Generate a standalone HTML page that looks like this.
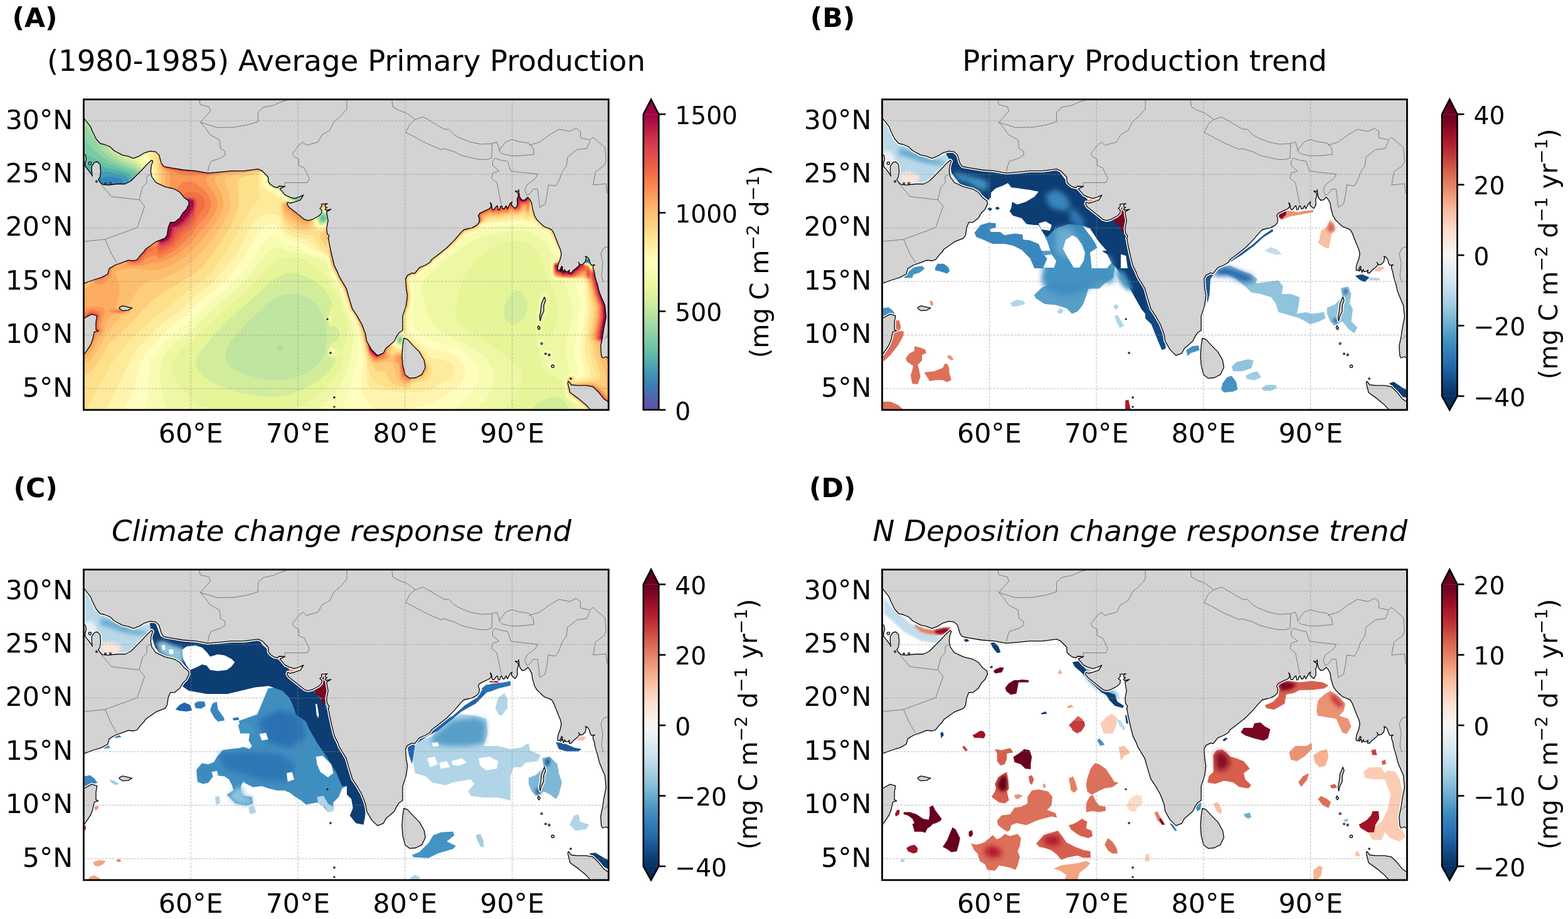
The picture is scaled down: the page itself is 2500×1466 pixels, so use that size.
<!DOCTYPE html><html><head><meta charset="utf-8"><style>html,body{margin:0;padding:0;background:#fff}svg{display:block}</style></head><body><svg xmlns="http://www.w3.org/2000/svg" width="2500" height="1466" viewBox="0 0 2500 1466"><style>text{font-family:"DejaVu Sans","Liberation Sans",sans-serif;fill:#000}.tk{font-size:42.7px}.cb{font-size:39.2px}.ti{font-size:46.6px}.pl{font-size:42.7px;font-weight:bold}.it{font-style:italic}.cl{font-size:40.1px}</style><rect width="2500" height="1466" fill="#fff"/><defs><filter id="bl1" x="-50%" y="-50%" width="200%" height="200%"><feGaussianBlur stdDeviation="0.8"/></filter><filter id="bl2" x="-50%" y="-50%" width="200%" height="200%"><feGaussianBlur stdDeviation="1.6"/></filter><filter id="bl3" x="-50%" y="-50%" width="200%" height="200%"><feGaussianBlur stdDeviation="2.4"/></filter><filter id="bl4" x="-50%" y="-50%" width="200%" height="200%"><feGaussianBlur stdDeviation="3.2"/></filter><filter id="bl5" x="-50%" y="-50%" width="200%" height="200%"><feGaussianBlur stdDeviation="4.0"/></filter><filter id="bl6" x="-50%" y="-50%" width="200%" height="200%"><feGaussianBlur stdDeviation="4.8"/></filter><filter id="bl7" x="-50%" y="-50%" width="200%" height="200%"><feGaussianBlur stdDeviation="5.6"/></filter></defs><g transform="translate(133.4,158.6)"><clipPath id="clipA"><rect x="0" y="0" width="836.9" height="495.3"/></clipPath><g clip-path="url(#clipA)"><rect x="0" y="0" width="836.9" height="495.3" fill="#fff"/><rect x="-6" y="-6" width="848.9" height="507.3" fill="#5e4fa2"/><path d="M-4 -6l846 0 0 506-848 0 0-506zM801.6 258l2.8 0-2.4-0.2z" fill="#5061aa" fill-rule="evenodd"/><path d="M-4 -6l846 0 0 506-848 0 0-506zM800.3 258l3.7 1.4 0-2.8-2 0.4z" fill="#4175b4" fill-rule="evenodd"/><path d="M-4 -6l846 0 0 506-848 0 0-506zM803.1 256l-3.1 2.5 6 1.7-2-4.3z" fill="#3387bc" fill-rule="evenodd"/><path d="M-4 -6l846 0 0 506-848 0 0-299.7 24-2 4-1.6 10-0.4 12-2.3 18.4-8 1.6-2 0-4-1.2-48-1.9-4-2.9-1.9-8-2.3-10-0.8-18 2.9-18 15.3-4 2.1-6 0.9 0-150.2zM801.7 256l-2.2 2 0.5 1.1 6.7 0.9-1.4-4-3.3-0.3z" fill="#439bb5" fill-rule="evenodd"/><path d="M-4 -6l846 0 0 506-848 0 0-299.2 24-2 28.4-4.8 19.6-9 12-4 4-2.2 6.2-6.8-0.2-7.4-14-29-3.2-9.6-2.8-3.4-4-1.9-24-5.1-18-0.3-6.7 2.7-16.6 18-4.7 0.7 0-142.7zM801.2 256l-1.9 2 0.7 1.7 7.1 0.3-0.2-2 1.8-2-0.7-0.7-6-0.1z" fill="#54aead" fill-rule="evenodd"/><path d="M-4 -6l846 0 0 506-848 0 0-298.7 24-2 28-4.7 36-14.5 7-8.1-0.4-24 1.1-10-11.7-11.1-4-6.6-6-3.4-40-9.9-8 0.3-10-2.8-16-0.6 0-109.9zM337.8 158l4 0-3.8-0.1zM380.9 188l-0.9 2.5 2 0.6 0-3.7zM806.2 254l-4.2 0.8-2 1.8-1 1.4 0.8 2 6.2 1 1.6-1 2.4-2.4 1.3-3.6-3.3-0.4z" fill="#66c2a5" fill-rule="evenodd"/><path d="M-4 -6l846 0 0 506-848 0 0-298.2 24-1.9 26-4.2 38-14.9 7.8-8.8-0.4-24 1.5-10-0.9-8.6-13.8-13.4-36.2-12-19.7-8-14.4-8-11.9-9.8 0-84.2zM335.2 158l4.8 1.6 4.2-1.6-2.2-1.5-6 0.8zM379.9 186l-1.8 4 0.5 2 3.4 1.4 2.1-1.4 0.6-4-2.7-2.8-2 0.8zM810.9 252l-8.9 2.4-3.3 3.6 0.9 2 6.4 1.3 4-2.4 3.4-4.9-1.4-2.1z" fill="#7ccaa5" fill-rule="evenodd"/><path d="M-4 -6l846 0 0 506-848 0 0-297.7 24-1.9 26-4.2 38-14.7 8.5-9.5-0.2-24 1.6-10-1.9-14.9-8-8.2-6-3.5-28-9.5-18.4-9.9-15.7-14-19.9-24.1 0-59.9zM336.9 152l-3.5 6 4.6 2.4 6-0.8 1.1-1.6-1.1-2-6-4.4zM381.4 184l-3.2 2-1.4 4 1.2 3.9 2 1 4-0.9 2.4-4-1-4-3.4-2.2zM807.5 252l-7.5 3.4-1.5 2.6 0.8 2 6.7 1.6 6.4-3.6 2.7-6-1.1-1.6-6 1.4zM503.1 382l-0.6 2 1.5 3 2-1 0.3-2-0.3-2.4-2-0.7z" fill="#94d4a4" fill-rule="evenodd"/><path d="M-4 -6l846 0 0 506-848 0 0-297.1 24-2 26-4.1 38-14.6 9.1-10.2 0-24 1.7-10-0.8-18.5-10.5-9.5-29.5-11.3-16.2-10.7-11.1-12-16.7-25.7-14-18.5 0-37.8zM335.1 150l-3.2 8 2.1 2 10 2.6 4.7 5.4 7.3 0 0-4.5-9.6-5.5-0.4-2-6-7-4-0.9zM378.8 184l-2.8 4-0.1 4 2.1 3.5 4 0.6 3.8-2.1 2.2-4.5 2.4-1.5-6.4-4.9-4 0.2zM810.6 250l-11 4-1.4 2 0.8 4 7 1.9 5.6-1.9 3.5-4 2.1-6-5.2-0.6zM503.2 380l-1.8 4 0.6 2.8 2 1.6 2.9-2.4 0.3-4-1.2-2.3-2-0.3z" fill="#aadca4" fill-rule="evenodd"/><path d="M80 -6l762 0 0 506-848 0 0-296.6 38-3.7 16-3.4 18-8.3 16-5.2 9.8-10.8 0.2-24 1.8-10 0.3-18-1.2-4-10.9-9.6-16.9-6.4-14.5-8-9.3-8-9.4-12 2.6-12 9.5-16.6 20-22.9 12-11.5 2.6-9 0-6zM337.8 144l-3 2-4.2 12 1.7 2 7.7 2.9 8 5.5 6 0.9 3.3-1.3 0.7-4-1.1-2-12.3-8-4.5-10-2.1 0zM380.5 182l-3.8 2-2 6 0.7 4 2.6 2.9 6-0.4 4-3.6 14-1 1.3-1.9-21.3-8.4zM813.1 248l-11.1 5.1-4 0.4-0.7 2.5 1.5 4 7.2 2.2 7.3-2.2 7.5-12-2.8-1.2-4 0.8zM501.6 380l-0.9 6 3.3 3.6 2.7-1.6 1.5-6-2.2-3.7-4 1.2zM311.1 392l-3.1 2.3-0.6 3.7 2.6 2.3 4-0.2 2.8-2.1 0.2-4-2.2-2-2.8-0.3z" fill="#bfe5a0" fill-rule="evenodd"/><path d="M80 -6l762 0 0 506-848 0 0-296.1 38-3.7 16-3.4 18-8.4 16-5.1 10.4-11.3 0.5-24 1.8-10 0.9-18-0.7-6-10.9-10.3-16.8-7.7-9.8-6-7-6-1.1-4 1.5-6 11.5-16 3.9-10 5.8-8.8 0.4-11.2 1.6-1.6 0.3-6.4 5.2-18 0.4-8zM315.4 104l-19 20 1.6 6.1 4-2.6 4 4.5 0 2.6 4 2.1 2.6-2.7-0.1-18 0.8-4 4.3-8-1.6-0.6zM336.8 142l-3.6 4-4 12 0.8 1.1 6.9 2.9 4.1 4 9 3.8 4 0.2 4-1.7 1.1-4.3-1.1-4-12.6-6-3.4-11-2-2.5-2 0.9zM377.5 182l-2.8 2-1 6 1.6 6 2.7 2.1 5.2-0.1 4.8-3.1 32 1.1 1.4-2-37.4-13.2-6 1zM821.3 242l-19.3 10.6-4-0.5-1.8 1.9 2.3 6 11.5 3.4 5-3.4 12.5-16-1.5-3.1-4 0.7zM329.6 310l-17.6 4.1-18 10.6-34.8 33.3-21.9 24-8.8 14-3 12 2 10 7.9 10 13.8 8 18.8 6.1 28 5.4 20 0.5 18-3.1 16-6.1 16-9.6 12-11.2 6-11.2 4.3-28.8-2.3-18.5-4.6-17.5-7.4-12.4-14-11.9-14-5.9-16-1.8zM501.9 378l-2.1 4 0 4 2.2 3.9 2 0.8 3.6-2.7 1.3-6-2.9-5.3-4 1.2z" fill="#d1ed9c" fill-rule="evenodd"/><path d="M82 -6l760 0 0 506-56.6 0-13.4-9-8-12.4-6-2.6-8-0.9-10 1.6-10 4.4-10 7.1-13 11.8-713 0 0-295.6 38-3.6 16-3.4 18-8.5 16-5 11-11.9 0.7-24 3.5-28-0.6-8-10.6-11-15.5-9-0.5-1.9-2.6-0.1 1.2-2-0.6-3.1 1.8-10.9 3.2-10 1-28 7.1-36 0-6zM325.8 90l-31.3 32-0.1 8-1.3 2 4.9 5.1 4.2 0.9-0.2 2.3 8 0.8 2-2.1 2 1.7 0.8-24.7 13.5-26-2.3-0.2zM342.2 136l-8.2 5.6-6.1 16.4 1.3 2 6.2 2 3.5 4 4.3 2 6.8 2.5 6-0.2 3.4-2.3 0.5-8-1.9-2.7-8-4.6-2 1.8-1.5-0.5 2.3-2-2.8-3.5-2-13.5zM380.1 180l-7.3 4 0.5 10 2.2 4 2.5 1.3 4 0.2 6-2.4 22 2.1 25.9-1.2-0.6-2-53.3-16.5zM829.2 236l-7.2 3.2-20 12.9-6-0.6 0.6 6.5 3.4 3.5 10 3 1.7-0.5 5.9-4 7.1-8 3.3-1.3 8-8.1 2.7-0.6-0.7-3-2 0.4-2-4.4-4 0.2zM320.8 278l-10.8 5.5-18 13.1-59.2 53.4-21.6 22-22 26-9.1 14-2.3 10 4.2 10 12.7 12 19.8 12 29.5 11.2 40 6.8 24 0.5 22-3.9 22-8.6 24-15.1 10-8.6 8-8.9 6-9.4 1.8-6-11-4-1.9-4 0.5-6 4.6-9.9 8-3.6 2.6-2.5 3.9-10-3.2-10-3.3-2-8 0.2-2-1.7-4.3-10.5 8.4-22-0.3-4-2.6-6-5.2-9.7-5.5-6.3-8.5-8-10-6.7-12-6-12-4.3-10-0.9-8 1.5zM686.4 306l-6.4 5.9-5.1 8.1-3.8 10-1.7 10 1.1 8 3.4 6 4.1 3.4 6 1.9 8-1.8 8-6.6 5.6-8.9 2.3-10-1.3-10-4.6-10.1-6-6.1-4-1.3-4 0.7zM502.6 376l-4.1 4 0.1 4 1.4 4.9 4 2.8 4.2-1.7 1.5-4-1.7-8.8-2-2-2 0.1z" fill="#e6f598" fill-rule="evenodd"/><path d="M84 -6l326.6 0-2.3 10-56 112-12.6 18-6.4 6-6.9 18 1.3 2 4.9 2 5.4 4.5 12 4.7 4 0.2 6.5-3.4 0.5-14 17-40 35-102 3-6 2.4-12 423.6 0 0 227.6-8 2.4-14 14-12 9-6 3.2-6 0.3-1.5 1.5 1.5 6 2 2 12 5.1 8-2.6 24-0.3 0 237.8-40.1 0-15.9-7.3-16-14.1-2.9-8.6-3.1-17.7-2-3.4-8-5.3-16-6.4-6.8-7.2-2-10-4.4-12 1.8-8-5.6-8 0.2-6 2.8-4 4-2.5 4-0.5 8 1.7 4.1-2.7 7.9-14.5 4-10.5 1.7-11-0.9-12-22.2-62-9.1-20-7.5-9.8-8-6.9-8-4.1-10-1.5-18.1 2.3-16 6-17.1 10-18.8 16-9.5 12-9 18-6.1 18-3.4 20-0.6 12 1 8 3.3 8 4.6 6 11.7 10 28 15.2 24.5 16.8 21.4 18 9.6 12 1.6 6-0.1 6-5.2 16-11.5 18-17.7 20-342.8 0 22.2-10.7 20-12.2 22-17 14-14.9 8-12.3 5.6-12.9 1.1-8-2.5-8 7.3-18 2-16-1.5-15.5-10.4-28.5-7.5-18-8.1-12.4-6-14.8-12-9.7-26-15.1-10-3.5-10-0.9-16 1.7-12 7.3-49.3 51.4-33.7 28-62.9 60-9.2 10-5.2 8-1.8 8 1.3 10 3.9 10 6.6 10 28.3 29.4 12 8.1 14.1 6.5-212.1 0 0-295.1 38-3.6 16-3.4 18-8.5 16-5 8.5-8.4 4-6 0.1-22 4.8-34-1.4-6-14.8-14-2.2-4-4-18-1.9-18 0.8-18 3.9-26 2.6-10 0-6zM333.9 80l-7.9 6.5-34.7 35.5 0.7 10.5 10 9 6 0.9 6 4.9 3.1-5.3-1.1-2 1.6-26 17.7-30 0.7-4-2-0.1zM376.1 180l-4.9 4 0.7 8 2.2 6 3.9 2.5 12-1.7 20 2 22-1 8-1.6 3.3-2.2-41.3-10.9-18-6.4-6 0.7zM481.8 366l12.2 11.2 6 13.3 4 2.2 6-2.6 0.5-8.1-2.5-6.9-2-1.3-4 0.6-6-1.8-14-7zM732 309.6l4-0.5 4 1.7 3.6 5.2 0.2 4-4.2 10-0.2 8-8.5 20 2.5 4 0.2 6-3.6 5-4 0.7-4-2.2-3.5-7.5 3.3-8-0.7-10 3-22 5.1-12 2.2-2zM392 343.8l2-0.8 2 1.2 2.2 3.8-1.2 6-3 2.2-2-0.5-2.9-5.7 2.8-6zM394 395l4 0.2 4.9 2.8 3.3 4 0.3 4-6.5 3.2-8 0.1-2.1-5.3 3.1-8z" fill="#eef8a4" fill-rule="evenodd"/><path d="M84 -6l322.2 0-2.4 10-56 112-11.2 18-5.3 6-6.4 18 1.2 2 11.9 7.4 12 4.5 4 0.1 4-0.9 3.5-3.1 1.5-14 17.4-42 38-108 1.2-10 422.4 0 0 224.1-8 2.4-27 25.5-5 2.7-6 0.7-2.4 2.6 1.9 6 2.5 2.5 12 5.2 16-2.8 16 0 0 237.1-35.7 0-0.3-1.9-8-2.5-8-4.2-18-14.8-2-2.9-3.2-19.7 0.3-10 2.9-5 6.9-3-7.6-22-0.9-14 10.8-58 0.5-10-1.8-10-11.5-30-2-2-14.4-2.7-3.6-3.3-1.9-20 2.1-10-0.4-6-8.2-16-8-9.2-12-8.1-10-4.5-10-1.3-32 2.9-28.7 6.2-21.3 9.1-24 17.6-24 19.9-6 6.8-14.2 10.6-10.9 16 3.1 15.1 10 32.9 7.4 14 6.2 6 11.8 8 28.6 12.9 22.4 13.1 15.5 14 9.2 14 2.6 8 1.1 10-3.6 16-11.1 18-19.3 20-249.5 0 31.5-34 7.2-10.7 6.7-13.3 6.5-20 7-40-0.8-20-2.9-10-8.4-16-10-30-13.3-22-6.8-23.4-2-2.9-15.2-5.7-32.8-8.1-18-2.6-6-4.6-4-1.3-8 2.2-8 5.9-25.7 32.5-22.3 24.8-42.1 35.2-27.9 26.9-29.6 25.1-17.9 20-6.3 14-1.4 18 3.6 24 9.9 36-140.3 0 0-294.5 38-3.6 16-3.5 18-8.5 16-4.9 13.3-15 0.2-22 6.2-36-1.7-6.6-12-13.4-4-7.4-4.3-14.6-2.4-16 0.5-18 3.4-26 2.5-10 0-6zM335.7 74l-45.7 46 1 4-0.6 8 1.2 2 8.9 8 7.5 1.8 6 5.4 2 0.5 3.7-5.7 0.2-30 18.6-30 2.6-6 0.4-4-1.5-1.4-4 1.1zM379.5 178l-7.5 2.2-2.3 3.8 1.6 4 0.7 8.5 2 3.3 4 1.9 8-1.4 24 1.8 22-1 20-3.6 1.7-1.5-51.7-12.3-18-6-4 0.3zM479.9 358l-1 6 1.1 6.4 13.6 11.6 6.6 10 3.8 1.7 6-1.7 1.8-4-0.3-6-2.8-8-15-10-13.7-6.1zM732 313.1l2-1 3 1.9 2.1 4-0.1 4-3 6-0.3 10-3.7 7.3-2.4 8.7-1.6 1.6-2-0.1-1.5-1.5-1.1-8 3.2-22 4.7-10zM392 347.1l2.6 0.9-0.6 4.6-2.5-0.6-0.8-2 0.8-2zM724 357.5l2-0.6 4 7.1-1 4-3 2-2-1-3.5-5 2.9-6zM728 383.7l4 0.3 2.2 2 0.7 4-2.9 3.3-4 0.3-3.4-3.6 0.7-4 2.2-2zM394 397.3l4 1.3 2.8 3.4-0.1 4-2.4 2-4.3 1-3.3-3 0-4 2.5-4zM736 399.8l8 1.9 3.1 2.3 0.7 6-3.8 3.5-4 0.1-8-5.8-1-3.8 4.5-4zM746 418l6 0.2 3.6 3.8-0.4 6-3.2 3.1-8 0.1-3.1-3.2-0.2-6 5.2-4z" fill="#f7fcb2" fill-rule="evenodd"/><path d="M86 -6l301.8 0-0.7 10-3.1 3-0.9 3-9.1 8.9-1.1 3.1-8.9 8.8-1.2 3.2-8.8 8.8-1.2 3.2-8.8 8.8-1.3 3.2-8.7 8.7-1.6 3.3-44.1 50 1.6 6-0.5 8 6.6 6.7 4 3 8 2.1 8 7.9 1.8-3.7 3.7-2 4.5-9.5 1.3 5.5-4.2 14 1.2 2 5.7 2.5 8 5.8 12 4.3 4 0.2 4.3-0.8 4.2-4 1.1-12 18-44 38-108 1.2-10 421.2 0 0 220.6-10 2-29.4 29.4-3.5 2-5.1 0.4-1.2 3.6 2.3 6 2.9 3 8 2.7 4 2.7 16-2.7 16 0 0 236.3-35.1 0-0.9-3-11.1-5-24-20-1.8-6-1.3-14 1.7-10 4.5-2.4 14 0 2.8-1.6-6.8-24-1.7-12 0.6-10 8.7-58-0.9-14-4-18-4.5-12-7.1-2-23.1-1.7-4.4-2.3-1.3-22 5.7-7.4 1.1-8.6-7.1-17-7.7-13-26.3-15.8-16-1.4-60 5.9-8 8.2-16.2 5.1-19.8 18.4-30 24.3-4.2 5.3-17 10-8.8 9.5-8.3 2.5 2.8 28-1.3 16-3.1 16 1.9 8.3 4 8.9 13.8 12.8 3.7 2 40.5 13.2 18.3 8.8 8.2 6 7.9 8 4.1 6 3.3 8 1.1 8-1.5 10-3.4 8.3-6 9.7-16 16.2-25.2 17.8-166.8 0 13-34 13-54 1-36-5-19.8-11.8-22.2-9.7-30-16.5-30.1-6-22.9-26-5-16-8.8-24-6.5-4-2.7-6-8.5-8-2.7-8 2.2-8.5 7-25 38-26.5 30.5-45.3 37.5-24.6 24-27.4 22-21.7 24-7.3 12-4.7 14-1.3 12 0.1 24-5.8 36-104 0 0-294 38-3.6 16-3.4 18-8.7 16-4.7 14-15.6 0.3-22 3.7-22.6 3.7-7.4 0.9-6-2.6-10-18-26.7-4.4-21.3 1.1-30 4.3-24 0-6zM373.5 178l-4.2 2-1.1 4 2.1 4 1.1 10 2.6 3.6 4 1.5 8-1.6 24 1.9 22-1 10-2 10 0 5.8-4.4-0.9-2-8.9-1-38-8.6-20-6.5-8-1.4-8 1.4zM478.8 358l-0.9 10 1.3 4 12.8 11.7 8 9.3 4 1.9 6-0.9 3.1-6-2.6-14-14.5-10.6-16-7.3zM734 313.5l0 1.3-0.7-0.8zM736 315.9l0.8 2.1-0.8 1.2-1.3-1.2 1.2-2zM732 316.4l4.8 5.6-3 4 0.2 11.5-2-7.8-4.2 0.3 0.2-4.9 2 0.3 0.7-1.4-0.7-3.2 3.6-0.8-2.2-2zM726 339.4l1 4.6-1 0.6-0.2-4.6zM732 339.2l0 2.1-1.2-1.3zM730 342.8l0 3.8-1.2-2.6zM726 349.4l2.4 2.6-0.4 1.3-2-0.2-0.3-3.1zM724 359.6l2.4 0.4-2.7 0zM728 363.2l0 2.8-1-2zM724 365.2l0.7 0.8-1.3 0zM726 367.2l0.8 0.8-1.5 0zM728 385.6l2-0.5 2 1.5 1 1.4-1 2.7-1.4-2.7-3.1-2zM728 388.8l1.3 1.2-1.3 1.3-1.3-1.3zM394 398.8l4 2.4 1.2 2.8-3.2 3.7-2 0.5-2.7-2.2 2.3-2-2.3-2 1.3-2zM734 403l1.5 3-1.5 1.1-0.9-3.1zM738 402.8l4 0.8 3.3 2.4 0.3 2-1.6 2.3-4 0.8-2-2.6-2.4-0.5 1.1-4zM744 421.7l2-1.3 4 0.1 2.8 3.5-1.1 4-3.7 1.5-4-1.4-1.5-2.1 1.2-4z" fill="#fffebe" fill-rule="evenodd"/><path d="M88 -6l298.2 0-0.9 6-6.2 10-84.9 102-6.2 6.5-4.2 1.5 4.1 6-1 8 11.1 11 8 2.2 6.2 6.8 3.8 2.3 2.2-0.3 1.8-4.9 3.5 2.9-2.8 2 1.4 4 7.9 3.1 8 6.1 12 4.1 4 0.2 6-1 3.4-4.5 1.3-12 18.1-44 38-108 1.2-10 420 0 0 156-6.1 2-32.1 44-15.4 28-6.4 18 6 2.5 3.5 3.5 3.1 10 3.4 3.5 8 2.5 4 3.3 16-2.9 16 0 0 235.6-34.6 0-1.4-4-8.5-4-26.3-22-2.7-18 0.6-6 2-4 2.9-1.4 6 0.1 4.5 1.3 3.5 3.5 8.5-3.5 3.9-4-6.8-24-2-14 0.7-12 8-54-0.4-18-3.3-24-0.7-2-3-2-38.9-2.3-5.3-1.7-1.5-6-0.5-14 1.3-3.2 6.2-4.8 2.5-10-12.7-29-3.7-5-9-4-15.3-12.1-2-0.8-6 1.4-12-2.2-46 2.8-15.6 2.9-4.4 7-4 2.7-16 4.8-20 20-30 24.3-4 5.2-17.5 10-8.5 9.1-6 0.3-3.1 2.6-0.9 4 3.1 26-1.7 14-5 18 2 22 4.4 4 1.3 4 3.1 4 6.8 5.8 8 4.5 12 5.4 27.3 6.3 12.4 6 10.6 10 4.5 10 0.5 6-1.7 8-7.9 12-25.7 18.8-18 9.7-18 5.7-38 7.2-14 1.4-10-0.7-8-2.1-8-4.3-6-5.5-7.7-12.2-3.8-14-0.1-20 5-28-2.9-6-3.9-30-3.1-12-5.8-14-9.6-16-9.5-30-18.3-34-4.3-19.9-2-1.6-19-4.5-17-13.4-18-4.7-12-4.9-4-4-8-15.9-4-1.9-6-0.6-10 2.7-10 8.4-8 12-16 31.2-29.8 35.1-17.1 16-25.6 20-21.5 20.9-29.5 23.1-30.3 32-6.6 10-4.8 10-10.8 41.8-12 25.8-3.9 12.4-70.1 0 0-293.5 38-3.5 16-3.5 18-8.7 16-4.7 14.6-16.1 0.6-22 2.8-15.3 10.8-8.7-2-14-3.2-10-8.8-14-14.8-32-0.7-18 5-42zM376.8 176l-8.8 2-1.8 2 3.8 18 2.1 4 3.9 2.2 4 0.4 6-1.8 26 1.9 40-3 5.2-1.7 4.8-4.2 7.3-1.8-21.3-3.1-33.1-6.9-15.3-4-7.6-3.9-14-0.3zM478.8 356l-2 6 1.2 11.6 22 20.6 4 2.1 8-1.5 2.5-6.8-1.3-14-17.2-12.3-16-7.3zM392 401.7l2-1.6 2 0.8 1.8 3.1-0.9 2-2.9 1.4-2-1.3 2.6-2.1-2.8-2zM746 421.8l2.9 0.2-3.1 0zM744 423.9l0 2.2-0.1-2.1zM746 427.8l2.6 0.2-2.7 0z" fill="#fff5ae" fill-rule="evenodd"/><path d="M88 -6l296.7 0-2 8-5.8 8-84.3 102-4.6 4.6-6.9 1.4-0.7 2 3.6 8-0.6 6 1.7 4 10.9 10.3 8 2.3 6.1 5.4 8.5 4 11.4 3.6 1.5 2.4 6.3 4 16.2 4.2 8-0.6 1.2-1.6 1.5-4 0.5-10 18.7-46 38.1-108 1.2-10 418.8 0 0 153.5-4 0.8-4.9 3.7-22.4 30-12.1 18-13.4 24-5.8 14-3.3 4 7.9 1.8 4 2.3 7.8 13.9 2.2 2 7.3 2 4.7 4.4 16-3.3 16 0 0 234.9-34 0-0.9-4-7.6-4-25.5-20.4-2.5-3.6-2.5-16 1-5.9 2-3.6 4-1.5 4.7 1 2.7 2-0.7 4 1.3 1.3 2-0.2 18-5.9 4.2-3.2 0.5-2-7.7-26-1.9-14 0.7-16 5.4-48-4-44-1.2-2.2-6-1.7-32-0.4-12.2-1.7-2.3-10 0.4-12 8.2-6 1.9-5.5 2 1.7 2-1.2 8.3 1 3.7-4.4 0-5.2-16 0.1-14.3-30.5-11.7-6-18-15.5-6 3.8-10-5.2-8 2-42 3.1-12.8 3.8-5.2 6.2-6 4.2-16 5-20 20.6-30 23.9-4 5.5-16.1 8.6-7.9 9-6 0.3-4.2 2.7-1.6 6 3.1 26-1.9 14-5.4 16 0.3 24-2.3 1.5-2-0.4-2-2.8-12-8.5-16-7.2-3.6 5.4-0.7 4 2.1 14 11.8 12 0.4 2.2 4 1.2 10 6.8 2-1.2 6 0 3.3-3 1-12-0.8-2 2.5-1.1 38 34.4 18 2.3 10.4 4.4 5 6 1.4 6-2.5 8-5.5 6-28.8 16.5-14 3.5-32 1.1-32-2.6-18-3.9-3.6-2.6-2.9-16-0.7-30-11.3-48-7.1-16-9-14-9.3-30-19.2-36-4.9-20.1-14.4-5.9-9.6-11.1-8-6.9-20-4.2-14-6.4-6-6.9-6-17.8-2-3-4-2.2-8-1.1-8 1-6 2.3-6 3.8-6 6-10 15.5-18.9 37-37.1 44.2-30 23.1-22 21.3-28 20.5-39.4 38.9-11.7 18-18.9 41.4-16.2 30.6-5.6 14-40.2 0 0-293 38-3.4 16-3.5 18-8.8 16-4.6 15.3-16.7 1.3-12 7.8-16 7.8-12-3.5-28-8-18-18.7-57.1 1.5-16.9 1.8-6 0.3-10zM505 98l-109 72.7-12 4-19.5 1.3-0.6 4 4.2 10 0.4 8 2.7 6 6.8 2.3 8-2.1 24 1.8 22-1 25.1-3 18.9-7.7 10-14.8 12-28 4-14.9 4.4-24.6 1.6-15.6-2 1zM394 401l2.8 3-0.8 1.4-3.2-3.4zM394 405.3l1.4 0.7-2.4 0z" fill="#feea9b" fill-rule="evenodd"/><path d="M110 -6l273.2 0 0 2-3.2 8-88.9 108-5.1 4.2-7.5 1.8 0 22 3.9 18-10.4 8.4-6 7.7-35 63.9-27 36.7-11.8 13.3-24.4 16-23.8 20.4-29.2 21.6-44.5 42-11.7 14-14 20-36.6 66.4-8.8 11.6-5.2 0 0-292.5 38-3.4 16-3.5 18-8.8 16-4.6 16-17.7 4.2-1.5 1.8-2.9 9.6-21.1 3.8-12-2.2-30-6.1-24 0-84zM426 -6l416 0 0 151-6 1.7-4 3.5-19.4 25.8-16.5 24-6.6 14-11.5 16.7-16 5.8-4-2.3-2 0.9-0.7-1.1 1.4-2-2.7-1-9.6-21-12.3-6-18.1-17.6-2 0-4 4.5-8-7.6-10 4.2-8-0.1-20 3.1-14 0-14 7.1-5.6 6.4-4.4 2.6-16 4.8-20 21-30 24.3-4 5.3-16 8.7-10 10.1-4-0.9-5.6 4.1-1.4 6 2.9 26-2 14-5.8 16-0.1 23.3-2 0.6-2-4.3-10-6.7-18-8.1-4 5.3-1.4 5.9 2.8 16 12.6 13.7 5.1 2.3 0.9 4 4 0 4 2.3 2-1.5 8 0 3.7-4.8 0.3-9.6 2-0.4 17.8 16 16.6 26 0.5 6-1.4 8-4.4 8-5.1 2.4-18 2.4-2.2 1.2-3 6-2.8 1.5-24-0.8-16.4-2.7-15.6-9.1-4-4.4-2.3-6.5-5.7-38.7-10-37.3-6.5-14-9-14-9.2-30-20.1-38-5.2-20.1-6.6-3.9-19.4-25-12-0.4-12-2.9-10-4.5-8-6.1-4.1-7.1-5.2-22-1.3-8 0.9-2 5.7-1.9 10.7 1.9 5.3 5 10 4 16.6 3 6.1 16 0.2 6 2.2 8 2.3 2 4.6 0.8 10-2.9 26 1.4 20-1 34.5-4.3 5.5-2.2 6-4.8 8-11.6 10.8-23.4 6.2-20 6.3-42-1.3-4.6-116 76.9-8 3.1-10 0.1-6-2.6-2-4 0.3-8.9 18.8-46 38-108 1.2-10zM726.4 168l-8.4 1.2-1 4.8 1 1.1 6-0.8 17.4-6.3-5.4-1.3-8 1zM713.9 170l0.1 8.1 1.4-4.1-1.4-4.1zM451.7 222l10.9 0-0.6-1.4-10 1.4zM439.4 224l11.1 0-2.5-1.5-8 1.4zM427.4 226l10.6 0-2-1.3-8 1.2zM417.4 228l8.1 0-1.5-1.3-6 1.2zM407.4 230l5.7 0-1.1-0.9-4 0.8zM390.8 236l1.2 0.9 0-1.9zM778 244.8l6 0 4 2.5 7.3 12.7 2.7 2.3 6.6 1.7 5.4 5.7 16-3.9 16 0 0 234.2-32.1 0-1.9-4.4-6-2.7-16-14.2-12-8.5-2.4-4.2-1.9-16 2.2-6 2.1-1.8 4-0.2 3.3 2 0.3 2-3.4 4 1.8 1.6 2-0.1 22-3.4 6-1.9 4.7-4.2 1.8-4-9.3-30-1.7-20-2-6 6.1-48-7.3-46-6.3-2.9-18 0.6-24-1.2-4-1.4-1.2-3.1-1.1-14 0.8-4 9.5-5.6 14-4.3 4.6-6.1zM518 381.9l0 1.3-0.1-1.2z" fill="#fee08b" fill-rule="evenodd"/><path d="M184 -6l197.6 0 0 2-3.2 8-66.8 80-21.6 27.5-6 4.2-5.8 0.3-6.2 3.4-13.3 2.6-8.7 3.4-3.2 2.6-1.7 8 2.5 18 0.1 12-5 20-7 14-18.5 30-27 36-14.2 12.8-48.6 29.2-19.4 14.5-41.9 43.5-26.1 24-12 22.4-12 17.2-10 9.1-12 6.9 0-237.5 40-3.6 14-3.3 18-9 16-4.4 16-17.1 10.6-4.7 9.6-22 2.9-10-1.1-4-1-38 3-8 2-1.4 8-1 10-3.6 2-1.8 0.2-2.2 7.8-7.9 0.1-2.1 5.9-5.9 2.1-6.1 3.9-3.9 0.1-2.1 1.9-2 0-2.1-40 40-1-1.9 0.7-2 4.3-7 50.7-67 2.4-10zM426 -6l416 0 0 109.9-3.2 0.1-3.3 2 6.5 0.7 0 35.8-6 0.3-4 1.6-23.8 31.6-6.2 11.1-10.1 12.9-2.5 10-7.4 10.4-18 6.6-6 0.8-2-2-4.7-11.8-9.3-8.2-2.3 0.2-0.3-6 6.8-14 17.8-26.8 65.5-49.2-4 0-107.5 53.4-5.1 6.6-1.7 12-1.2 2.8-2 1.2-6-6.5-12 5-8-0.5-20 3.7-14-0.5-6 2.2-2.8 4.6-5.2 2.8-6 6.3-8 4.4-12.1 2.5-20.8 22-29.9 24-3.2 4.8-18 10.2-8 8.7-4-0.7-6 3.4-1.8 3.6-0.3 4 3.2 26-2.1 14-5.7 14-5.3 4.6-26-0.5-5.4 7.9-1.1 6 1.8 14 1.6 4 10.5 12 4.5 2 0.9 2-3.3 6 0.5 2.1 4 1.4 6-4.1 4 1.8 2-2.4 12-0.1 1.4-0.7 1.1-6 1.5-1.6 6 3.8 4 1 4 3.6 9.1 15.2 2.2 6 3.2 4 0.4 4-6.3 14-8.6 3.8-12 2.9-5.7 7.3-2.3 0.8-12-1-11.5-3.8-5.7-6-6.1-14-8.7 0.4-6-2.1-10-13-14.3-55.3-7.7-17-9.5-15-8.5-28.6-20.9-39.4-4.7-20-0.3-4 3.9-4.6 16-3.5 52-7.7 3.5-2.2-0.2-6-1.3-1.4-68 10-4 2.8-2-1.6-2 8.4-2 0.5-9.3-14.7 0.3-6 9-5.8 2 1.1 24 0 10-1.7 14-0.2 6-1.8 14-0.2 16-2.9 7.1-6.5 9.6-14 9.3-20.6 6.7-21.4 3.3-18 2.7-26-2.7-4.7-116 76.8-8 4-6 0.4-10.2-6.5-0.3-8 18.8-46 38-108 1.2-10zM695.7 144l2.3 0-2-0.1zM318 163.9l6 0 12 7.3 24 6.3 5.4 14.5-0.7 12-1.4 4-3.3 2.2-4 0.5-12-2.2-10.4-4.5-9.6-7.5-4-4.8-3.7-11.7-1.3-12 2.8-4zM736 175.9l8-1.3 1.8 1.4-1 6-1.5 4-7.2 10-0.2 2-1.9 1.1-4-2.2-2 1.5 1.1-2.4-1.1-0.8-2 1.4-6-5.5-5.6-9.1 1.6-2.3 18.3-3.7zM730 198.8l0.8 1.2-1.1 0zM734 203.8l2.5 0.2-2.6 0zM780 245.5l4 0.2 3.5 2.3 7.3 12 3.2 2.6 8 2.8 2 4.1 2 1.3 16-4.3 16 0 0 233.5-30 0-0.2-6-1.8-1.6-4-0.6 0 2.2-4-2-10-9.7-18-13.5-1.4-2.8-1.5-8 1.4-2 0.1-4-1.7-4 3.1-4.9 2 2.8 2-3 1.8 1.1 0.3 2-3.3 4 3.2 2.9 40-4.4 2.6-2.5 1.7-6-10.8-34-2.4-18-4.5-6 6.4-38 0.3-12-5.7-22-4-22-7.6-4.1-18 1.3-23-1.2-5-2-0.6-2-1.2-14 0.8-4 9-4.6 12.2-3.4 8.9-8zM494 352.7l12 0 2 7 2-6.9 0.1 15.2-2.1-7.9-2 0.9-8-6.5-4.3-0.5z" fill="#fece7c" fill-rule="evenodd"/><path d="M190 -6l190.1 0 0 2-2 6-4.1 5.5-64.5 76.5-21.5 27.5-6 3.4-4-0.3-38.2 5.4-12 4-2.3 4 0.2 4 6.5 20 1.7 10-1.6 16-8.3 18-25.5 36-21.7 24-20.9 16-11.9 6.5-16 6.7-28 6.4-9.3 6.4-21.1 32 3.8 2 2.7 6-2.1 2.3-11 3.7-2.6 2-14.4 15.6-4.3 6.4-5.7 5.2-8 17.2-16 24.6-6 5.4-4 0.1-5.4-10.5-2.6-0.4 0-201 42-3.6 10-2.3 20-10 16-4.1 16-17.1 14.6-5.5 13-30-1.7-6 0-14-2.9-10 0.1-4 22.9-21.6 22-30.6 22-46.3 1.4-9.5zM428 -6l152.9 0 1.1 8.9 74 126 12.1 13.1 10.7 6 5.2 0.9 8 0 6-2.4 2.9-2.5 95.1-142.7 0.9-7.3 45.1 0 0 108.6-8.8 1.4-115.2 57.6-6 6.6-2 12.3-2 0.8-2-1.3-4-4.8-4 3.8-8 3.2-8-1.3-6 2.6-8 0.1-6 1.8-10 0.2-4-1.1-8 2.8-3.2 6.7-8.8 8-8 4.6-13.3 3.4-20.7 21.9-20 16.9-10 7-2.3 4.2-7.7 5.3-10 4.5-8 9.1-4-0.7-6.6 3.8-2 4-0.1 4 2.9 26-2.2 14-4 10.2-6 0.6-28.7-8.8-1.1 4 0.7 12-3.5 8-0.8 8 2.7 16 14.5 16-3.1 4-0.4 4 5.7 5.7 8-5 4 0.7 2-2.2 16 1.3 5.4 5.5 0.6 2 6-2.1 6 4.7 2-0.9-1 2.3 3 1.9 3.8 8.1-0.1 4-5.7 12.1-12 4.9-6 1.1-8 6.5-8-1.4-5.1-3.2-5.2-10-3.1-16-4.6-5.6-20 3-8-1.5-4-2.9-4.3-9-6.8-26-0.9-8-4-11.6-7.6-16.4-9.2-14-2.1-10-1.5-2-5.4-18-9.4-16-10.8-22-4.7-22 0-2 2.7-2.2 8-2.7 60-9.4 5.9-3.7 1.1-10 4-8 7-6.5 9.3-13.5 6.4-16 3.8-6 2.6-12 4.2-10 3.4-18 1.5-28-3.2-5.1-109.5 73.1-12.5 6.2-2 2.2-4-0.1-10-6.2-1.8-4.1 18.7-46 24-68 14.6-42 1.2-10zM838 111.9l4 0 0 5.4-4 0.4-6 3.5-82 81.9-4 1-0.9-2.1 0.9-2.3 15.9-31.7 5.1-6 56.8-42 10.2-6.9 3.5-1.1zM318 165.9l4-1.1 14 7.5 22.9 5.7 5 14-3.9 10.8-6 2-8-1.9-10-4.9-7.9-6-6.1-5.7-2.7-4.3-2.3-10 0.8-6zM722 183.6l1.1 0.4-1.7 0zM386 212.6l2.2 1.4 0.2 6-0.4 2.5-2 0.8-2-3.3 1.2-2-0.6-4zM778 247.9l4-1.6 4 1.5 8.3 12.2 3.7 2.9 8 3 2 4.9 2 1 16-4.6 16 0 0 232.8-20.4 0-3.6-9.8-2-2.5-4-1.8-10 4.5-12.1-10.4 0.1-2.4-2 0.4 0.1-2-2.1 0.5-3.6-2.5-0.8-2-4.2-2 0.2-2-1.6-1.9-2 0.7-0.3-0.8 1.6-2-1-6 3.7-4.7 2 1.3 20-2.5 14 0.1 6 3.3 10 2.6 2.2-2.1 0.8-4-1.3-16-11.5-30-2.7-16-7.8-8 6.4-38 0.2-12-11.3-44-9-5.7-14 2.4-18-0.2-12-2.2-2.1-2.3-1.4-14 1.1-4 21.9-8 6.4-6zM780.9 456l4.9 0-3.8-1.2zM774 443.9l0 3-0.1-2.9zM778 443.7l0.8 2.3-0.8 0.9-0.4-2.9zM772 447.6l0.9 0.4-1.2 0zM774 448.7l2.7 3.3-0.7 1.5-2.8-3.5zM772 457.9l1 0.1-1 2-0.1-2zM804 490.9l0.6 1.1-1.2 0z" fill="#fdbf6f" fill-rule="evenodd"/><path d="M192 -6l186.6 0 0 2-4.6 8.5-7.5 7.5-12.5 16.5-17.5 19.5-2.5 4.5-7.5 7.5-2.5 4.5-7.5 7.5-2.5 4.5-7.5 7.5-16.5 22.5-7.5 7.5-2.5-1.3-26 4.2-26 1.7-6 0.8-10.8 4.6-2.2 4 0.5 4 9.9 18 3.3 10 0.3 10-2.5 10-6.5 12.1-23.3 29.9-16.1 18-10.6 9.6-28 16.9-14 5.2-12 0.7-36-3.5-14 2-7.2 3.1-1.4 4 5.2 16 1 10-1.8 12-4.9 16 3.1 0.9 2-2 8-0.2 4 2.3 3.4 5-5.4 3.1-18 1.9-6 4.2-8 10.8-0.8 12-8.7 10-3.4 8-14.3 22-2.8 2.3-2-0.3-2-2.9-6-1.9 0-96.3 16.5-14.9 2.6-6-1.6-2-11.5-35.7-2-4.1-4-1.2 0-37.9 28-2 6-1.5 8.9 0.4 17.1 51.6 3.8 2.4-2.4 2 8.6-0.5 1.1-1.5-1.1-1-2 2.5-3.3-1.5 3.3-1.8 0-3.6-8.2-12.6-13.4-36 1.4-2 4.2-0.3 12.9-7.7 23.1-6.5 16-17.3 20-7.6 4.6-0.6 8.1-26-1.2-20-7.2-14 21.7-21.4 23.4-32.6 21-44 2.4-12zM428 -6l151.7 0 1.6 10 74.7 127.2 12.7 12.8 9.3 4.9 6 1.1 10-0.5 4-1.6 4.3-3.9 93.7-140.4 1.8-9.6 44.2 0 0 107.3-6 0.6-5.8 2.1-108 54-8.2 5.4-2-1.5-1.3 14.1-0.7 2.3-2 0.9-2.2-1.2-3.8-6.5-5.1 6.5-4.9 2-6 0.3-4-1.9-6 3.1-8 0.2-6 1.7-10 0.2-4-1.5-10.2 3.9-2.5 8-7.3 7.2-8 4.5-12 2.3-30 30.1-2 0.2-10 9.7-10 6.8-2 3.2-2-0.1 0.8 2.1-3 0 0.2 2-4 2.6-2-1.5-1.2 0.9 0.2 2-7 2.9-4 5.2-2-0.8-8.1 2.7 0.6 2-8 6 0.7 18 1.7 8-2.1 2 0 4 1.9 2 0 6-1.6 2-1.1 7.2-2-1.3-2 2-4 0.4-8-3.6-20-5-5.5 6.3 1.3 16-2.4 14 1.6 14 3 7.6 11.3 12.4-2.9 4-0.6 4 3.6 6-1.4 3.4-4 2.5-10 2.6-6 0-5.1-2.5-6-8-10.4-42-11-22-0.3-4-1.2-1.7-2.4-0.3 1.6-2-2.1-4-1.1-1.1-2.2 1.1 1-4-3-2 1.3-6-1.1-1.7-2 0.6 0.8-2.9-3.1-4-0.1-2 1.7-2-1.3-1.9-2.3-0.1-0.1-4-2-2 0.2-2-8.3-12 1.1-2-3.2-2 0.3-2-8-14-2.9-10 1.5-2-0.3-1.9-2 0.6-1.4-10.7 3.4-3.5 6-1.8 56-9.6 4 0.2 7.1-3.3 3.6-12 4-8 15.9-22 3.8-12 4.6-8 2.5-12 4.5-10 3.4-18-0.2-16 1.7-10-4.9-11.2-16 10-3.2 3.2-2.8 0.8-3.2 3.2-2.8 0.8-3.2 3.2-2.8 0.8-3.2 3.2-2.8 0.8-3.2 3.2-2.8 0.8-3.2 3.2-2.8 0.8-3.2 3.2-2.8 0.8-3.2 3.2-2.8 0.8-3.2 3.2-2.8 0.8-3.2 3.2-2.8 0.8-3.2 3.2-2.8 0.8-3.2 3.2-2.8 0.8-3.2 3.2-2.8 0.8-3.2 3.2-2.8 0.8-3.2 3.2-2.8 0.8-3.2 3.2-2.8 0.8-3.2 3.2-4.8 2.3-8 0.4-10-4.6 3.1-6.1 0.9-4.9 3.2-5.1 0.8-4.8 5.4-9.2 0.6-4.6 3.5-5.4 4.5-16.5 1.5-1.5 0.5-4.5 1.5-1.5 0.5-4.5 3.5-5.5 0.3-4 1.7-2 2.5-10.5 1.5-1.5 0.5-4.5 1.5-1.5 0.5-4.5 3.5-5.5 0.3-4 1.7-2 0.3-4 1.7-2 4.5-16.5 1.5-1.5 0.5-4.5 3.5-5.5 0.5-4.5 1.5-1.5 0.4-12zM322 166l14 7.4 21.1 4.6 3.6 16-2.7 4.2-4 1-10-3.3-6.6-3.9-14.8-12-2.6-4-1.2-6 0.3-2 2.8-2zM780 247.6l4-0.4 2 1.3 7.8 11.5 4.2 3.2 7.4 2.8 2.7 6 3.9 0.2 14-4.2 16 0 0 182.2-3.7-20.2-8.2-18 0.6-8 7.3-8-12-3.2-4.6-4.8-9.1-6 0.6-8 5.5-28 0.2-14-12-44-6-4-2.6-3.9-16 4-18-0.1-10.1-2-3.9-3.9-1.1-12.1 1.1-3.9 20-6.7 9.4-7.4zM526 277.4l2.1 0.6-2.5 0zM428 335.3l1.1 0.7-1.4 0zM512 334.9l0 2.8-1.2-1.7zM506 405.3l10 0.6 5.1 2.1 9.9 14 7 0.4 4 1.9 2-1-0.8 2.7 0.8 1.7 2.1 0.3-5 12-11.1 4.9-6 1.1-6 5.4-6-0.6-6-3.4-3.1-9.4-1-14-0.9-2-6-4-0.7-2 0.5-4 3-4 2.2-1.2 4 0.5 1.3-1.3zM794 454l6-0.7 14 1.2 13.9 9.5 8.1 9.1 3.9-3.1 2.1-4.7 0 34.7-18.8 0-2.4-8-4.8-6.7-6-2.4-8 2.1-3.7-3-2.2-4 1.6-4-4.6-10 0.2-6 2.8-2-2.3-2z" fill="#fdad60" fill-rule="evenodd"/><path d="M194 -6l141.8 0 0 2-2.4 8-52 104-3.6 2 0.8 2-6.6 0.6-2-2.2-6-0.2-3.1 1.8 3.2 2-2.1 0.6-40 2.6-20.5 4.8-6.1 4-1 2 1.1 4 12.5 17.8 3.8 8.2 1.4 8-1 8-3.1 8-5.1 8-34.2 40-18.4 16-17.4 9.2-14 4.4-14 1.6-14 4-22 0.5-2.3-1.7-0.1-4-3.5-12-15.1-44 3.7-4 7.3-4 12-3.9 10-1.1 4-3.6 4.4-7.4 7.6-7.2 14-5.2 18.1-3.6 7.2-24 0.9-18-2.7-6-9.5-7-2.5-5 2.5-1.1 18.4-18.9 24.5-34 21-44 2.4-12zM518 -6l60.5 0 1.6 10 75.2 128 12.7 12.8 10 5.4 6 0.8 11.9-1 4.1-2.4 4-4.3 92-138 2.4-5.3 0.4-6 43.2 0 0 106-6 0.6-6 2.2-104 52-12 7-2-0.4-2 13.8-2 2.2-3.4-7.4-2.6-0.4-2 1.2-4 6.1-4 1.9-6-0.2-4-2.1-6 3.3-10 0.4-4 1.6-10 0.1-4-2-12 4.9-2 9.2-6 6.4-2 0.2-4 3.5-2 0.7-4-1.5-1.1 0.7 1.1 2-8 0.9-4 3.7-2-0.7 0.5 2.1-2.5-0.8 0.5 2.8-2.5 3-2-0.4-4 2.5-2 0.7-8-12.6-20-16.3-1.3 1.1 25.5 30 0.1 4-10.3 10.1-6 1.6-14-10.6-12-11.6-1 0.5 12.2 18 6.8 4.7 4 0.9 0.3 2.4-4.3 5.1-10 6.4-2 2.8-6 2.3-2.5-0.6 0.2-6-2.2-6-7.5-7-0.4 3 7.1 14 1.3 6-2 2-6 2.1-2.1-2.1-26-52 0.1-2-2.1-2 0.2-4 1.9-1.6 6 0.6 12 12.2 1.2-1.2-0.8-2-21.8-28-3.7-8 1.1-6.3 4.4-5.7 1.4-10 5.9-14 3.1-16-0.4-18 1.6-10-4-10-0.4-4 2-10 0.6-26 2-10 0-24 2-10 0-8zM537 208l3 4.5 1-0.5-0.7-2-2.3-2.5zM324 167.9l2 2.7 10 4.2 19 3.2 0.2 14-1.2 1.9-10-3.8-18-13.4-3.7-4.7 0.7-4zM12 207.7l10.8 0.3 26 56 2.3 2-6.5 6-0.6 8.5-2 4.1-10 9.6-8 1.9-4-1-2-2.5-14.9-46.6-5.1-4.8-4-0.4 0-31.2 12-0.2 4.4-1.4zM480 207.6l3.1 4.4 28 58 4.5 4 0.1 2-5.7 10.5-44-21.3-0.3 4.8 3.6 18 40.7 0.6 2.6 3.4 1.4 6-0.8 10-5.2 5.6-6.7 0.4 4.7 0.6 6 3.1 1.8 6.3-1.3 4-2.5 1.6-34-8.1-6 2.2-1.4 2.3 0.5 12 2.4 14-1.1 12 2.1 16 3.2 6 8.9 10-2.6 6 1.7 8-1.7 2-6 2.6-8 2-4-1.2-8-7.4-8.6-32 1.4-6-0.8-0.9-2 0.7 0-4.7-2.3-1.1 1.2-4-1.7-6-2.2-6-3.6-4-3-6 1.6-4.5 8.7-5.5 0.6-2-11.3 2.8-4-0.8-2.7-4 0.7-2.9 6-4.7 28-8.6 2.3-3.8-0.5-4-1.8-2.3-2 0.1-16 5-2 3.2-4 1.3-4 4.5-2-0.4-6 4.5-1.4-5.9 2.1-2-6.7-5.1-6.4-12.9 0.4-3.9 8.9-6.1-0.9-0.9-10 3.2-2-0.1-2-2.1-5.1-12.1-2.9-3.7-2 0.4 0.8-2.7-0.8-2.7-2-0.4-0.4-2.9 2.4-0.8 2.2-3.2-2.2-0.6-2-2.5-2 1.7-0.3-6.6 0.3-2.1 4-2.8 12-2.6 48-8 12 1.3 3.8-5.8 0.2-4.4 5.8-11.6zM782 247.8l4.8 2.2 8.5 12 9.3 4 3.4 6.9 2 0.4 16-4.7 16-0.1 0 124-16-2.9-11.5-7.6 0.5-8 5.5-28-0.1-16-5.8-16-6.6-26.4-6-3.6-4-7.2-10.8 5.2-9.2 1.9-21.4-1.9-4.6-2.3-2-3.7-0.7-10 1.5-4 19.2-6 11.3-8zM400 267.5l1 0.5-1.2 0zM402 271.7l0.8 0.3-0.9 0zM516 319.2l0 4.9-0.1-4.1zM514 330l0 2 0-2zM6 331.4l8-1.2 14 0.7 4 2.1 2.9 5-7.8 22-0.2 2 3.3 6-0.4 2-3.8 3.2-4 1-5.3 11.8-10.7 16.5-12-2.7 0-50.7 3.9-1.1 2.8-12 3.8-4zM58 333.6l6 0.6 4.3 3.8-4.3 2.4-8 0.8-12-0.9-5-2.3 3-2.8 15.7-1.2zM442 357.5l1.3 0.5-1.5 0zM4 402.6l0.5 1.4-0.9 0zM506 407l10 1.1 3.9 1.9 8.8 14 0.9 4-1.8 6 0.9 4-3.1 6-7.6 5.4-4-0.6-7-4.8-2-6-1-17.3-4.9-2.7-1.4-2 1.5-6 4.8-0.4 1-1.6zM840 413.8l2-0.8 0 5.6-2.3-4.6zM802 455l10 0.1 14 10.4 9.5 10.5 6.5-1.2 0 25.2-17.2 0-2.4-8-5.7-8-12.7-8.5-4.6-5.5-2.2-6 3.4-8z" fill="#fa9857" fill-rule="evenodd"/><path d="M194 -6l49.2 0 0.5 18 1.9 10 2.4 38 3.9 32 3.7 18-1.8 2-5.5 2-28.3 1.8-2 1.3-8 0.5-14 3.4-8-1-20 1.5-10-0.7-30-11.9-2.7-2.9 20.7-22.2 25.5-35.8 19.8-42 2.4-12zM252 -6l20.5 0-0.5 109.6-6-5.5-1.1-4.1-14-100zM520 -6l57.4 0 1.6 10 75.2 128 13.8 14 10 5.5 16 0 6-2.9 4.5-4.6 92-138 2.8-6 0.4-6 42.3 0 0 104.8-6 0.5-6 2.2-118 59.4-2 9.3-2 2.7-2-4.8-6 0.2-4.8 7.7-3.2 1.5-6-0.5-4-2.3-2 0.1-4 3.6-10 0.1-4 1.8-4-0.9-6 1-4-2.1-14 5.7-0.5 10-3.5 4.1-5.7 1.9-0.3 2-8-3-2 0.9-2.6 4.1-5.4 3-4-0.9-87.6-88.1-0.8-12 1.4-10-3.6-14 2-10 1.1-26 2-10 0-24 2-10 0-8zM160 131.3l8-0.4 12 4.2 10 7 8 8.9 3.9 7 1.7 8-1.6 9-4.8 9-15.2 16.3-8 13.3-22 21.7-8 6.1-22 11.9-2-0.4-4-3.9-6-0.3-10.7 5.3-10.5 8-8.8 1.5-10-2.4-4.1-19.1-14.6-40 6.7-4.5 8-3.3 12-1.1 24.3 36.9 3.7 4 8-0.3 2-1.6 0.4-4.1-2.6-2-8.5-18-5.3-7.8-13.2-12.2 1.3-4 3.9-5.2 8-6.2 12-4.3 18-3.4 8.2-2.9 11.8-22.2 8.5-7.8zM510 145.8l7.2 6.2 47.4 50 15.9 20 0.9 4-1.4 1.4-2 0.2-4-3-0.8 1.4 0.8 4-2 1.9-2 0.1-11.2-8-10-10-43.2-52-1.3-4 1.3-6 2.4-5.3 1.7-0.7zM500 171.1l2-0.6 51.5 69.5 2.8 2-0.2 4-2.1 0.1-2.3-2.1-3.2-6-44.5-58.5-4.4-7.5zM458 229.9l6.9 2.1-4.2 6-10.7 4.3-18.9 1.7-23.1 4.1-10 0.2-2.7-4.3 0.7-2.4 6-2.1 55.3-9.5zM426 249.8l10-1.1 1.7 1.3-4.8 4-16.9 6.1-14 1.8-1.1-1.9-0.7-2 1.8-2.5 23.5-5.5zM780 249.1l4-0.4 2 1.2 8.7 12.1 7.3 4.6 2-0.5 4 7.8 18-4.7 16-0.1 0 120.7-16-1.7-9.6-6.1 0.4-8 5.5-28-0.1-16-6.1-16-6.5-26-1.6-2.6-4-0.7-2.5-2.7-1.5-7.1-4 0-11.5 7.1-6.5 1.3-16-0.8-8-3-3.2-3.5-1.2-10 1.9-4 18.5-5.4 8.8-6.6zM456 251.2l3.6 0.8 1.5 2-5.1 6.6-6 1.3-14 7-16 5.9-2 0.5-2.6-1.3 0.6-2 3-2 35.7-18zM12 255l12 7.9 8 3.6 6 0.7 3.4 4.8-1.4 8.5-10 7.2-8 1.9-2-0.8-8.4-26.8-0.3-6zM456 263.4l4 2.3 1.5 2.3-2.3 4-0.3 6 4.3 4 1.8 8-1 1.4-6 2.7-24 6-12 1.6-2.6-9.7 0.6-4 12-9.4 23.4-14.6zM472 293.2l38 0.1 2.4 4.7-0.4 6.2-4 3.5-22.8 4.3 0.8 4.4-12-0.3-14 10.8-8.9 5.1-3.1 0 9.6-8 1.9-6-2.2-2 0.5-2 7.9-4 2.4-6-0.8-6 3.1-4zM490 317.8l2.9 0.2-4.1 0zM440 319.9l0 2.2-0.1-2.1zM496 319.5l8.9 0.5 5.1 1.7 0.9 2.3-0.9 2-15.3-6zM8 335.6l6-1.1 10 3 2.8 2.5 0.9 6-3 8-1.1 10 3.9 4-1.5 2.9-6 1.1-6 2.9-20-5.5 0-17.6 5.4-3.8 2.6-7.2 5.2-4.8zM48 337.6l10-1.5 7.4 1.9-4.7 2-4.7 0.3-9-2.3zM464 355.4l3.5 0.6-6.1 6-3.4 0.6-4 3.1-4.6 0.3-0.7-4 1.3-1.3 12.2-4.7zM466 367.4l2-0.6 2 2 0.9 11.2 3 10 4.1 4.4 2.7 7.6-0.7 7.5-12 5.2-4-1.5-6.7-5.2-4-10-1.6-12-1.7-1.1 0.7-2.9-2.1-6 3.4-4.5 12.1-3.5zM506 409.1l2 2.1 2-1 8 1.3 8.5 12.5 0.2 4-3 12-3.7 6.6-4 0.5-8-5.3-2.7-13.8-0.7-14 0.8-4zM804 455.9l4 1.4 4-0.8 12.2 9.5 9.8 11.3 2 0.8 6-0.9 0 22.8-15.6 0-2.3-8-5.4-8-16.7-14.5-1.9-5.5 1.3-4 2.2-2-0.8-2z" fill="#f7814c" fill-rule="evenodd"/><path d="M196 -6l43.3 0 0 18 1.7 10 1.8 38 3.5 32 3.4 18-3.7 1.5-26 2.8-2 1.7-10 0.9-2-2.7-2 0-4.9 1.8 0.9 2-4 1.1-38-3.1-20-4.4-9-3.6 0.7-4 2.5-4 15.1-16 25.7-36 19.7-42 2.4-12zM522 -6l54.2 0 1.6 10 75.2 128 15 15.2 10 5.6 16-0.5 6-2.7 5.4-5.6 92-138 2.8-6 0.4-6 41.4 0 0 103.5-8 0.9-4 1.7-104 52.1-14 8.2-4 8-2-2.1-8 1.6-4 7.6-6 0.7-8-4.1-4 5-10-0.3-4 2.2-4-1.6-6 1.7-4-2.3-15.3 7.2 0.7 8-1.4 3.4-2 1.4-6 1.6-4-0.9-4-4.5-4-0.1-2 1.2 0.2 7.9-4.5 2-3.6-2-86.1-86.1-1.3-7.9 1.3-12-2.9-14 3.7-20 0.1-16 2-10 0-24 2-10 0-8zM168 147.7l10 0.3 10.3 6 3.7 5.2 1.4 4.8-1.8 10-9.6 12.5-6 14-4 5.6-14 11.6-14 16.6-22 12.6-2-1-3.4-5.9 1.1-12-2.2-2-5.8-14-8.2-12-13.5-12 0.6-4 2.6-4 6.8-5.9 14-5.1 35.4-7 8.6-8.8 10.7-5.2zM508 150l27.7 28 1.2 4-6.9 2.1-2-1.7-20.4-24.4 0.4-8zM70 194l4.2 0 27.8 40.4 9.9 3.6-1.3 2-6.6 3.5-16 15.5-8 2.1-9-3.1 1.2-2-5.9-28-13.3-26 5.4-4 11.4-4zM454 232l4-0.8 3.1 0.8-3.1 2.4-50 9.8-10 0.7-0.6-0.9 0.6-2.2 8-1.8 48-8zM780 249.9l4-0.5 2 1.2 8 11.3 8 5.8 2-0.5 4 8.3 18-5.6 16-0.3 0 119.3-16-1.9-8-5 0.4-8 5.4-28-0.2-16-6.3-16-5.8-24-3.3-8-1.3 2-2.9 0-4-11.5-6 1.5-11.9 8-4.1 0.7-15.3-0.7-5.6-2-5.5-4-1.6-10 2-3.8 10-1.8 8-3.1 9.8-7.3zM32 275.7l2.3 2.3-2.3 1.4-3.5-1.4 1.5-2zM32 280.8l0.6 1.2-1.1 0zM30 283.1l0.5 0.9-1.2 0zM472 297.8l38 0 0.1 2.2-1.3 2-6 2-18.8 2.4-4 1.8-6 0-2-1.5-0.2-8.7zM12 337.4l10 3.2 3 3.4-2.8 10-0.6 8 0.4 3.1 3.5 2.9-1.5 2.5-6 1-12-4.3-6.9-5.2-0.3-8 3.2-9.6 8.1-6.4zM52 337.8l10.4 0.2-6.4 1-4.5-1zM468 369.8l1.7 14.2 8.6 22-3.3 4-7 3.3-9.2-5.3-3.5-6-2.4-8 1.7-6-3.5-10 2.9-4.3 13.2-3.7zM516 419.7l4-0.6 2.9 2.9 1.4 4-3.5 14-2.8 5.5-9-5.5-2.5-12 0-2 3.5-4.1 4.6-1.9zM808 459.9l6 2.6 4-0.5-0.3 2 2.3-0.2 10 11.4 6 4.8 6-0.8 0 20.8-14 0-1.4-6-5.6-10-15.2-14-2.3-4 0.7-4 3.2-2zM814 459.8l0 1.4-0.6-1.2z" fill="#f46d43" fill-rule="evenodd"/><path d="M198 -6l31.1 0 0 116-9.1 1.4-3-1.4-1.6-4-6.9-36-2-32-2.5-14.9-4.1 42.9-0.3 14-3 10-2.1 20-3.4 6-5.1 0.8-28-2.4-20-4 0.3-2.4-4.2-2-1-2 0.9-2.5 4-5.7 8-7.6 16-23.3 10.8-12.9 21.4-46 2.5-12zM524 -6l51.1 0 1.6 10 75.1 128 12.2 13.3 14 8.7 4 0.5 14-2.1 4.7-2.4 5.3-5.6 92.3-138.4 2.8-6 0.4-6 40.5 0 0 102.2-8 0.7-4 1.6-100 50.1-16 9.5-6 6.5-10.2 1.4-3.8 7.7-2 1.2-4 0.3-8-4.7-4 5.3-4-0.6-4 1-2-1.4-2 2.1-4 0.9-2-2.9-4 2.9-2 0.1-4-2.6-16 7.5 0.4 11.2-6.4 3.1-4.8-1.1-5.2-6.7-8-3.6-2.5 4.3 0.5 10.1-90-89.9 1.2-10.2-2.3-18 4.2-20 0.1-16 2-10 0-24 1.9-8 0.1-10zM160 155.6l16 0.6 4.2 3.8 0.9 10-5.1 21.5-7.1 10.5-16.1 12-10.8 16.3-6 4.4-14 6.6-2.7-3.3-1-12-2-2-6.3-14-7.1-10-13.5-12-0.2-4 2.8-4.4 8-5.8 12-4 18-3.2 10-3.1 10-0.9 9.2-6.6zM66 195.8l4.5 0.2 26.7 38 5 4-2.7 6-13.5 13.5-6 1.4-3.4-0.9 1.4-2-1.7-2-1.6-12-5.7-18-13.5-22 2.5-2.7 7.3-3.3zM782 250l4 1.3 5.3 8.7 7.7 6 1.3 2-0.4 2-5.9 1.9-15.1 10.1-14.9-0.5-11.4-5.5-2.1-10 1.5-3.2 2-1.3 2 1 8-2 8-3.6 9.9-6.9zM804 270l3.7 8-1.7 4.6-2 0-1.1-2.6-0.1-8zM820 271.8l6-1.3 16-0.3 0 117.8-16-2-6-3.5-1.1-2.5 6.2-34-0.3-16-6.3-16-9.8-36 3.3-3.3 7.2-2.7zM12 339.6l10.9 4.4-0.3 4-2.4 2 0.8 2-1 11.2-2-6.9-2 7.2-10.8-1.5-1.5-8 0.3-6-1.1-2 8.3-6zM20 364.1l0.2 1.9-0.9 0zM22 367.7l0.9 0.3-1.3 0zM458 375.9l8-1.2 0.6 1.3-0.6 2.4-12 1.4 0-2.7 3.9-1.1zM464 380.8l1.5 3.2 4.5 4.2 5.5 13.8-0.7 6-4.8 3.7-4 0.1-6-4.1-5.1-7.7-1.2-4 0.3-4.7 9-9.3zM514 423.8l6-1.5 1.9 3.7-5.9 16.8-5.2-2.8 1.4-2-2.9-2 0.4-4-2.1-4 0.4-2.3 2 1 3.4-2.7zM826 478l8 4.5 8-1.4 0 18.9-12.4 0-1.2-8-5.3-10 2.7-4zM834 479.8l0 1.7-0.7-1.5z" fill="#e95c47" fill-rule="evenodd"/><path d="M536 -6l37.9 0 0.8 8 1.7 4 74 126 13.6 15 14 8.6 18-2.4 6-3.2 4-4.3 93.2-139.7 2.8-6 0.4-6 39.6 0 0 100.4-10 0.6-94 47-24 14.9-8.2 7.1-9.8 1.5-0.8 4.5-3.2 3.3-4 0.8-8-5.2-5 3.1 1 2.3-10-1.6-2 2.3-6-2.9-2 2.4-2-1.2-4 1.2-2-0.8-4 2.5-2-1.5-10 2.6-2-1.3-0.6-8-4.4-12-87.7-152-2.4-10zM196 6.2l1.7 1.8 1.2 6-2.4 10 2.2 20-6.1 50-4.6 18-10 1.9-0.2-1.9-1.8-1.2-4.1-0.8 2.7-4 4.8-14 1-10 1.6-2 0.1-10 1.9-2 0.1-10 1.9-2 0.1-10 1.9-2 0.1-10 1.9-2 0.1-10 1.9-1.9 0-4.1 3.4-8zM170 59.2l0.8 8.8-7.2 36-1.6 4.2-5.4 3.8-5.2 0-7.5-6 3.5-16 12.2-20 9.4-10zM520 68.7l107.8 107.3 1.2 2-1 2 0.2 4 1.8 0.6 2 3.8 0 5-4.9 2.6-3.1-0.2-6.2-7.8-0.7-4 2.5-2 0-2-17.6-8.8-20-13.1-20-19.5-10-8-34-34-1.3-14.6 2.9-12zM170 113.4l8 0.6-8.9 0zM162 157.2l10-0.1 5.9 2.9 0.8 10-3.2 16-10.4 14-17.1 12-2.9 8-5.5 8-5.6 4-12 4.6-3.1-10.6-8.8-18-6-8-13.5-12-1.1-2 1-4 7.5-6.6 8-3.1 34-7.9 10-0.9 10.6-5.5zM652 175l2.3 1-2.6 0zM660 175.1l2.7 0.9-2.9 0zM76 224.4l10.2 9.6 7.8 4.4 0.6 3.6 1.8 2-2.4-0.4 0.1 2.4-4.6 2 0.5 2.4-2.4-0.4 0.4 2.1-6-0.5-1.6-7.6-5.1-12-0.4-6zM780 251.3l4-0.5 1.9 1.2 4.6 8 7.3 6 0.2 2.9-4 1.1-12.7 10-3.3 1.3-14-0.6-10.1-4.7-2.7-6 0.8-6.6 2-1.6 2 1.4 8-2.1 12-5.8 3.2-3.3zM822 272l20-1.2 0 116.3-14-1.4-6-2.6-1.8-3.1 5.8-32-0.1-18-7.6-20-7.7-32 1.4-2.5 9.9-3.5zM804 272.8l2 3.2 0 4.3-2 0.2-0.5-6.5zM462 387.4l2-0.9 4 2.2 5.7 11.3 1.1 4-1.4 4-3.4 2.9-2 0.6-4-1.7-4.6-3.8-4-6-1.4-6.9 7.1-5.1z" fill="#df4e4b" fill-rule="evenodd"/><path d="M540 -6l32.7 0 1.9 12 76.2 130 13.2 13.5 9.7 6.5 1.9 4 3.5 2-5.1 5.9-4 1.8-14-1-11.3 1.3-16.9-20-86.1-146-2.4-10zM804 -6l38 0 0 41.6-4 0.5-5.5 3.9-108.1 108-20.3 16-6.1 0.1-2-1.1-1.9 7-2.1 1.5-4-1.6-4.8-3.9-4.4-8 19.2-4.8 5.2-3.2 3.6-4 93.4-140 2.7-6 0.4-6zM162 69.2l2-0.9 1.1 1.7-2.1 8 0.1 6-5.1 17.6-2 4.1-2 0.6-1.4-2.3 0.3-18 3.1-8 5.5-8zM164 157.3l10 1.3 3.2 3.4-0.1 10-3.1 11.8-13.7 16.2-6.3 4.6-8.3 3.4-4 12-5.7 7.8-8 3.7-6 1.1-10.8-24.6-6.1-8-13.4-12-1.4-2 0.7-4 7-6 8-3 24-4.6 10-3.1 10-0.9 12.7-6.4zM624 187l4-0.4 2.9 3.4-2.9 4.6-3.7-0.6-2.2-6zM782 251.4l4 1.8 4 7.1 6.6 5.7-0.4 2-2.2 0.4-16 12.1-10-1.7-4 1-10.8-5.8-1.7-8 2.5-3.7 2 1.7 8-2.2 12-5.8 4.1-4zM826 271.8l16-0.3 0 114.7-18-2.5-2.3-1.7-0.4-2 5.8-32-0.3-18-7.7-20-7.6-32 6.3-4 7.2-2zM462 389.1l2-0.9 4 2.7 5.3 11.1 0.4 2-1.5 4-4.2 2.9-8-5.2-4.1-5.7-1.2-4 3.3-4.7 2.4-1.3z" fill="#d43d4f" fill-rule="evenodd"/><path d="M806 -6l36 0 0 38.9-6 1.2-4 2.8-113.1 113.1-14.9 13.3-6 0-2.4-1.3-1.6 6.1-2 1.7-4.5-3.8-3.5-8 12-2.9 10-6.5 95.3-142.6 2.6-6 0.4-6zM164 158.3l8 0.6 2.8 1.1 1.3 2 0.2 8-2.9 10-13.4 16.8-8 5.9-8.8 3.3-3.2 12-5.2 8-8.8 3.9-4-0.1-9.7-21.8-6.3-8.1-14-12.5-1.1-1.4 0.5-4 6.6-5.3 8-3 24-4.4 10-3.1 10-0.9 12.7-5.3zM626 187.6l2.7 2.4-0.7 2.3-2 0.4-0.8-4.7zM780 253.8l2-1.5 2 0.3 10.4 13.4-14.4 12.5-6 1-6-1.8-4 1.2-2-2.3-2 0.4-6-3.2-1.9-7.8 1.9-3.1 2 2.2 6-1.8 14-6.4 3.8-2.9zM826 273.6l16-1.2 0 112.7-12-0.8-7.3-2.3 0-6 5.4-28-0.4-18-8.9-24-4.2-18 0.7-2-2.1-2-0.1-4 4-4 7-2zM464 389.7l4.5 4.3 4.1 10-1 4-3.6 2.4-8-5.8-4.5-6.6 0.5-3.1 7.3-4.9z" fill="#c32a4b" fill-rule="evenodd"/><path d="M806 -6l36 0 0 36.2-6 0.9-4 2.4-122 121.8-5.3 6.7-6.7 0.6-4-3.5-2 9.4-3.7-8.5 1.2-2 4.5-2.7 2.4 0.7 9.6-5.5 5-6.5 92-138 1.6-4 0.6-8zM166 159.8l4-0.7 4.9 2.9 0.1 8-4.1 10-12.9 15.6-10 6.8-6 1.2-4.1 14.4-3.9 6.3-8 3.7-4-0.2-8.5-19.8-7.5-9.1-14-12.4-0.1-4.5 6.1-4.7 8-2.9 24-4.2 10-3.1 10-0.8 15.4-6.3zM782 254l4 2.4 5.4 9.6-2.2 4-6.5 4-4.7 4.7-6-0.3-4-1.8-4 1.5-2-2.9-2 1-4.1-2.2 0.1-2.4-2 0.3-1.3-5.9 1.3-2.5 2 2.7 20-8.3 6-3.9zM832 275.5l10-0.5 0 108.9-18.4-1.9-0.1-6 5.4-28-0.5-20-5.3-12 0.3-2-2-2 0.6-4-2.4-2 1.6-6-1.2-2.6-2.3 0.6 0.6-4-2.6-6 2.3-0.2 3.5-3.8-1.2-2-2.3-0.2-0.9-1.8 0.9-1 6-0.4 7-2.6zM814 279.8l0 4.4-0.1-4.2zM464 391.4l4 4 3 6.6 0.1 6-1.1 1-4 0.3-1.7-1.3-8.3-9.9 0-2.6 1.3 0.5-0.5 2 1.2 0.1 2-4.1 2.8-2z" fill="#af1446" fill-rule="evenodd"/><path d="M708 151.7l-0.1 6.3-3.9 3.8-6 0-3.6-3.8-0.4-2.2 4 1.4 4-3.1 5.5-2.1zM168 159.3l4 1.4 2 3.3-0.3 6-3.9 8-13.8 16.9-10 6.4-5 0.7-4.9 16-4 6-6.1 2.4-4-0.2-4.9-14.2-2.4-4-8.7-10-13.5-12 0.1-4 5.4-4 8-3 24-3.9 10-3.2 10-0.7 16.7-7.2zM780 257l7.4 5 2.6 4-2 3.9-6 3.5-4 4.4-6-0.4-4-1.9-4 1.4-7-6.9-0.8-2 1.9-2 20.3-8zM754 264.2l1.7 3.8-1.7 2.5-0.7-4.5zM838 279.5l4-1.1 0 104-12-0.4-5.7-2 5.4-32 0.3-8-0.9-14-1.7-2 0.6-2.1-2.3-1.9 1-2-3.2-12 0.1-4 1.7-2-1.3-3.8-2-0.7-2.1-3.5 0-2 2.1-1.9 12.1-4.1 3.5-4zM831 340l1 6.5 1.2-2.5-1.2-4.6zM824 315.7l1.7 0.3-1.8 0zM464 393.3l2.9 2.7 2.9 6 0.2 6.5-2-1.7-2 2-6.8-6.8 0.8-5.1 2.8-2.9zM458 399.1l1.9 0.9-2.4 0z" fill="#9e0142" fill-rule="evenodd"/><path d="M700 156l4-1.7 3.3 3.7-3.3 3.3-4-2.3-2 2.4-3.2-3.4 1.2-0.9 3 0.9 1-2zM168 159.5l4.7 2.5 0.7 4-0.6 4-4 8-5.9 6-6.9 9.9-10 6.6-6 1.3-4.7 16.2-3.3 5.2-6 2.4-4-0.4-0.2-3.2-5.2-12-10.6-12.7-12.7-11.3-1.1-2 0.7-2 5.1-3.7 8-2.9 24-3.9 10-3.1 10-0.7 8-2.7 9.1-5zM776 259.7l4-1.6 9.1 9.9-11.1 9.2-2-1.4-4 1-4-2-2 1.6-2-0.1 0.8-2.3-5-2-2.4-4 16.9-8zM754 265l0 3.5-0.4-2.5zM834 286l8-0.9 0 5.9-16 2-4-0.7 0-2.3 11.9-4zM830 298.6l12-0.4 0 40.7-8 0.4-2-5.1-2 4.6 0-12.8-2.2-2 1.3-2-1.8-8 2.7-6-4.4-4 3.4-4zM834 346.5l8 0.1 0 35.1-12-0.4-5.3-1.3 4.7-30 0.6-1.7 2 1.4 1.2-1.7zM462 395.8l2-1.3 2 1.4 3 6.1 0.5 2-3.5 4.5-6.5-6.5 2.3-6zM458 399.7l0.8 0.3-1 0z" fill="#9e0142" fill-rule="evenodd"/><path d="M0.0,0.0 836.9,0.0 836.9,412.4 835.8,412.4 832.9,410.4 827.2,412.4 825.3,408.5 824.3,393.3 827.2,379.9 829.1,366.5 832.9,347.4 831.0,328.3 823.7,311.4 821.6,305.5 819.6,296.7 817.5,289.8 815.5,283.0 814.1,274.8 812.1,269.4 812.1,266.0 814.8,263.9 809.4,264.6 807.3,260.5 805.9,255.1 803.2,251.6 799.8,250.3 801.2,252.3 799.8,259.1 795.7,263.2 791.6,263.9 788.9,259.8 790.9,263.2 787.5,267.3 780.7,272.8 777.3,276.9 773.9,276.9 774.6,272.1 772.5,274.2 768.4,274.8 767.1,271.4 765.0,276.2 763.7,270.7 760.2,274.2 763.7,268.0 762.3,266.0 758.9,272.8 756.1,272.8 755.5,269.4 756.8,262.6 759.6,255.7 761.6,246.9 760.2,240.0 756.8,231.9 754.1,225.0 751.4,218.2 749.4,213.0 746.3,208.1 740.2,205.1 734.6,203.2 731.0,200.2 727.3,196.5 722.4,191.6 718.7,185.4 717.5,180.5 715.6,174.4 714.4,165.8 711.3,159.6 708.2,156.0 703.3,160.3 699.0,160.9 695.4,156.0 694.1,149.8 693.5,143.7 693.5,146.7 688.0,146.1 692.9,149.8 692.9,154.7 691.1,159.0 691.7,167.0 690.4,170.7 688.0,173.8 685.5,171.9 681.8,168.2 683.1,163.3 680.0,165.8 677.6,170.7 675.7,174.4 673.3,169.5 670.8,174.4 668.3,174.4 666.5,169.5 664.7,170.7 663.4,175.6 661.0,176.2 659.7,169.5 657.3,171.3 655.5,174.4 653.0,176.2 651.2,174.4 650.5,169.5 649.9,166.4 648.1,164.9 649.3,167.6 649.9,170.7 646.9,174.4 638.9,178.1 631.5,181.7 629.1,185.4 630.9,190.3 630.3,196.5 626.6,200.8 619.7,204.5 606.1,207.9 600.9,213.0 590.7,225.0 578.8,236.9 566.8,246.4 554.4,255.8 552.5,259.6 544.8,264.4 535.3,268.2 527.7,277.7 523.8,276.8 516.2,280.6 513.3,286.3 514.3,301.6 516.2,313.1 514.3,328.3 508.6,345.5 508.6,355.1 508.6,368.4 502.8,372.2 499.0,378.0 495.2,385.6 487.6,392.3 481.8,397.1 478.0,404.7 468.5,408.5 458.9,399.0 451.3,385.6 449.4,374.2 443.6,358.9 436.0,345.5 428.4,334.1 422.6,315.0 418.8,301.6 413.1,292.1 407.4,282.5 405.4,276.8 399.7,265.3 395.9,250.0 392.1,232.9 390.2,221.4 389.7,221.9 391.3,217.8 388.1,213.7 387.3,205.5 389.7,193.2 388.1,185.0 387.3,179.3 394.6,175.2 386.4,176.9 384.8,175.2 388.1,172.0 385.6,172.0 384.8,168.7 388.9,166.2 379.1,167.0 379.9,170.3 376.6,173.6 379.9,176.9 379.1,181.8 375.0,185.9 364.3,191.6 357.8,193.2 352.1,191.6 343.9,185.0 335.7,178.5 327.5,172.0 324.2,167.0 325.1,163.8 329.2,165.4 335.7,163.8 345.5,160.5 350.4,152.6 343.9,155.6 335.7,158.0 327.5,155.6 321.0,152.3 316.1,146.6 312.8,142.5 321.0,138.8 311.1,138.4 309.5,140.9 303.0,139.2 298.1,135.9 294.8,131.9 294.0,123.7 284.8,114.1 278.0,111.0 255.9,114.1 235.4,114.1 218.3,115.8 197.9,117.5 179.1,114.1 158.6,112.4 138.2,109.0 129.6,107.4 127.3,106.5 123.7,101.2 120.2,88.8 114.8,83.5 106.0,82.6 97.1,85.2 88.3,90.5 79.4,94.1 70.5,90.5 61.7,88.8 48.4,81.7 42.2,75.5 33.3,71.9 26.2,70.2 20.0,63.1 13.8,50.7 11.1,43.6 1.4,31.2 0.0,30.5ZM0.0,87.0 3.1,89.4 4.1,95.4 2.4,101.4 2.3,106.5 6.7,111.8 12.0,118.9 13.8,122.5 12.9,114.5 12.9,106.5 17.3,100.3 21.8,99.4 26.2,103.8 27.1,114.5 26.2,123.4 23.5,127.8 26.2,132.2 30.6,135.8 39.5,136.6 52.8,134.9 66.1,134.9 75.0,130.4 83.8,121.6 92.7,112.7 101.6,103.0 108.6,96.8 110.4,98.5 107.8,105.6 106.9,114.5 108.6,123.4 114.8,132.2 123.7,136.6 129.6,139.3 145.0,143.1 153.5,148.2 160.3,156.7 167.2,161.8 168.0,167.0 163.8,175.5 158.6,180.6 153.5,189.1 145.0,196.0 138.2,196.0 134.8,204.5 133.0,216.4 129.6,221.5 116.0,226.7 98.9,238.6 95.9,243.2 90.6,248.5 85.3,255.6 79.9,257.4 71.1,256.5 62.2,260.0 49.8,264.4 40.9,269.8 38.3,278.6 28.5,284.0 14.3,288.4 0.0,293.7ZM0.0,349.6 12.6,342.5 21.4,345.1 19.6,354.9 19.6,367.3 23.2,369.1 17.0,370.8 14.3,383.2 10.8,392.1 0.0,408.1ZM510.5,380.8 516.2,382.8 525.8,393.3 535.3,402.8 542.9,416.2 544.8,427.6 539.1,439.1 529.6,443.9 520.0,444.8 512.4,439.1 508.6,423.8 507.6,408.5 508.6,393.3ZM771.8,452.5 772.8,449.6 777.6,455.4 787.1,456.3 800.5,456.3 811.9,458.2 821.5,467.7 829.1,477.3 836.9,483.0 836.9,495.3 808.1,495.3 800.5,486.8 789.0,477.3 775.6,467.7ZM56.9,331.8 62.2,329.2 77.3,332.7 71.1,336.3 62.2,337.1 56.9,333.6ZM734.6,315.0 736.5,320.7 733.6,328.3 733.6,337.9 729.8,345.5 727.9,353.2 726.9,347.4 728.9,336.0 729.8,326.4ZM725.0,360.8 727.9,364.6 726.0,367.5 723.7,364.6Z" fill="#d3d3d3" stroke="none"/><path d="M184.2,0.0 185.9,8.3 199.6,11.8 202.1,18.6 185.9,36.5 194.4,45.9 201.3,56.1 216.6,64.6 218.3,78.3 225.1,82.5 226.0,88.5 218.3,93.6 203.0,98.7 199.6,107.3 197.9,115.8M185.9,36.5 213.2,45.0 240.5,44.2 261.0,40.7 278.0,35.6 278.0,20.3 286.6,12.6 302.6,9.4 313.6,4.4 327.6,0.0M25.6,132.8 44.4,155.0 88.7,160.1 97.2,170.4 85.3,204.5 34.1,223.2 0.0,226.7M34.1,223.2 44.4,246.4 53.3,260.9M88.7,160.1 93.8,139.7 100.6,132.8 100.6,122.6 107.5,119.2M419.6,0.0 419.6,15.2 409.4,27.1 399.2,35.6 392.3,49.3 380.4,56.1 373.6,68.0 354.8,73.2 349.7,68.0 342.9,73.2 332.7,86.8 336.1,91.9 342.9,95.3 342.9,105.6 351.4,109.0 359.9,126.0 356.5,132.8 342.9,132.8 320.7,132.8 320.7,138.0M491.3,0.0 493.0,11.8 501.5,16.9 515.1,22.0 528.8,32.2 540.7,28.0 549.3,32.2 562.9,40.7 574.9,47.5 582.2,47.6 590.7,56.1 599.2,61.2 607.8,64.6 616.3,68.0 633.4,71.4 650.4,70.6 658.9,68.0 662.3,78.3 662.3,81.7M528.8,32.2 520.3,39.0 513.4,52.7 523.7,57.8 545.9,69.7 569.7,80.0 573.7,78.3 590.7,83.4 602.7,89.4 612.9,91.9 628.2,95.3 641.9,96.2 650.4,93.6 651.3,71.4 650.4,70.6M662.3,81.7 672.6,68.0 682.8,63.8 693.0,67.2 710.1,69.7 716.9,78.3 717.8,87.7 701.6,89.4 682.8,90.2 667.5,86.8 662.3,81.7M710.1,73.2 727.2,68.0 740.8,57.8 757.9,47.6 774.9,51.0 785.1,45.9 792.0,51.0 792.0,61.2 807.3,64.6 812.4,60.4 822.7,69.7 831.2,76.6 832.9,98.7 829.5,105.6 815.9,115.8 812.4,136.3 832.9,134.6 834.6,149.9M807.3,66.3 802.2,78.3 786.9,80.0 771.5,91.9 769.8,105.6 763.0,115.8 757.9,129.4 752.7,138.0 740.8,136.3 739.1,149.9 735.7,167.0 727.2,172.1 723.8,143.1 716.9,143.1 711.8,149.9M665.8,167.0 662.3,149.9 658.9,132.8 650.4,126.0 652.1,117.5 662.3,114.1 652.1,105.6 652.1,98.7 655.5,93.6 665.8,97.0 676.0,98.7 681.1,114.1 693.0,115.8 723.8,119.2 720.3,126.0 706.7,136.3 703.3,144.8 706.7,153.3 711.8,149.9M836.9,234.4 828.6,237.4 824.6,246.4 827.6,261.4 825.6,281.4 828.6,291.4M836.9,376.4 829.6,381.4" fill="none" stroke="#7a7a7a" stroke-width="1" stroke-linejoin="round"/><path d="M836.9,412.4 835.8,412.4 832.9,410.4 827.2,412.4 825.3,408.5 824.3,393.3 827.2,379.9 829.1,366.5 832.9,347.4 831.0,328.3 823.7,311.4 821.6,305.5 819.6,296.7 817.5,289.8 815.5,283.0 814.1,274.8 812.1,269.4 812.1,266.0 814.8,263.9 809.4,264.6 807.3,260.5 805.9,255.1 803.2,251.6 799.8,250.3 801.2,252.3 799.8,259.1 795.7,263.2 791.6,263.9 788.9,259.8 790.9,263.2 787.5,267.3 780.7,272.8 777.3,276.9 773.9,276.9 774.6,272.1 772.5,274.2 768.4,274.8 767.1,271.4 765.0,276.2 763.7,270.7 760.2,274.2 763.7,268.0 762.3,266.0 758.9,272.8 756.1,272.8 755.5,269.4 756.8,262.6 759.6,255.7 761.6,246.9 760.2,240.0 756.8,231.9 754.1,225.0 751.4,218.2 749.4,213.0 746.3,208.1 740.2,205.1 734.6,203.2 731.0,200.2 727.3,196.5 722.4,191.6 718.7,185.4 717.5,180.5 715.6,174.4 714.4,165.8 711.3,159.6 708.2,156.0 703.3,160.3 699.0,160.9 695.4,156.0 694.1,149.8 693.5,143.7 693.5,146.7 688.0,146.1 692.9,149.8 692.9,154.7 691.1,159.0 691.7,167.0 690.4,170.7 688.0,173.8 685.5,171.9 681.8,168.2 683.1,163.3 680.0,165.8 677.6,170.7 675.7,174.4 673.3,169.5 670.8,174.4 668.3,174.4 666.5,169.5 664.7,170.7 663.4,175.6 661.0,176.2 659.7,169.5 657.3,171.3 655.5,174.4 653.0,176.2 651.2,174.4 650.5,169.5 649.9,166.4 648.1,164.9 649.3,167.6 649.9,170.7 646.9,174.4 638.9,178.1 631.5,181.7 629.1,185.4 630.9,190.3 630.3,196.5 626.6,200.8 619.7,204.5 606.1,207.9 600.9,213.0 590.7,225.0 578.8,236.9 566.8,246.4 554.4,255.8 552.5,259.6 544.8,264.4 535.3,268.2 527.7,277.7 523.8,276.8 516.2,280.6 513.3,286.3 514.3,301.6 516.2,313.1 514.3,328.3 508.6,345.5 508.6,355.1 508.6,368.4 502.8,372.2 499.0,378.0 495.2,385.6 487.6,392.3 481.8,397.1 478.0,404.7 468.5,408.5 458.9,399.0 451.3,385.6 449.4,374.2 443.6,358.9 436.0,345.5 428.4,334.1 422.6,315.0 418.8,301.6 413.1,292.1 407.4,282.5 405.4,276.8 399.7,265.3 395.9,250.0 392.1,232.9 390.2,221.4 389.7,221.9 391.3,217.8 388.1,213.7 387.3,205.5 389.7,193.2 388.1,185.0 387.3,179.3 394.6,175.2 386.4,176.9 384.8,175.2 388.1,172.0 385.6,172.0 384.8,168.7 388.9,166.2 379.1,167.0 379.9,170.3 376.6,173.6 379.9,176.9 379.1,181.8 375.0,185.9 364.3,191.6 357.8,193.2 352.1,191.6 343.9,185.0 335.7,178.5 327.5,172.0 324.2,167.0 325.1,163.8 329.2,165.4 335.7,163.8 345.5,160.5 350.4,152.6 343.9,155.6 335.7,158.0 327.5,155.6 321.0,152.3 316.1,146.6 312.8,142.5 321.0,138.8 311.1,138.4 309.5,140.9 303.0,139.2 298.1,135.9 294.8,131.9 294.0,123.7 284.8,114.1 278.0,111.0 255.9,114.1 235.4,114.1 218.3,115.8 197.9,117.5 179.1,114.1 158.6,112.4 138.2,109.0 129.6,107.4 127.3,106.5 123.7,101.2 120.2,88.8 114.8,83.5 106.0,82.6 97.1,85.2 88.3,90.5 79.4,94.1 70.5,90.5 61.7,88.8 48.4,81.7 42.2,75.5 33.3,71.9 26.2,70.2 20.0,63.1 13.8,50.7 11.1,43.6 1.4,31.2 0.0,30.5M0.0,87.0 3.1,89.4 4.1,95.4 2.4,101.4 2.3,106.5 6.7,111.8 12.0,118.9 13.8,122.5 12.9,114.5 12.9,106.5 17.3,100.3 21.8,99.4 26.2,103.8 27.1,114.5 26.2,123.4 23.5,127.8 26.2,132.2 30.6,135.8 39.5,136.6 52.8,134.9 66.1,134.9 75.0,130.4 83.8,121.6 92.7,112.7 101.6,103.0 108.6,96.8 110.4,98.5 107.8,105.6 106.9,114.5 108.6,123.4 114.8,132.2 123.7,136.6 129.6,139.3 145.0,143.1 153.5,148.2 160.3,156.7 167.2,161.8 168.0,167.0 163.8,175.5 158.6,180.6 153.5,189.1 145.0,196.0 138.2,196.0 134.8,204.5 133.0,216.4 129.6,221.5 116.0,226.7 98.9,238.6 95.9,243.2 90.6,248.5 85.3,255.6 79.9,257.4 71.1,256.5 62.2,260.0 49.8,264.4 40.9,269.8 38.3,278.6 28.5,284.0 14.3,288.4 0.0,293.7M0.0,349.6 12.6,342.5 21.4,345.1 19.6,354.9 19.6,367.3 23.2,369.1 17.0,370.8 14.3,383.2 10.8,392.1 0.0,408.1M510.5,380.8 516.2,382.8 525.8,393.3 535.3,402.8 542.9,416.2 544.8,427.6 539.1,439.1 529.6,443.9 520.0,444.8 512.4,439.1 508.6,423.8 507.6,408.5 508.6,393.3 510.5,380.8M771.8,452.5 772.8,449.6 777.6,455.4 787.1,456.3 800.5,456.3 811.9,458.2 821.5,467.7 829.1,477.3 836.9,483.0M808.1,495.3 800.5,486.8 789.0,477.3 775.6,467.7 771.8,452.5M56.9,331.8 62.2,329.2 77.3,332.7 71.1,336.3 62.2,337.1 56.9,333.6 56.9,331.8M734.6,315.0 736.5,320.7 733.6,328.3 733.6,337.9 729.8,345.5 727.9,353.2 726.9,347.4 728.9,336.0 729.8,326.4 734.6,315.0M725.0,360.8 727.9,364.6 726.0,367.5 723.7,364.6 725.0,360.8" fill="none" stroke="#000" stroke-width="1.3" stroke-linejoin="round"/><circle cx="9.9" cy="101.9" r="2.2" fill="#d3d3d3" stroke="#000" stroke-width="1.2"/><circle cx="20.6" cy="130.9" r="1.3" fill="#d3d3d3" stroke="#000" stroke-width="1.2"/><circle cx="34.6" cy="134.4" r="1.3" fill="#d3d3d3" stroke="#000" stroke-width="1.2"/><circle cx="42.6" cy="133.9" r="1.5" fill="#d3d3d3" stroke="#000" stroke-width="1.2"/><circle cx="730.2" cy="389.4" r="1.5" fill="#d3d3d3" stroke="#000" stroke-width="1.2"/><circle cx="736.5" cy="405.7" r="1.3" fill="#d3d3d3" stroke="#000" stroke-width="1.2"/><circle cx="742.2" cy="407.6" r="1.5" fill="#d3d3d3" stroke="#000" stroke-width="1.2"/><circle cx="747.9" cy="425.7" r="2.2" fill="#d3d3d3" stroke="#000" stroke-width="1.2"/><circle cx="776.6" cy="445.4" r="1.2" fill="#d3d3d3" stroke="#000" stroke-width="1.2"/><circle cx="388.6" cy="350.4" r="1" fill="#d3d3d3" stroke="#000" stroke-width="1.2"/><circle cx="393.6" cy="404.4" r="1.2" fill="#d3d3d3" stroke="#000" stroke-width="1.2"/><circle cx="399.6" cy="475.4" r="1.2" fill="#d3d3d3" stroke="#000" stroke-width="1.2"/><circle cx="399.6" cy="490.4" r="1" fill="#d3d3d3" stroke="#000" stroke-width="1.2"/><path d="M170.8,0V495.3M341.6,0V495.3M512.4,0V495.3M683.2,0V495.3M0,461.2H836.9M0,375.8H836.9M0,290.4H836.9M0,205.0H836.9M0,119.6H836.9M0,34.2H836.9" fill="none" stroke="#8c8c8c" stroke-opacity="0.6" stroke-width="1" stroke-dasharray="3.7,2"/></g><rect x="0" y="0" width="836.9" height="495.3" fill="none" stroke="#000" stroke-width="2.8"/><text x="-17.1" y="474.1" text-anchor="end" class="tk">5°N</text><text x="-17.1" y="388.7" text-anchor="end" class="tk">10°N</text><text x="-17.1" y="303.3" text-anchor="end" class="tk">15°N</text><text x="-17.1" y="217.9" text-anchor="end" class="tk">20°N</text><text x="-17.1" y="132.5" text-anchor="end" class="tk">25°N</text><text x="-17.1" y="47.1" text-anchor="end" class="tk">30°N</text><text x="170.8" y="547.4" text-anchor="middle" class="tk">60°E</text><text x="341.6" y="547.4" text-anchor="middle" class="tk">70°E</text><text x="512.4" y="547.4" text-anchor="middle" class="tk">80°E</text><text x="683.2" y="547.4" text-anchor="middle" class="tk">90°E</text></g><g transform="translate(1406.5,158.6)"><clipPath id="clipB"><rect x="0" y="0" width="836.9" height="495.3"/></clipPath><g clip-path="url(#clipB)"><rect x="0" y="0" width="836.9" height="495.3" fill="#fff"/><path d="M1.7,33.2 10.4,44.1 21.3,66.0 43.2,76.9 65.0,90.0 81.4,94.3 97.7,87.8 108.7,85.6 109.7,94.3 103.2,104.2 86.8,120.5 75.9,129.3 59.5,135.8 32.2,136.9 21.3,129.3 15.9,126.0 10.4,120.5 5.0,109.6 1.7,98.7Z" fill="#b8d8e9" filter="url(#bl2)"/><path d="M26.8,76.9 48.6,82.3 75.9,94.3 97.7,98.7 103.2,104.2 86.8,104.2 65.0,100.9 43.2,93.3 26.8,87.8Z" fill="#6bacd1" filter="url(#bl4)"/><path d="M26.8,117.3 43.2,115.1 59.5,120.5 58.4,131.5 43.2,134.7 29.0,132.5Z" fill="#fbe6da" filter="url(#bl3)"/><path d="M1.7,82.3 13.7,82.3 21.3,93.3 17.0,109.6 8.2,109.6 1.7,98.7Z" fill="#e7f0f4" filter="url(#bl3)"/><path d="M228.2,241.4 276.7,241.4 280.2,248.3 294.1,241.4 337.4,241.4 346.0,251.8 363.4,251.8 372.0,262.2 368.6,284.7 354.7,293.4 346.0,302.0 328.7,302.0 325.2,314.2 320.0,328.0 311.4,338.4 302.7,341.9 294.1,333.2 276.7,328.0 259.4,326.3 245.5,317.6 242.1,312.4 254.2,300.3 268.1,293.4 276.7,286.4 268.1,276.1 257.7,267.4 262.9,258.7 250.7,255.3 242.1,248.3 233.4,244.9Z" fill="#569fc9"/><path d="M259.4,276.1 285.4,272.6 328.7,279.5 346.0,289.9 320.0,307.2 294.1,314.2 268.1,307.2 255.9,293.4Z" fill="#3f8ec0" filter="url(#bl6)"/><path d="M309.6,260.5 320.0,258.7 335.6,262.2 333.9,270.9 320.0,270.9Z" fill="#ffffff"/><path d="M283.7,257.0 294.1,255.3 297.5,262.2 287.1,263.9Z" fill="#ffffff"/><path d="M351.2,241.4 394.5,241.4 403.2,262.2 411.9,286.4 419.5,307.2 419.5,341.9 413.6,335.0 398.0,307.2 384.2,284.7 372.0,267.4 356.4,250.1Z" fill="#0c3d73"/><path d="M372.0,269.1 385.9,276.1 398.0,298.6 396.3,307.2 384.2,298.6 375.5,284.7Z" fill="#4393c3" filter="url(#bl4)"/><path d="M380.7,248.3 391.1,246.6 396.3,257.0 389.4,262.2 382.4,257.0Z" fill="#ffffff"/><path d="M204.0,324.6 214.4,319.4 224.7,321.1 228.2,326.3 216.1,329.8 207.4,330.6Z" fill="#b1d5e7"/><path d="M278.5,338.4 283.7,333.2 288.9,335.8 287.1,341.0 281.1,341.9Z" fill="#b1d5e7"/><path d="M368.6,329.8 373.8,326.3 377.2,331.5 372.0,335.8Z" fill="#b1d5e7"/><path d="M370.3,345.4 375.5,343.6 380.7,352.3 385.9,360.9 379.0,364.4 373.8,355.8Z" fill="#b1d5e7"/><path d="M34.2,284.7 44.5,272.6 51.5,267.4 63.6,265.7 67.9,270.0 60.1,276.1 49.7,279.5 48.0,284.7Z" fill="#4393c3"/><path d="M84.4,269.1 87.9,262.2 98.3,262.2 105.2,267.4 107.8,273.5 103.5,277.8 93.1,274.3 84.4,272.6Z" fill="#3a87bd"/><path d="M1.2,333.2 9.9,331.5 16.8,336.7 20.3,341.9 9.9,343.6 1.2,348.8Z" fill="#4393c3"/><path d="M22.0,352.3 27.2,352.3 29.8,362.7 29.0,366.1 25.5,369.6 34.2,369.6 34.2,376.5 25.5,392.1 13.4,407.7 2.1,418.1 1.2,406.0 9.9,393.9 16.8,376.5Z" fill="#dd7059"/><path d="M37.6,412.9 42.8,406.0 51.5,400.8 51.5,393.9 60.1,395.6 68.8,399.1 70.5,404.3 63.6,407.7 63.6,416.4 56.7,423.3 58.4,428.5 61.0,442.4 56.7,454.5 48.0,453.6 45.4,440.6 49.7,425.1 44.5,421.6 39.4,418.1Z" fill="#dd7059"/><path d="M67.1,435.5 82.7,433.7 96.5,428.5 100.0,421.6 103.5,421.6 106.9,428.5 106.9,435.5 110.4,447.6 103.5,451.0 96.5,447.6 86.1,447.6 75.7,449.3Z" fill="#dd7059"/><path d="M103.5,409.5 108.7,407.7 113.9,414.7 110.4,416.4 105.2,412.9Z" fill="#ec9374"/><path d="M1.2,482.2 13.4,482.2 25.5,487.4 34.2,495.4 1.2,495.4Z" fill="#dd7059"/><path d="M75.7,321.1 80.1,322.0 81.8,328.0 77.5,328.9Z" fill="#ec9374"/><path d="M387.6,480.5 392.8,478.8 396.3,495.4 387.6,495.4Z" fill="#b1182b"/><path d="M256.4,212.6 270.0,192.2 297.3,185.4 317.7,199.0 338.2,226.3 358.7,269.4 263.2,269.4 270.0,246.8 263.2,226.3Z" fill="#3f8ec0"/><path d="M99.5,83.0 115.9,80.3 124.1,104.9 181.3,111.7 276.8,107.6 293.2,129.4 320.5,151.3 345.0,181.3 366.8,189.5 388.7,200.4 396.9,233.1 400.9,269.4 375.0,269.4 362.8,246.8 345.0,226.3 331.4,205.8 317.7,200.4 297.3,199.0 276.8,205.8 270.0,212.6 263.2,219.5 256.4,212.6 249.5,200.4 242.7,200.4 230.4,199.0 222.3,189.5 208.6,185.4 203.2,178.5 205.9,173.1 207.3,163.5 215.4,167.6 229.1,163.5 242.7,155.3 249.5,147.2 235.9,144.4 226.4,143.1 216.8,141.7 205.9,140.3 200.4,133.5 192.3,137.6 181.3,141.7 173.8,148.5 173.2,156.7 169.1,160.8 158.2,151.3 144.5,141.7 124.1,134.9 110.4,117.1 107.7,96.7Z" fill="#0c3d73"/><path d="M113.1,114.4 133.6,121.2 160.9,126.7 170.4,134.9 165.0,145.8 154.1,143.1 137.7,133.5 120.0,128.1Z" fill="#4393c3" filter="url(#bl5)"/><path d="M260.5,151.3 276.8,143.1 293.2,154.0 301.4,170.4 290.5,178.5 270.0,173.1 263.2,164.9Z" fill="#3885bc" filter="url(#bl5)"/><path d="M297.3,171.7 310.9,178.5 324.6,199.0 317.7,205.8 301.4,196.3Z" fill="#327cb7" filter="url(#bl6)"/><path d="M276.8,205.8 297.3,203.1 310.9,219.5 317.7,239.9 310.9,260.4 290.5,263.1 276.8,239.9Z" fill="#6bacd1" filter="url(#bl6)"/><path d="M256.4,250.8 365.5,250.8 369.6,291.8 256.4,291.8Z" fill="#4393c3" filter="url(#bl6)"/><path d="M292.5,224.2 303.4,216.7 310.4,220.4 318.4,231.5 323.5,244.4 321.4,257.4 314.5,268.4 305.5,268.4 296.5,253.4 288.4,238.4Z" fill="#ffffff"/><path d="M256.4,249.5 270.0,246.8 277.5,257.7 274.1,268.4 257.7,268.4Z" fill="#ffffff"/><path d="M249.5,197.6 260.5,194.4 270.4,200.4 267.3,209.4 253.6,207.2Z" fill="#ffffff"/><path d="M331.4,244.0 342.3,237.2 358.7,246.8 365.5,260.4 358.7,269.4 334.1,269.4Z" fill="#ffffff"/><path d="M380.5,246.8 388.7,249.5 391.4,269.4 380.5,269.4Z" fill="#ffffff"/><path d="M147.2,212.6 156.8,200.4 170.4,196.3 181.3,197.6 181.3,204.5 171.8,207.2 173.2,211.3 188.2,211.3 195.0,216.7 211.3,214.0 223.6,215.4 225.0,223.6 235.9,224.9 249.5,230.4 256.4,246.8 263.2,253.6 256.4,269.4 242.7,269.4 235.9,253.6 222.3,239.9 208.6,233.1 195.0,230.4 175.9,230.4 160.9,223.6 150.0,219.5Z" fill="#3a87bd"/><path d="M167.7,174.4 171.8,172.4 175.9,175.1 171.8,177.9Z" fill="#0c3d73"/><path d="M180.0,173.1 184.1,171.0 187.5,173.8 183.4,176.5Z" fill="#0c3d73"/><path d="M366.8,189.5 377.8,178.5 384.6,169.0 390.0,173.1 390.0,185.4 388.7,199.0 385.9,212.6 381.9,211.3 380.5,203.1 372.3,197.6Z" fill="#790622"/><path d="M323.2,162.2 331.4,159.4 345.0,155.3 349.1,156.7 339.6,162.2 328.7,164.9Z" fill="#ec9374"/><path d="M419.5,308.0 434.0,339.4 443.7,358.7 450.9,378.0 452.1,397.4 446.1,399.8 438.8,382.9 429.2,358.7 419.5,349.1Z" fill="#124984"/><path d="M513.7,286.3 520.9,279.0 535.4,267.0 552.3,254.9 564.4,250.1 588.6,233.2 607.9,216.3 622.4,206.6 623.6,210.2 607.9,219.9 593.4,233.2 574.1,247.6 554.8,259.7 533.0,273.0 523.4,286.3 522.1,310.4 519.0,324.9 516.1,310.4Z" fill="#1a5899"/><path d="M533.0,269.4 554.8,264.6 569.2,271.8 588.6,279.0 598.2,286.3 595.8,293.5 612.7,291.1 632.0,288.7 639.3,298.4 636.9,310.4 651.4,310.4 665.8,315.3 663.4,332.2 661.0,341.8 675.5,339.4 685.2,341.8 704.5,339.4 706.9,349.1 697.2,353.9 682.8,358.7 665.8,349.1 648.9,344.2 632.0,339.4 627.2,324.9 620.0,315.3 603.1,310.4 588.6,308.0 578.9,298.4 564.4,286.3 549.9,279.0 535.4,276.6Z" fill="#90c4dd"/><path d="M523.4,276.6 545.1,267.0 564.4,271.8 588.6,281.5 593.4,291.1 574.1,291.1 554.8,281.5 533.0,281.5Z" fill="#2065ab" filter="url(#bl5)"/><path d="M610.3,240.4 620.0,235.6 632.0,240.4 636.9,247.6 627.2,247.6 612.7,242.8Z" fill="#c2ddec"/><path d="M709.3,332.2 721.4,327.3 733.5,315.3 731.1,300.8 743.1,298.4 748.0,310.4 745.5,324.9 750.4,334.6 748.0,353.9 757.6,363.6 752.8,373.2 743.1,366.0 733.5,353.9 721.4,361.1 714.2,353.9 709.3,341.8Z" fill="#90c4dd"/><path d="M735.9,303.2 741.9,302.0 740.7,310.4 737.1,311.6Z" fill="#124984" filter="url(#bl3)"/><path d="M719.0,349.1 726.2,349.1 726.2,356.3 720.2,357.5Z" fill="#2065ab" filter="url(#bl3)"/><path d="M697.2,223.5 699.7,209.0 709.3,204.2 714.2,192.1 721.4,201.8 722.6,209.0 716.6,213.8 714.2,228.3 711.7,238.0 704.5,235.6 694.8,228.3Z" fill="#f8bfa4"/><path d="M709.3,204.2 715.4,193.3 721.4,203.0 719.0,211.4 711.7,211.4Z" fill="#d6604d" filter="url(#bl3)"/><path d="M632.0,187.3 636.9,177.6 648.9,177.6 663.4,180.0 673.1,177.6 687.6,176.4 687.6,180.0 661.0,184.9 651.4,186.1 636.9,192.1Z" fill="#ec9374"/><path d="M632.0,187.3 634.5,178.8 644.1,177.6 644.1,183.7 636.9,190.9Z" fill="#8a0b25"/><path d="M754.0,281.5 764.9,279.0 776.9,283.9 769.7,291.1 762.5,288.7Z" fill="#124984"/><path d="M776.9,283.9 793.9,285.1 792.6,288.7 776.9,288.7Z" fill="#b1d5e7"/><path d="M784.2,269.4 796.3,265.8 801.1,269.4 793.9,274.2 785.4,274.2Z" fill="#f8bfa4"/><path d="M557.2,426.3 564.4,419.1 583.7,414.3 592.2,416.7 588.6,428.8 574.1,433.6 559.6,433.6Z" fill="#90c4dd"/><path d="M542.7,452.9 549.9,443.2 557.2,440.8 564.4,450.5 566.8,462.6 559.6,466.2 545.1,467.4 540.3,462.6Z" fill="#4393c3"/><path d="M578.9,440.8 588.6,436.0 598.2,433.6 604.3,443.2 593.4,448.1 581.3,445.7Z" fill="#a2cde3"/><path d="M605.5,460.1 612.7,455.3 627.2,455.3 629.6,460.1 620.0,465.0 607.9,465.0Z" fill="#a2cde3"/><path d="M484.7,399.8 494.4,393.7 504.0,392.5 506.4,399.8 492.0,404.6 487.1,409.4Z" fill="#4393c3"/><path d="M808.3,452.9 815.6,450.5 830.1,460.1 839.5,465.0 839.5,477.0 830.1,474.6 818.0,462.6Z" fill="#0c3d73"/><path d="M836.9,412.4 835.8,412.4 832.9,410.4 827.2,412.4 825.3,408.5 824.3,393.3 827.2,379.9 829.1,366.5 832.9,347.4 831.0,328.3 823.7,311.4 821.6,305.5 819.6,296.7 817.5,289.8 815.5,283.0 814.1,274.8 812.1,269.4 812.1,266.0 814.8,263.9 809.4,264.6 807.3,260.5 805.9,255.1 803.2,251.6 799.8,250.3 801.2,252.3 799.8,259.1 795.7,263.2 791.6,263.9 788.9,259.8 790.9,263.2 787.5,267.3 780.7,272.8 777.3,276.9 773.9,276.9 774.6,272.1 772.5,274.2 768.4,274.8 767.1,271.4 765.0,276.2 763.7,270.7 760.2,274.2 763.7,268.0 762.3,266.0 758.9,272.8 756.1,272.8 755.5,269.4 756.8,262.6 759.6,255.7 761.6,246.9 760.2,240.0 756.8,231.9 754.1,225.0 751.4,218.2 749.4,213.0 746.3,208.1 740.2,205.1 734.6,203.2 731.0,200.2 727.3,196.5 722.4,191.6 718.7,185.4 717.5,180.5 715.6,174.4 714.4,165.8 711.3,159.6 708.2,156.0 703.3,160.3 699.0,160.9 695.4,156.0 694.1,149.8 693.5,143.7 693.5,146.7 688.0,146.1 692.9,149.8 692.9,154.7 691.1,159.0 691.7,167.0 690.4,170.7 688.0,173.8 685.5,171.9 681.8,168.2 683.1,163.3 680.0,165.8 677.6,170.7 675.7,174.4 673.3,169.5 670.8,174.4 668.3,174.4 666.5,169.5 664.7,170.7 663.4,175.6 661.0,176.2 659.7,169.5 657.3,171.3 655.5,174.4 653.0,176.2 651.2,174.4 650.5,169.5 649.9,166.4 648.1,164.9 649.3,167.6 649.9,170.7 646.9,174.4 638.9,178.1 631.5,181.7 629.1,185.4 630.9,190.3 630.3,196.5 626.6,200.8 619.7,204.5 606.1,207.9 600.9,213.0 590.7,225.0 578.8,236.9 566.8,246.4 554.4,255.8 552.5,259.6 544.8,264.4 535.3,268.2 527.7,277.7 523.8,276.8 516.2,280.6 513.3,286.3 514.3,301.6 516.2,313.1 514.3,328.3 508.6,345.5 508.6,355.1 508.6,368.4 502.8,372.2 499.0,378.0 495.2,385.6 487.6,392.3 481.8,397.1 478.0,404.7 468.5,408.5 458.9,399.0 451.3,385.6 449.4,374.2 443.6,358.9 436.0,345.5 428.4,334.1 422.6,315.0 418.8,301.6 413.1,292.1 407.4,282.5 405.4,276.8 399.7,265.3 395.9,250.0 392.1,232.9 390.2,221.4 389.7,221.9 391.3,217.8 388.1,213.7 387.3,205.5 389.7,193.2 388.1,185.0 387.3,179.3 394.6,175.2 386.4,176.9 384.8,175.2 388.1,172.0 385.6,172.0 384.8,168.7 388.9,166.2 379.1,167.0 379.9,170.3 376.6,173.6 379.9,176.9 379.1,181.8 375.0,185.9 364.3,191.6 357.8,193.2 352.1,191.6 343.9,185.0 335.7,178.5 327.5,172.0 324.2,167.0 325.1,163.8 329.2,165.4 335.7,163.8 345.5,160.5 350.4,152.6 343.9,155.6 335.7,158.0 327.5,155.6 321.0,152.3 316.1,146.6 312.8,142.5 321.0,138.8 311.1,138.4 309.5,140.9 303.0,139.2 298.1,135.9 294.8,131.9 294.0,123.7 284.8,114.1 278.0,111.0 255.9,114.1 235.4,114.1 218.3,115.8 197.9,117.5 179.1,114.1 158.6,112.4 138.2,109.0 129.6,107.4 127.3,106.5 123.7,101.2 120.2,88.8 114.8,83.5 106.0,82.6 97.1,85.2 88.3,90.5 79.4,94.1 70.5,90.5 61.7,88.8 48.4,81.7 42.2,75.5 33.3,71.9 26.2,70.2 20.0,63.1 13.8,50.7 11.1,43.6 1.4,31.2 0.0,30.5M0.0,87.0 3.1,89.4 4.1,95.4 2.4,101.4 2.3,106.5 6.7,111.8 12.0,118.9 13.8,122.5 12.9,114.5 12.9,106.5 17.3,100.3 21.8,99.4 26.2,103.8 27.1,114.5 26.2,123.4 23.5,127.8 26.2,132.2 30.6,135.8 39.5,136.6 52.8,134.9 66.1,134.9 75.0,130.4 83.8,121.6 92.7,112.7 101.6,103.0 108.6,96.8 110.4,98.5 107.8,105.6 106.9,114.5 108.6,123.4 114.8,132.2 123.7,136.6 129.6,139.3 145.0,143.1 153.5,148.2 160.3,156.7 167.2,161.8 168.0,167.0 163.8,175.5 158.6,180.6 153.5,189.1 145.0,196.0 138.2,196.0 134.8,204.5 133.0,216.4 129.6,221.5 116.0,226.7 98.9,238.6 95.9,243.2 90.6,248.5 85.3,255.6 79.9,257.4 71.1,256.5 62.2,260.0 49.8,264.4 40.9,269.8 38.3,278.6 28.5,284.0 14.3,288.4 0.0,293.7M0.0,349.6 12.6,342.5 21.4,345.1 19.6,354.9 19.6,367.3 23.2,369.1 17.0,370.8 14.3,383.2 10.8,392.1 0.0,408.1M510.5,380.8 516.2,382.8 525.8,393.3 535.3,402.8 542.9,416.2 544.8,427.6 539.1,439.1 529.6,443.9 520.0,444.8 512.4,439.1 508.6,423.8 507.6,408.5 508.6,393.3 510.5,380.8M771.8,452.5 772.8,449.6 777.6,455.4 787.1,456.3 800.5,456.3 811.9,458.2 821.5,467.7 829.1,477.3 836.9,483.0M808.1,495.3 800.5,486.8 789.0,477.3 775.6,467.7 771.8,452.5M56.9,331.8 62.2,329.2 77.3,332.7 71.1,336.3 62.2,337.1 56.9,333.6 56.9,331.8M734.6,315.0 736.5,320.7 733.6,328.3 733.6,337.9 729.8,345.5 727.9,353.2 726.9,347.4 728.9,336.0 729.8,326.4 734.6,315.0M725.0,360.8 727.9,364.6 726.0,367.5 723.7,364.6 725.0,360.8" fill="none" stroke="#fff" stroke-width="4.5" stroke-linejoin="round"/><path d="M0.0,0.0 836.9,0.0 836.9,412.4 835.8,412.4 832.9,410.4 827.2,412.4 825.3,408.5 824.3,393.3 827.2,379.9 829.1,366.5 832.9,347.4 831.0,328.3 823.7,311.4 821.6,305.5 819.6,296.7 817.5,289.8 815.5,283.0 814.1,274.8 812.1,269.4 812.1,266.0 814.8,263.9 809.4,264.6 807.3,260.5 805.9,255.1 803.2,251.6 799.8,250.3 801.2,252.3 799.8,259.1 795.7,263.2 791.6,263.9 788.9,259.8 790.9,263.2 787.5,267.3 780.7,272.8 777.3,276.9 773.9,276.9 774.6,272.1 772.5,274.2 768.4,274.8 767.1,271.4 765.0,276.2 763.7,270.7 760.2,274.2 763.7,268.0 762.3,266.0 758.9,272.8 756.1,272.8 755.5,269.4 756.8,262.6 759.6,255.7 761.6,246.9 760.2,240.0 756.8,231.9 754.1,225.0 751.4,218.2 749.4,213.0 746.3,208.1 740.2,205.1 734.6,203.2 731.0,200.2 727.3,196.5 722.4,191.6 718.7,185.4 717.5,180.5 715.6,174.4 714.4,165.8 711.3,159.6 708.2,156.0 703.3,160.3 699.0,160.9 695.4,156.0 694.1,149.8 693.5,143.7 693.5,146.7 688.0,146.1 692.9,149.8 692.9,154.7 691.1,159.0 691.7,167.0 690.4,170.7 688.0,173.8 685.5,171.9 681.8,168.2 683.1,163.3 680.0,165.8 677.6,170.7 675.7,174.4 673.3,169.5 670.8,174.4 668.3,174.4 666.5,169.5 664.7,170.7 663.4,175.6 661.0,176.2 659.7,169.5 657.3,171.3 655.5,174.4 653.0,176.2 651.2,174.4 650.5,169.5 649.9,166.4 648.1,164.9 649.3,167.6 649.9,170.7 646.9,174.4 638.9,178.1 631.5,181.7 629.1,185.4 630.9,190.3 630.3,196.5 626.6,200.8 619.7,204.5 606.1,207.9 600.9,213.0 590.7,225.0 578.8,236.9 566.8,246.4 554.4,255.8 552.5,259.6 544.8,264.4 535.3,268.2 527.7,277.7 523.8,276.8 516.2,280.6 513.3,286.3 514.3,301.6 516.2,313.1 514.3,328.3 508.6,345.5 508.6,355.1 508.6,368.4 502.8,372.2 499.0,378.0 495.2,385.6 487.6,392.3 481.8,397.1 478.0,404.7 468.5,408.5 458.9,399.0 451.3,385.6 449.4,374.2 443.6,358.9 436.0,345.5 428.4,334.1 422.6,315.0 418.8,301.6 413.1,292.1 407.4,282.5 405.4,276.8 399.7,265.3 395.9,250.0 392.1,232.9 390.2,221.4 389.7,221.9 391.3,217.8 388.1,213.7 387.3,205.5 389.7,193.2 388.1,185.0 387.3,179.3 394.6,175.2 386.4,176.9 384.8,175.2 388.1,172.0 385.6,172.0 384.8,168.7 388.9,166.2 379.1,167.0 379.9,170.3 376.6,173.6 379.9,176.9 379.1,181.8 375.0,185.9 364.3,191.6 357.8,193.2 352.1,191.6 343.9,185.0 335.7,178.5 327.5,172.0 324.2,167.0 325.1,163.8 329.2,165.4 335.7,163.8 345.5,160.5 350.4,152.6 343.9,155.6 335.7,158.0 327.5,155.6 321.0,152.3 316.1,146.6 312.8,142.5 321.0,138.8 311.1,138.4 309.5,140.9 303.0,139.2 298.1,135.9 294.8,131.9 294.0,123.7 284.8,114.1 278.0,111.0 255.9,114.1 235.4,114.1 218.3,115.8 197.9,117.5 179.1,114.1 158.6,112.4 138.2,109.0 129.6,107.4 127.3,106.5 123.7,101.2 120.2,88.8 114.8,83.5 106.0,82.6 97.1,85.2 88.3,90.5 79.4,94.1 70.5,90.5 61.7,88.8 48.4,81.7 42.2,75.5 33.3,71.9 26.2,70.2 20.0,63.1 13.8,50.7 11.1,43.6 1.4,31.2 0.0,30.5ZM0.0,87.0 3.1,89.4 4.1,95.4 2.4,101.4 2.3,106.5 6.7,111.8 12.0,118.9 13.8,122.5 12.9,114.5 12.9,106.5 17.3,100.3 21.8,99.4 26.2,103.8 27.1,114.5 26.2,123.4 23.5,127.8 26.2,132.2 30.6,135.8 39.5,136.6 52.8,134.9 66.1,134.9 75.0,130.4 83.8,121.6 92.7,112.7 101.6,103.0 108.6,96.8 110.4,98.5 107.8,105.6 106.9,114.5 108.6,123.4 114.8,132.2 123.7,136.6 129.6,139.3 145.0,143.1 153.5,148.2 160.3,156.7 167.2,161.8 168.0,167.0 163.8,175.5 158.6,180.6 153.5,189.1 145.0,196.0 138.2,196.0 134.8,204.5 133.0,216.4 129.6,221.5 116.0,226.7 98.9,238.6 95.9,243.2 90.6,248.5 85.3,255.6 79.9,257.4 71.1,256.5 62.2,260.0 49.8,264.4 40.9,269.8 38.3,278.6 28.5,284.0 14.3,288.4 0.0,293.7ZM0.0,349.6 12.6,342.5 21.4,345.1 19.6,354.9 19.6,367.3 23.2,369.1 17.0,370.8 14.3,383.2 10.8,392.1 0.0,408.1ZM510.5,380.8 516.2,382.8 525.8,393.3 535.3,402.8 542.9,416.2 544.8,427.6 539.1,439.1 529.6,443.9 520.0,444.8 512.4,439.1 508.6,423.8 507.6,408.5 508.6,393.3ZM771.8,452.5 772.8,449.6 777.6,455.4 787.1,456.3 800.5,456.3 811.9,458.2 821.5,467.7 829.1,477.3 836.9,483.0 836.9,495.3 808.1,495.3 800.5,486.8 789.0,477.3 775.6,467.7ZM56.9,331.8 62.2,329.2 77.3,332.7 71.1,336.3 62.2,337.1 56.9,333.6ZM734.6,315.0 736.5,320.7 733.6,328.3 733.6,337.9 729.8,345.5 727.9,353.2 726.9,347.4 728.9,336.0 729.8,326.4ZM725.0,360.8 727.9,364.6 726.0,367.5 723.7,364.6Z" fill="#d3d3d3" stroke="none"/><path d="M184.2,0.0 185.9,8.3 199.6,11.8 202.1,18.6 185.9,36.5 194.4,45.9 201.3,56.1 216.6,64.6 218.3,78.3 225.1,82.5 226.0,88.5 218.3,93.6 203.0,98.7 199.6,107.3 197.9,115.8M185.9,36.5 213.2,45.0 240.5,44.2 261.0,40.7 278.0,35.6 278.0,20.3 286.6,12.6 302.6,9.4 313.6,4.4 327.6,0.0M25.6,132.8 44.4,155.0 88.7,160.1 97.2,170.4 85.3,204.5 34.1,223.2 0.0,226.7M34.1,223.2 44.4,246.4 53.3,260.9M88.7,160.1 93.8,139.7 100.6,132.8 100.6,122.6 107.5,119.2M419.6,0.0 419.6,15.2 409.4,27.1 399.2,35.6 392.3,49.3 380.4,56.1 373.6,68.0 354.8,73.2 349.7,68.0 342.9,73.2 332.7,86.8 336.1,91.9 342.9,95.3 342.9,105.6 351.4,109.0 359.9,126.0 356.5,132.8 342.9,132.8 320.7,132.8 320.7,138.0M491.3,0.0 493.0,11.8 501.5,16.9 515.1,22.0 528.8,32.2 540.7,28.0 549.3,32.2 562.9,40.7 574.9,47.5 582.2,47.6 590.7,56.1 599.2,61.2 607.8,64.6 616.3,68.0 633.4,71.4 650.4,70.6 658.9,68.0 662.3,78.3 662.3,81.7M528.8,32.2 520.3,39.0 513.4,52.7 523.7,57.8 545.9,69.7 569.7,80.0 573.7,78.3 590.7,83.4 602.7,89.4 612.9,91.9 628.2,95.3 641.9,96.2 650.4,93.6 651.3,71.4 650.4,70.6M662.3,81.7 672.6,68.0 682.8,63.8 693.0,67.2 710.1,69.7 716.9,78.3 717.8,87.7 701.6,89.4 682.8,90.2 667.5,86.8 662.3,81.7M710.1,73.2 727.2,68.0 740.8,57.8 757.9,47.6 774.9,51.0 785.1,45.9 792.0,51.0 792.0,61.2 807.3,64.6 812.4,60.4 822.7,69.7 831.2,76.6 832.9,98.7 829.5,105.6 815.9,115.8 812.4,136.3 832.9,134.6 834.6,149.9M807.3,66.3 802.2,78.3 786.9,80.0 771.5,91.9 769.8,105.6 763.0,115.8 757.9,129.4 752.7,138.0 740.8,136.3 739.1,149.9 735.7,167.0 727.2,172.1 723.8,143.1 716.9,143.1 711.8,149.9M665.8,167.0 662.3,149.9 658.9,132.8 650.4,126.0 652.1,117.5 662.3,114.1 652.1,105.6 652.1,98.7 655.5,93.6 665.8,97.0 676.0,98.7 681.1,114.1 693.0,115.8 723.8,119.2 720.3,126.0 706.7,136.3 703.3,144.8 706.7,153.3 711.8,149.9M836.9,234.4 828.6,237.4 824.6,246.4 827.6,261.4 825.6,281.4 828.6,291.4M836.9,376.4 829.6,381.4" fill="none" stroke="#7a7a7a" stroke-width="1" stroke-linejoin="round"/><path d="M836.9,412.4 835.8,412.4 832.9,410.4 827.2,412.4 825.3,408.5 824.3,393.3 827.2,379.9 829.1,366.5 832.9,347.4 831.0,328.3 823.7,311.4 821.6,305.5 819.6,296.7 817.5,289.8 815.5,283.0 814.1,274.8 812.1,269.4 812.1,266.0 814.8,263.9 809.4,264.6 807.3,260.5 805.9,255.1 803.2,251.6 799.8,250.3 801.2,252.3 799.8,259.1 795.7,263.2 791.6,263.9 788.9,259.8 790.9,263.2 787.5,267.3 780.7,272.8 777.3,276.9 773.9,276.9 774.6,272.1 772.5,274.2 768.4,274.8 767.1,271.4 765.0,276.2 763.7,270.7 760.2,274.2 763.7,268.0 762.3,266.0 758.9,272.8 756.1,272.8 755.5,269.4 756.8,262.6 759.6,255.7 761.6,246.9 760.2,240.0 756.8,231.9 754.1,225.0 751.4,218.2 749.4,213.0 746.3,208.1 740.2,205.1 734.6,203.2 731.0,200.2 727.3,196.5 722.4,191.6 718.7,185.4 717.5,180.5 715.6,174.4 714.4,165.8 711.3,159.6 708.2,156.0 703.3,160.3 699.0,160.9 695.4,156.0 694.1,149.8 693.5,143.7 693.5,146.7 688.0,146.1 692.9,149.8 692.9,154.7 691.1,159.0 691.7,167.0 690.4,170.7 688.0,173.8 685.5,171.9 681.8,168.2 683.1,163.3 680.0,165.8 677.6,170.7 675.7,174.4 673.3,169.5 670.8,174.4 668.3,174.4 666.5,169.5 664.7,170.7 663.4,175.6 661.0,176.2 659.7,169.5 657.3,171.3 655.5,174.4 653.0,176.2 651.2,174.4 650.5,169.5 649.9,166.4 648.1,164.9 649.3,167.6 649.9,170.7 646.9,174.4 638.9,178.1 631.5,181.7 629.1,185.4 630.9,190.3 630.3,196.5 626.6,200.8 619.7,204.5 606.1,207.9 600.9,213.0 590.7,225.0 578.8,236.9 566.8,246.4 554.4,255.8 552.5,259.6 544.8,264.4 535.3,268.2 527.7,277.7 523.8,276.8 516.2,280.6 513.3,286.3 514.3,301.6 516.2,313.1 514.3,328.3 508.6,345.5 508.6,355.1 508.6,368.4 502.8,372.2 499.0,378.0 495.2,385.6 487.6,392.3 481.8,397.1 478.0,404.7 468.5,408.5 458.9,399.0 451.3,385.6 449.4,374.2 443.6,358.9 436.0,345.5 428.4,334.1 422.6,315.0 418.8,301.6 413.1,292.1 407.4,282.5 405.4,276.8 399.7,265.3 395.9,250.0 392.1,232.9 390.2,221.4 389.7,221.9 391.3,217.8 388.1,213.7 387.3,205.5 389.7,193.2 388.1,185.0 387.3,179.3 394.6,175.2 386.4,176.9 384.8,175.2 388.1,172.0 385.6,172.0 384.8,168.7 388.9,166.2 379.1,167.0 379.9,170.3 376.6,173.6 379.9,176.9 379.1,181.8 375.0,185.9 364.3,191.6 357.8,193.2 352.1,191.6 343.9,185.0 335.7,178.5 327.5,172.0 324.2,167.0 325.1,163.8 329.2,165.4 335.7,163.8 345.5,160.5 350.4,152.6 343.9,155.6 335.7,158.0 327.5,155.6 321.0,152.3 316.1,146.6 312.8,142.5 321.0,138.8 311.1,138.4 309.5,140.9 303.0,139.2 298.1,135.9 294.8,131.9 294.0,123.7 284.8,114.1 278.0,111.0 255.9,114.1 235.4,114.1 218.3,115.8 197.9,117.5 179.1,114.1 158.6,112.4 138.2,109.0 129.6,107.4 127.3,106.5 123.7,101.2 120.2,88.8 114.8,83.5 106.0,82.6 97.1,85.2 88.3,90.5 79.4,94.1 70.5,90.5 61.7,88.8 48.4,81.7 42.2,75.5 33.3,71.9 26.2,70.2 20.0,63.1 13.8,50.7 11.1,43.6 1.4,31.2 0.0,30.5M0.0,87.0 3.1,89.4 4.1,95.4 2.4,101.4 2.3,106.5 6.7,111.8 12.0,118.9 13.8,122.5 12.9,114.5 12.9,106.5 17.3,100.3 21.8,99.4 26.2,103.8 27.1,114.5 26.2,123.4 23.5,127.8 26.2,132.2 30.6,135.8 39.5,136.6 52.8,134.9 66.1,134.9 75.0,130.4 83.8,121.6 92.7,112.7 101.6,103.0 108.6,96.8 110.4,98.5 107.8,105.6 106.9,114.5 108.6,123.4 114.8,132.2 123.7,136.6 129.6,139.3 145.0,143.1 153.5,148.2 160.3,156.7 167.2,161.8 168.0,167.0 163.8,175.5 158.6,180.6 153.5,189.1 145.0,196.0 138.2,196.0 134.8,204.5 133.0,216.4 129.6,221.5 116.0,226.7 98.9,238.6 95.9,243.2 90.6,248.5 85.3,255.6 79.9,257.4 71.1,256.5 62.2,260.0 49.8,264.4 40.9,269.8 38.3,278.6 28.5,284.0 14.3,288.4 0.0,293.7M0.0,349.6 12.6,342.5 21.4,345.1 19.6,354.9 19.6,367.3 23.2,369.1 17.0,370.8 14.3,383.2 10.8,392.1 0.0,408.1M510.5,380.8 516.2,382.8 525.8,393.3 535.3,402.8 542.9,416.2 544.8,427.6 539.1,439.1 529.6,443.9 520.0,444.8 512.4,439.1 508.6,423.8 507.6,408.5 508.6,393.3 510.5,380.8M771.8,452.5 772.8,449.6 777.6,455.4 787.1,456.3 800.5,456.3 811.9,458.2 821.5,467.7 829.1,477.3 836.9,483.0M808.1,495.3 800.5,486.8 789.0,477.3 775.6,467.7 771.8,452.5M56.9,331.8 62.2,329.2 77.3,332.7 71.1,336.3 62.2,337.1 56.9,333.6 56.9,331.8M734.6,315.0 736.5,320.7 733.6,328.3 733.6,337.9 729.8,345.5 727.9,353.2 726.9,347.4 728.9,336.0 729.8,326.4 734.6,315.0M725.0,360.8 727.9,364.6 726.0,367.5 723.7,364.6 725.0,360.8" fill="none" stroke="#000" stroke-width="1.3" stroke-linejoin="round"/><circle cx="9.9" cy="101.9" r="2.2" fill="#d3d3d3" stroke="#000" stroke-width="1.2"/><circle cx="20.6" cy="130.9" r="1.3" fill="#d3d3d3" stroke="#000" stroke-width="1.2"/><circle cx="34.6" cy="134.4" r="1.3" fill="#d3d3d3" stroke="#000" stroke-width="1.2"/><circle cx="42.6" cy="133.9" r="1.5" fill="#d3d3d3" stroke="#000" stroke-width="1.2"/><circle cx="730.2" cy="389.4" r="1.5" fill="#d3d3d3" stroke="#000" stroke-width="1.2"/><circle cx="736.5" cy="405.7" r="1.3" fill="#d3d3d3" stroke="#000" stroke-width="1.2"/><circle cx="742.2" cy="407.6" r="1.5" fill="#d3d3d3" stroke="#000" stroke-width="1.2"/><circle cx="747.9" cy="425.7" r="2.2" fill="#d3d3d3" stroke="#000" stroke-width="1.2"/><circle cx="776.6" cy="445.4" r="1.2" fill="#d3d3d3" stroke="#000" stroke-width="1.2"/><circle cx="388.6" cy="350.4" r="1" fill="#d3d3d3" stroke="#000" stroke-width="1.2"/><circle cx="393.6" cy="404.4" r="1.2" fill="#d3d3d3" stroke="#000" stroke-width="1.2"/><circle cx="399.6" cy="475.4" r="1.2" fill="#d3d3d3" stroke="#000" stroke-width="1.2"/><circle cx="399.6" cy="490.4" r="1" fill="#d3d3d3" stroke="#000" stroke-width="1.2"/><path d="M170.8,0V495.3M341.6,0V495.3M512.4,0V495.3M683.2,0V495.3M0,461.2H836.9M0,375.8H836.9M0,290.4H836.9M0,205.0H836.9M0,119.6H836.9M0,34.2H836.9" fill="none" stroke="#8c8c8c" stroke-opacity="0.6" stroke-width="1" stroke-dasharray="3.7,2"/></g><rect x="0" y="0" width="836.9" height="495.3" fill="none" stroke="#000" stroke-width="2.8"/><text x="-17.1" y="474.1" text-anchor="end" class="tk">5°N</text><text x="-17.1" y="388.7" text-anchor="end" class="tk">10°N</text><text x="-17.1" y="303.3" text-anchor="end" class="tk">15°N</text><text x="-17.1" y="217.9" text-anchor="end" class="tk">20°N</text><text x="-17.1" y="132.5" text-anchor="end" class="tk">25°N</text><text x="-17.1" y="47.1" text-anchor="end" class="tk">30°N</text><text x="170.8" y="547.4" text-anchor="middle" class="tk">60°E</text><text x="341.6" y="547.4" text-anchor="middle" class="tk">70°E</text><text x="512.4" y="547.4" text-anchor="middle" class="tk">80°E</text><text x="683.2" y="547.4" text-anchor="middle" class="tk">90°E</text></g><g transform="translate(133.4,908.6)"><clipPath id="clipC"><rect x="0" y="0" width="836.9" height="495.3"/></clipPath><g clip-path="url(#clipC)"><rect x="0" y="0" width="836.9" height="495.3" fill="#fff"/><path d="M1.7,33.2 10.4,44.1 21.3,66.0 43.2,76.9 65.0,90.0 81.4,94.3 97.7,87.8 108.7,85.6 109.7,94.3 103.2,104.2 86.8,120.5 75.9,129.3 59.5,135.8 32.2,136.9 21.3,129.3 15.9,126.0 10.4,120.5 5.0,109.6 1.7,98.7Z" fill="#b8d8e9" filter="url(#bl2)"/><path d="M26.8,76.9 48.6,82.3 75.9,94.3 97.7,98.7 103.2,104.2 86.8,104.2 65.0,100.9 43.2,93.3 26.8,87.8Z" fill="#6bacd1" filter="url(#bl4)"/><path d="M26.8,117.3 43.2,115.1 59.5,120.5 58.4,131.5 43.2,134.7 29.0,132.5Z" fill="#fbe6da" filter="url(#bl3)"/><path d="M1.7,82.3 13.7,82.3 21.3,93.3 17.0,109.6 8.2,109.6 1.7,98.7Z" fill="#e7f0f4" filter="url(#bl3)"/><path d="M247.4,241.4 276.8,231.0 294.2,189.4 346.1,184.2 389.5,184.2 389.5,241.4 419.6,307.2 419.6,345.4 412.0,348.8 406.8,362.7 398.1,371.3 398.1,385.2 389.5,386.9 380.8,376.5 372.1,371.3 363.5,373.1 354.8,374.8 346.1,367.9 337.5,362.7 328.8,355.8 320.1,352.3 308.0,352.3 294.2,348.8 283.8,345.4 269.9,347.1 259.5,341.9 254.3,338.4 250.8,345.4 250.8,355.8 256.0,360.9 268.2,362.7 269.9,373.1 259.5,376.5 242.2,373.1 231.8,362.7 228.3,359.2 238.7,352.3 237.0,345.4 231.8,335.0 224.8,329.8 207.5,328.0 198.9,340.2 190.2,341.9 181.5,338.4 179.8,319.4 188.5,309.0 198.9,310.7 207.5,307.2 212.7,298.6 221.4,288.2 233.5,286.4 249.1,284.7 254.3,283.0 264.7,286.4 268.2,281.2 263.0,272.6 264.7,262.2 259.5,255.3 249.1,248.3Z" fill="#3f8ec0"/><path d="M216.2,293.4 259.5,289.9 311.5,293.4 337.5,310.7 328.8,336.7 294.2,338.4 259.5,328.0 224.8,319.4Z" fill="#2e77b5" filter="url(#bl6)"/><path d="M276.8,241.4 311.5,224.1 346.1,232.7 354.8,267.4 328.8,284.7 294.2,276.1Z" fill="#2a71b2" filter="url(#bl6)"/><path d="M183.3,321.1 193.7,314.2 200.6,322.8 197.1,335.0 186.7,336.7Z" fill="#3a87bd" filter="url(#bl5)"/><path d="M230.0,360.9 238.7,352.3 252.6,345.4 256.0,360.9 268.2,362.7 269.9,373.1 259.5,376.5 242.2,373.1Z" fill="#90c4dd" filter="url(#bl5)"/><path d="M344.4,220.6 391.2,220.6 391.2,241.4 419.6,307.2 419.6,345.4 412.0,345.4 403.3,324.6 389.5,302.0 372.1,276.1 360.0,255.3Z" fill="#0c3d73"/><path d="M280.3,262.2 290.7,260.5 294.2,270.9 283.8,272.6Z" fill="#ffffff"/><path d="M204.1,322.8 212.7,321.1 214.5,328.0 205.8,328.9Z" fill="#ffffff"/><path d="M370.4,298.6 380.8,296.8 394.6,310.7 398.1,324.6 389.5,331.5 377.3,322.8 372.1,310.7Z" fill="#ffffff"/><path d="M323.6,324.6 332.3,322.8 335.7,335.0 325.3,338.4Z" fill="#ffffff"/><path d="M386.0,246.6 391.2,246.6 394.6,257.0 387.7,258.7Z" fill="#ffffff"/><path d="M209.3,362.7 216.2,360.9 217.9,373.1 211.0,374.8Z" fill="#b1d5e7"/><path d="M263.0,378.3 271.6,376.5 275.1,386.9 268.2,390.4 263.8,386.9Z" fill="#b1d5e7"/><path d="M372.1,362.7 382.5,360.9 389.5,373.1 399.8,380.0 398.1,385.2 389.5,386.9 384.3,378.3 373.9,373.1Z" fill="#b1d5e7"/><path d="M46.4,265.7 56.8,263.9 60.2,267.4 49.8,268.3Z" fill="#327cb7"/><path d="M32.5,281.2 39.5,277.8 42.1,284.7 32.5,285.6Z" fill="#4393c3"/><path d="M1.3,329.8 10.0,328.0 16.9,333.2 22.1,340.2 10.0,343.6 1.3,347.1Z" fill="#3a87bd"/><path d="M41.2,335.0 48.1,336.7 56.8,341.9 49.8,343.6 44.6,340.2Z" fill="#a2cde3"/><path d="M15.2,466.6 25.6,463.2 35.1,464.9 30.8,470.1 23.9,473.6 16.9,471.8Z" fill="#f3a481"/><path d="M51.6,464.0 56.8,461.4 60.2,464.9 55.0,466.6Z" fill="#e48066"/><path d="M8.3,490.9 16.9,487.4 25.6,492.6 25.6,495.4 8.3,495.4Z" fill="#f3a481"/><path d="M16.9,378.3 22.1,376.5 23.9,380.0 18.7,385.2Z" fill="#ec9374"/><path d="M1.3,407.7 3.4,407.7 3.4,414.7 1.3,415.5Z" fill="#b1182b"/><path d="M105.0,83.4 114.0,83.4 122.9,106.6 160.5,113.8 196.2,117.4 231.9,113.8 280.2,112.0 285.6,120.9 303.4,135.2 321.3,147.7 330.2,163.8 348.1,183.5 366.0,192.4 383.9,213.9 392.8,240.7 398.2,261.4 383.9,261.4 371.3,253.4 354.9,242.5 338.6,231.4 333.1,215.1 327.6,204.2 316.7,193.1 294.9,185.6 273.0,187.8 251.2,193.1 229.4,198.3 196.6,198.3 167.6,193.1 157.1,186.2 155.1,178.1 165.8,165.6 167.6,160.2 155.1,145.9 142.6,140.6 124.7,137.0 114.0,124.5 108.6,106.6 106.8,94.1Z" fill="#0c3d73"/><path d="M115.8,115.6 128.3,113.8 142.6,120.9 156.9,124.5 160.5,135.2 156.9,151.3 146.2,147.7 135.4,140.6 121.1,133.4Z" fill="#90c4dd" filter="url(#bl4)"/><path d="M124.7,120.9 129.2,120.0 130.1,128.1 125.6,129.0Z" fill="#ffffff"/><path d="M135.4,128.1 142.6,127.2 143.5,134.3 137.2,135.2Z" fill="#ffffff"/><path d="M156.9,128.1 164.0,122.7 178.3,120.9 189.0,124.5 196.2,131.7 201.6,138.8 214.1,135.2 224.8,137.0 235.5,142.4 240.9,147.7 235.5,154.9 228.4,160.2 214.1,162.0 201.6,160.2 196.2,153.1 189.0,151.3 178.3,156.7 169.4,160.2 164.0,153.1 158.7,142.4Z" fill="#ffffff"/><path d="M146.2,222.8 153.3,215.6 160.5,212.1 169.4,215.6 173.0,224.6 164.0,226.4 153.3,225.5Z" fill="#2065ab"/><path d="M176.5,213.9 181.9,210.3 192.6,210.3 194.4,217.4 187.3,221.9 178.3,221.0Z" fill="#327cb7"/><path d="M201.6,224.6 205.1,213.9 212.3,210.3 214.1,222.8 223.0,235.3 224.8,240.7 214.1,242.5 208.7,237.1Z" fill="#3a87bd"/><path d="M246.2,247.8 257.0,242.5 267.7,249.6 273.0,261.4 249.8,261.4Z" fill="#4393c3"/><path d="M237.3,237.1 246.2,235.3 248.0,239.8 239.1,240.7Z" fill="#2a71b2"/><path d="M369.6,213.9 372.2,214.8 374.9,231.7 374.0,237.1 371.3,231.7Z" fill="#ffffff"/><path d="M367.8,192.4 374.9,187.1 380.3,171.0 382.1,167.4 387.4,174.5 387.4,196.0 385.6,213.9 382.1,219.2 378.5,204.9 371.3,199.6Z" fill="#790622"/><path d="M324.9,162.0 332.0,158.5 342.7,154.9 348.1,156.7 339.2,162.0 328.5,165.6Z" fill="#ec9374"/><path d="M419.6,310.4 431.7,334.6 443.8,358.7 449.8,378.0 448.6,394.9 446.2,407.0 434.1,404.6 424.4,392.5 429.3,380.5 426.8,366.0 419.6,358.7Z" fill="#0c3d73"/><path d="M521.0,286.3 535.5,271.8 554.9,267.0 564.5,257.3 588.7,238.0 600.7,230.7 624.9,233.2 641.8,238.0 644.2,262.1 637.0,281.5 661.1,281.5 680.4,286.3 697.3,283.9 709.4,276.6 711.8,288.7 728.7,295.9 723.9,305.6 704.6,308.0 697.3,315.3 685.3,315.3 680.4,329.7 680.4,368.4 661.1,363.6 637.0,363.6 617.6,361.1 612.8,353.9 622.5,341.8 617.6,334.6 588.7,339.4 576.6,344.2 554.9,339.4 545.2,329.7 528.3,324.9 525.9,310.4Z" fill="#b1d5e7"/><path d="M554.9,267.0 588.7,240.4 624.9,235.6 641.8,242.8 639.4,276.6 612.8,281.5 576.6,281.5 554.9,276.6Z" fill="#569fc9" filter="url(#bl5)"/><path d="M547.6,300.8 559.7,298.4 564.5,310.4 552.4,315.3Z" fill="#ffffff"/><path d="M566.9,308.0 579.0,305.6 583.8,315.3 569.3,317.7Z" fill="#ffffff"/><path d="M586.2,305.6 603.2,300.8 610.4,308.0 598.3,312.8 588.7,311.6Z" fill="#ffffff"/><path d="M629.7,300.8 646.6,298.4 661.1,305.6 658.7,317.7 641.8,320.1 632.1,312.8Z" fill="#ffffff"/><path d="M554.9,276.6 564.5,275.4 566.9,281.5 557.3,282.7Z" fill="#ffffff"/><path d="M516.2,283.9 528.3,271.8 550.0,257.3 564.5,247.6 588.7,233.2 608.0,216.3 627.3,204.2 637.0,189.7 649.0,182.5 680.4,178.8 680.4,184.9 651.5,189.7 641.8,196.9 624.9,213.8 603.2,225.9 588.7,238.0 564.5,257.3 550.0,264.6 528.3,279.0 523.5,310.4 518.6,295.9Z" fill="#2065ab"/><path d="M656.3,221.1 661.1,204.2 670.8,196.9 675.6,206.6 675.6,221.1 665.9,233.2 661.1,230.7Z" fill="#b1d5e7"/><path d="M709.4,332.2 721.5,327.3 733.6,315.3 731.2,300.8 743.2,298.4 755.3,310.4 757.7,324.9 762.6,339.4 757.7,358.7 752.9,366.0 743.2,358.7 733.6,353.9 721.5,361.1 714.3,353.9 709.4,341.8Z" fill="#7eb8d7"/><path d="M736.0,303.2 743.2,300.8 742.0,311.6 737.2,312.8Z" fill="#0c3d73" filter="url(#bl3)"/><path d="M720.3,349.1 728.7,349.1 728.7,358.7 721.5,358.7Z" fill="#1a5899" filter="url(#bl3)"/><path d="M752.9,275.4 765.0,276.6 781.9,283.9 794.0,286.3 789.1,289.9 769.8,289.9 757.7,286.3Z" fill="#1a5899"/><path d="M781.9,271.8 794.0,265.8 801.2,267.0 796.4,273.0Z" fill="#f8bfa4"/><path d="M634.6,189.7 641.8,183.7 661.1,182.5 680.4,177.6 680.4,184.9 661.1,189.7 649.0,194.5 637.0,196.9Z" fill="#2a71b2"/><path d="M646.6,177.6 661.1,177.6 661.1,180.5 647.8,180.0Z" fill="#b1182b"/><path d="M523.5,455.3 535.5,450.5 550.0,436.0 557.3,423.9 569.3,419.1 588.7,417.9 591.1,423.9 579.0,433.6 593.5,440.8 588.7,445.7 564.5,452.9 550.0,460.1 525.9,458.9Z" fill="#4393c3"/><path d="M624.9,423.9 632.1,421.5 637.0,431.2 638.2,443.2 632.1,440.8 627.3,431.2Z" fill="#a2cde3"/><path d="M774.6,407.0 781.9,392.5 789.1,390.1 791.5,402.2 806.0,407.0 801.2,414.3 784.3,416.7Z" fill="#b1d5e7"/><path d="M806.0,452.9 815.7,451.7 830.2,460.1 839.6,465.0 839.6,479.5 830.2,474.6 818.1,462.6Z" fill="#0c3d73"/><path d="M521.0,491.5 528.3,486.7 535.5,490.3 535.5,495.4 521.0,495.4Z" fill="#b1d5e7"/><path d="M836.9,412.4 835.8,412.4 832.9,410.4 827.2,412.4 825.3,408.5 824.3,393.3 827.2,379.9 829.1,366.5 832.9,347.4 831.0,328.3 823.7,311.4 821.6,305.5 819.6,296.7 817.5,289.8 815.5,283.0 814.1,274.8 812.1,269.4 812.1,266.0 814.8,263.9 809.4,264.6 807.3,260.5 805.9,255.1 803.2,251.6 799.8,250.3 801.2,252.3 799.8,259.1 795.7,263.2 791.6,263.9 788.9,259.8 790.9,263.2 787.5,267.3 780.7,272.8 777.3,276.9 773.9,276.9 774.6,272.1 772.5,274.2 768.4,274.8 767.1,271.4 765.0,276.2 763.7,270.7 760.2,274.2 763.7,268.0 762.3,266.0 758.9,272.8 756.1,272.8 755.5,269.4 756.8,262.6 759.6,255.7 761.6,246.9 760.2,240.0 756.8,231.9 754.1,225.0 751.4,218.2 749.4,213.0 746.3,208.1 740.2,205.1 734.6,203.2 731.0,200.2 727.3,196.5 722.4,191.6 718.7,185.4 717.5,180.5 715.6,174.4 714.4,165.8 711.3,159.6 708.2,156.0 703.3,160.3 699.0,160.9 695.4,156.0 694.1,149.8 693.5,143.7 693.5,146.7 688.0,146.1 692.9,149.8 692.9,154.7 691.1,159.0 691.7,167.0 690.4,170.7 688.0,173.8 685.5,171.9 681.8,168.2 683.1,163.3 680.0,165.8 677.6,170.7 675.7,174.4 673.3,169.5 670.8,174.4 668.3,174.4 666.5,169.5 664.7,170.7 663.4,175.6 661.0,176.2 659.7,169.5 657.3,171.3 655.5,174.4 653.0,176.2 651.2,174.4 650.5,169.5 649.9,166.4 648.1,164.9 649.3,167.6 649.9,170.7 646.9,174.4 638.9,178.1 631.5,181.7 629.1,185.4 630.9,190.3 630.3,196.5 626.6,200.8 619.7,204.5 606.1,207.9 600.9,213.0 590.7,225.0 578.8,236.9 566.8,246.4 554.4,255.8 552.5,259.6 544.8,264.4 535.3,268.2 527.7,277.7 523.8,276.8 516.2,280.6 513.3,286.3 514.3,301.6 516.2,313.1 514.3,328.3 508.6,345.5 508.6,355.1 508.6,368.4 502.8,372.2 499.0,378.0 495.2,385.6 487.6,392.3 481.8,397.1 478.0,404.7 468.5,408.5 458.9,399.0 451.3,385.6 449.4,374.2 443.6,358.9 436.0,345.5 428.4,334.1 422.6,315.0 418.8,301.6 413.1,292.1 407.4,282.5 405.4,276.8 399.7,265.3 395.9,250.0 392.1,232.9 390.2,221.4 389.7,221.9 391.3,217.8 388.1,213.7 387.3,205.5 389.7,193.2 388.1,185.0 387.3,179.3 394.6,175.2 386.4,176.9 384.8,175.2 388.1,172.0 385.6,172.0 384.8,168.7 388.9,166.2 379.1,167.0 379.9,170.3 376.6,173.6 379.9,176.9 379.1,181.8 375.0,185.9 364.3,191.6 357.8,193.2 352.1,191.6 343.9,185.0 335.7,178.5 327.5,172.0 324.2,167.0 325.1,163.8 329.2,165.4 335.7,163.8 345.5,160.5 350.4,152.6 343.9,155.6 335.7,158.0 327.5,155.6 321.0,152.3 316.1,146.6 312.8,142.5 321.0,138.8 311.1,138.4 309.5,140.9 303.0,139.2 298.1,135.9 294.8,131.9 294.0,123.7 284.8,114.1 278.0,111.0 255.9,114.1 235.4,114.1 218.3,115.8 197.9,117.5 179.1,114.1 158.6,112.4 138.2,109.0 129.6,107.4 127.3,106.5 123.7,101.2 120.2,88.8 114.8,83.5 106.0,82.6 97.1,85.2 88.3,90.5 79.4,94.1 70.5,90.5 61.7,88.8 48.4,81.7 42.2,75.5 33.3,71.9 26.2,70.2 20.0,63.1 13.8,50.7 11.1,43.6 1.4,31.2 0.0,30.5M0.0,87.0 3.1,89.4 4.1,95.4 2.4,101.4 2.3,106.5 6.7,111.8 12.0,118.9 13.8,122.5 12.9,114.5 12.9,106.5 17.3,100.3 21.8,99.4 26.2,103.8 27.1,114.5 26.2,123.4 23.5,127.8 26.2,132.2 30.6,135.8 39.5,136.6 52.8,134.9 66.1,134.9 75.0,130.4 83.8,121.6 92.7,112.7 101.6,103.0 108.6,96.8 110.4,98.5 107.8,105.6 106.9,114.5 108.6,123.4 114.8,132.2 123.7,136.6 129.6,139.3 145.0,143.1 153.5,148.2 160.3,156.7 167.2,161.8 168.0,167.0 163.8,175.5 158.6,180.6 153.5,189.1 145.0,196.0 138.2,196.0 134.8,204.5 133.0,216.4 129.6,221.5 116.0,226.7 98.9,238.6 95.9,243.2 90.6,248.5 85.3,255.6 79.9,257.4 71.1,256.5 62.2,260.0 49.8,264.4 40.9,269.8 38.3,278.6 28.5,284.0 14.3,288.4 0.0,293.7M0.0,349.6 12.6,342.5 21.4,345.1 19.6,354.9 19.6,367.3 23.2,369.1 17.0,370.8 14.3,383.2 10.8,392.1 0.0,408.1M510.5,380.8 516.2,382.8 525.8,393.3 535.3,402.8 542.9,416.2 544.8,427.6 539.1,439.1 529.6,443.9 520.0,444.8 512.4,439.1 508.6,423.8 507.6,408.5 508.6,393.3 510.5,380.8M771.8,452.5 772.8,449.6 777.6,455.4 787.1,456.3 800.5,456.3 811.9,458.2 821.5,467.7 829.1,477.3 836.9,483.0M808.1,495.3 800.5,486.8 789.0,477.3 775.6,467.7 771.8,452.5M56.9,331.8 62.2,329.2 77.3,332.7 71.1,336.3 62.2,337.1 56.9,333.6 56.9,331.8M734.6,315.0 736.5,320.7 733.6,328.3 733.6,337.9 729.8,345.5 727.9,353.2 726.9,347.4 728.9,336.0 729.8,326.4 734.6,315.0M725.0,360.8 727.9,364.6 726.0,367.5 723.7,364.6 725.0,360.8" fill="none" stroke="#fff" stroke-width="4.5" stroke-linejoin="round"/><path d="M0.0,0.0 836.9,0.0 836.9,412.4 835.8,412.4 832.9,410.4 827.2,412.4 825.3,408.5 824.3,393.3 827.2,379.9 829.1,366.5 832.9,347.4 831.0,328.3 823.7,311.4 821.6,305.5 819.6,296.7 817.5,289.8 815.5,283.0 814.1,274.8 812.1,269.4 812.1,266.0 814.8,263.9 809.4,264.6 807.3,260.5 805.9,255.1 803.2,251.6 799.8,250.3 801.2,252.3 799.8,259.1 795.7,263.2 791.6,263.9 788.9,259.8 790.9,263.2 787.5,267.3 780.7,272.8 777.3,276.9 773.9,276.9 774.6,272.1 772.5,274.2 768.4,274.8 767.1,271.4 765.0,276.2 763.7,270.7 760.2,274.2 763.7,268.0 762.3,266.0 758.9,272.8 756.1,272.8 755.5,269.4 756.8,262.6 759.6,255.7 761.6,246.9 760.2,240.0 756.8,231.9 754.1,225.0 751.4,218.2 749.4,213.0 746.3,208.1 740.2,205.1 734.6,203.2 731.0,200.2 727.3,196.5 722.4,191.6 718.7,185.4 717.5,180.5 715.6,174.4 714.4,165.8 711.3,159.6 708.2,156.0 703.3,160.3 699.0,160.9 695.4,156.0 694.1,149.8 693.5,143.7 693.5,146.7 688.0,146.1 692.9,149.8 692.9,154.7 691.1,159.0 691.7,167.0 690.4,170.7 688.0,173.8 685.5,171.9 681.8,168.2 683.1,163.3 680.0,165.8 677.6,170.7 675.7,174.4 673.3,169.5 670.8,174.4 668.3,174.4 666.5,169.5 664.7,170.7 663.4,175.6 661.0,176.2 659.7,169.5 657.3,171.3 655.5,174.4 653.0,176.2 651.2,174.4 650.5,169.5 649.9,166.4 648.1,164.9 649.3,167.6 649.9,170.7 646.9,174.4 638.9,178.1 631.5,181.7 629.1,185.4 630.9,190.3 630.3,196.5 626.6,200.8 619.7,204.5 606.1,207.9 600.9,213.0 590.7,225.0 578.8,236.9 566.8,246.4 554.4,255.8 552.5,259.6 544.8,264.4 535.3,268.2 527.7,277.7 523.8,276.8 516.2,280.6 513.3,286.3 514.3,301.6 516.2,313.1 514.3,328.3 508.6,345.5 508.6,355.1 508.6,368.4 502.8,372.2 499.0,378.0 495.2,385.6 487.6,392.3 481.8,397.1 478.0,404.7 468.5,408.5 458.9,399.0 451.3,385.6 449.4,374.2 443.6,358.9 436.0,345.5 428.4,334.1 422.6,315.0 418.8,301.6 413.1,292.1 407.4,282.5 405.4,276.8 399.7,265.3 395.9,250.0 392.1,232.9 390.2,221.4 389.7,221.9 391.3,217.8 388.1,213.7 387.3,205.5 389.7,193.2 388.1,185.0 387.3,179.3 394.6,175.2 386.4,176.9 384.8,175.2 388.1,172.0 385.6,172.0 384.8,168.7 388.9,166.2 379.1,167.0 379.9,170.3 376.6,173.6 379.9,176.9 379.1,181.8 375.0,185.9 364.3,191.6 357.8,193.2 352.1,191.6 343.9,185.0 335.7,178.5 327.5,172.0 324.2,167.0 325.1,163.8 329.2,165.4 335.7,163.8 345.5,160.5 350.4,152.6 343.9,155.6 335.7,158.0 327.5,155.6 321.0,152.3 316.1,146.6 312.8,142.5 321.0,138.8 311.1,138.4 309.5,140.9 303.0,139.2 298.1,135.9 294.8,131.9 294.0,123.7 284.8,114.1 278.0,111.0 255.9,114.1 235.4,114.1 218.3,115.8 197.9,117.5 179.1,114.1 158.6,112.4 138.2,109.0 129.6,107.4 127.3,106.5 123.7,101.2 120.2,88.8 114.8,83.5 106.0,82.6 97.1,85.2 88.3,90.5 79.4,94.1 70.5,90.5 61.7,88.8 48.4,81.7 42.2,75.5 33.3,71.9 26.2,70.2 20.0,63.1 13.8,50.7 11.1,43.6 1.4,31.2 0.0,30.5ZM0.0,87.0 3.1,89.4 4.1,95.4 2.4,101.4 2.3,106.5 6.7,111.8 12.0,118.9 13.8,122.5 12.9,114.5 12.9,106.5 17.3,100.3 21.8,99.4 26.2,103.8 27.1,114.5 26.2,123.4 23.5,127.8 26.2,132.2 30.6,135.8 39.5,136.6 52.8,134.9 66.1,134.9 75.0,130.4 83.8,121.6 92.7,112.7 101.6,103.0 108.6,96.8 110.4,98.5 107.8,105.6 106.9,114.5 108.6,123.4 114.8,132.2 123.7,136.6 129.6,139.3 145.0,143.1 153.5,148.2 160.3,156.7 167.2,161.8 168.0,167.0 163.8,175.5 158.6,180.6 153.5,189.1 145.0,196.0 138.2,196.0 134.8,204.5 133.0,216.4 129.6,221.5 116.0,226.7 98.9,238.6 95.9,243.2 90.6,248.5 85.3,255.6 79.9,257.4 71.1,256.5 62.2,260.0 49.8,264.4 40.9,269.8 38.3,278.6 28.5,284.0 14.3,288.4 0.0,293.7ZM0.0,349.6 12.6,342.5 21.4,345.1 19.6,354.9 19.6,367.3 23.2,369.1 17.0,370.8 14.3,383.2 10.8,392.1 0.0,408.1ZM510.5,380.8 516.2,382.8 525.8,393.3 535.3,402.8 542.9,416.2 544.8,427.6 539.1,439.1 529.6,443.9 520.0,444.8 512.4,439.1 508.6,423.8 507.6,408.5 508.6,393.3ZM771.8,452.5 772.8,449.6 777.6,455.4 787.1,456.3 800.5,456.3 811.9,458.2 821.5,467.7 829.1,477.3 836.9,483.0 836.9,495.3 808.1,495.3 800.5,486.8 789.0,477.3 775.6,467.7ZM56.9,331.8 62.2,329.2 77.3,332.7 71.1,336.3 62.2,337.1 56.9,333.6ZM734.6,315.0 736.5,320.7 733.6,328.3 733.6,337.9 729.8,345.5 727.9,353.2 726.9,347.4 728.9,336.0 729.8,326.4ZM725.0,360.8 727.9,364.6 726.0,367.5 723.7,364.6Z" fill="#d3d3d3" stroke="none"/><path d="M184.2,0.0 185.9,8.3 199.6,11.8 202.1,18.6 185.9,36.5 194.4,45.9 201.3,56.1 216.6,64.6 218.3,78.3 225.1,82.5 226.0,88.5 218.3,93.6 203.0,98.7 199.6,107.3 197.9,115.8M185.9,36.5 213.2,45.0 240.5,44.2 261.0,40.7 278.0,35.6 278.0,20.3 286.6,12.6 302.6,9.4 313.6,4.4 327.6,0.0M25.6,132.8 44.4,155.0 88.7,160.1 97.2,170.4 85.3,204.5 34.1,223.2 0.0,226.7M34.1,223.2 44.4,246.4 53.3,260.9M88.7,160.1 93.8,139.7 100.6,132.8 100.6,122.6 107.5,119.2M419.6,0.0 419.6,15.2 409.4,27.1 399.2,35.6 392.3,49.3 380.4,56.1 373.6,68.0 354.8,73.2 349.7,68.0 342.9,73.2 332.7,86.8 336.1,91.9 342.9,95.3 342.9,105.6 351.4,109.0 359.9,126.0 356.5,132.8 342.9,132.8 320.7,132.8 320.7,138.0M491.3,0.0 493.0,11.8 501.5,16.9 515.1,22.0 528.8,32.2 540.7,28.0 549.3,32.2 562.9,40.7 574.9,47.5 582.2,47.6 590.7,56.1 599.2,61.2 607.8,64.6 616.3,68.0 633.4,71.4 650.4,70.6 658.9,68.0 662.3,78.3 662.3,81.7M528.8,32.2 520.3,39.0 513.4,52.7 523.7,57.8 545.9,69.7 569.7,80.0 573.7,78.3 590.7,83.4 602.7,89.4 612.9,91.9 628.2,95.3 641.9,96.2 650.4,93.6 651.3,71.4 650.4,70.6M662.3,81.7 672.6,68.0 682.8,63.8 693.0,67.2 710.1,69.7 716.9,78.3 717.8,87.7 701.6,89.4 682.8,90.2 667.5,86.8 662.3,81.7M710.1,73.2 727.2,68.0 740.8,57.8 757.9,47.6 774.9,51.0 785.1,45.9 792.0,51.0 792.0,61.2 807.3,64.6 812.4,60.4 822.7,69.7 831.2,76.6 832.9,98.7 829.5,105.6 815.9,115.8 812.4,136.3 832.9,134.6 834.6,149.9M807.3,66.3 802.2,78.3 786.9,80.0 771.5,91.9 769.8,105.6 763.0,115.8 757.9,129.4 752.7,138.0 740.8,136.3 739.1,149.9 735.7,167.0 727.2,172.1 723.8,143.1 716.9,143.1 711.8,149.9M665.8,167.0 662.3,149.9 658.9,132.8 650.4,126.0 652.1,117.5 662.3,114.1 652.1,105.6 652.1,98.7 655.5,93.6 665.8,97.0 676.0,98.7 681.1,114.1 693.0,115.8 723.8,119.2 720.3,126.0 706.7,136.3 703.3,144.8 706.7,153.3 711.8,149.9M836.9,234.4 828.6,237.4 824.6,246.4 827.6,261.4 825.6,281.4 828.6,291.4M836.9,376.4 829.6,381.4" fill="none" stroke="#7a7a7a" stroke-width="1" stroke-linejoin="round"/><path d="M836.9,412.4 835.8,412.4 832.9,410.4 827.2,412.4 825.3,408.5 824.3,393.3 827.2,379.9 829.1,366.5 832.9,347.4 831.0,328.3 823.7,311.4 821.6,305.5 819.6,296.7 817.5,289.8 815.5,283.0 814.1,274.8 812.1,269.4 812.1,266.0 814.8,263.9 809.4,264.6 807.3,260.5 805.9,255.1 803.2,251.6 799.8,250.3 801.2,252.3 799.8,259.1 795.7,263.2 791.6,263.9 788.9,259.8 790.9,263.2 787.5,267.3 780.7,272.8 777.3,276.9 773.9,276.9 774.6,272.1 772.5,274.2 768.4,274.8 767.1,271.4 765.0,276.2 763.7,270.7 760.2,274.2 763.7,268.0 762.3,266.0 758.9,272.8 756.1,272.8 755.5,269.4 756.8,262.6 759.6,255.7 761.6,246.9 760.2,240.0 756.8,231.9 754.1,225.0 751.4,218.2 749.4,213.0 746.3,208.1 740.2,205.1 734.6,203.2 731.0,200.2 727.3,196.5 722.4,191.6 718.7,185.4 717.5,180.5 715.6,174.4 714.4,165.8 711.3,159.6 708.2,156.0 703.3,160.3 699.0,160.9 695.4,156.0 694.1,149.8 693.5,143.7 693.5,146.7 688.0,146.1 692.9,149.8 692.9,154.7 691.1,159.0 691.7,167.0 690.4,170.7 688.0,173.8 685.5,171.9 681.8,168.2 683.1,163.3 680.0,165.8 677.6,170.7 675.7,174.4 673.3,169.5 670.8,174.4 668.3,174.4 666.5,169.5 664.7,170.7 663.4,175.6 661.0,176.2 659.7,169.5 657.3,171.3 655.5,174.4 653.0,176.2 651.2,174.4 650.5,169.5 649.9,166.4 648.1,164.9 649.3,167.6 649.9,170.7 646.9,174.4 638.9,178.1 631.5,181.7 629.1,185.4 630.9,190.3 630.3,196.5 626.6,200.8 619.7,204.5 606.1,207.9 600.9,213.0 590.7,225.0 578.8,236.9 566.8,246.4 554.4,255.8 552.5,259.6 544.8,264.4 535.3,268.2 527.7,277.7 523.8,276.8 516.2,280.6 513.3,286.3 514.3,301.6 516.2,313.1 514.3,328.3 508.6,345.5 508.6,355.1 508.6,368.4 502.8,372.2 499.0,378.0 495.2,385.6 487.6,392.3 481.8,397.1 478.0,404.7 468.5,408.5 458.9,399.0 451.3,385.6 449.4,374.2 443.6,358.9 436.0,345.5 428.4,334.1 422.6,315.0 418.8,301.6 413.1,292.1 407.4,282.5 405.4,276.8 399.7,265.3 395.9,250.0 392.1,232.9 390.2,221.4 389.7,221.9 391.3,217.8 388.1,213.7 387.3,205.5 389.7,193.2 388.1,185.0 387.3,179.3 394.6,175.2 386.4,176.9 384.8,175.2 388.1,172.0 385.6,172.0 384.8,168.7 388.9,166.2 379.1,167.0 379.9,170.3 376.6,173.6 379.9,176.9 379.1,181.8 375.0,185.9 364.3,191.6 357.8,193.2 352.1,191.6 343.9,185.0 335.7,178.5 327.5,172.0 324.2,167.0 325.1,163.8 329.2,165.4 335.7,163.8 345.5,160.5 350.4,152.6 343.9,155.6 335.7,158.0 327.5,155.6 321.0,152.3 316.1,146.6 312.8,142.5 321.0,138.8 311.1,138.4 309.5,140.9 303.0,139.2 298.1,135.9 294.8,131.9 294.0,123.7 284.8,114.1 278.0,111.0 255.9,114.1 235.4,114.1 218.3,115.8 197.9,117.5 179.1,114.1 158.6,112.4 138.2,109.0 129.6,107.4 127.3,106.5 123.7,101.2 120.2,88.8 114.8,83.5 106.0,82.6 97.1,85.2 88.3,90.5 79.4,94.1 70.5,90.5 61.7,88.8 48.4,81.7 42.2,75.5 33.3,71.9 26.2,70.2 20.0,63.1 13.8,50.7 11.1,43.6 1.4,31.2 0.0,30.5M0.0,87.0 3.1,89.4 4.1,95.4 2.4,101.4 2.3,106.5 6.7,111.8 12.0,118.9 13.8,122.5 12.9,114.5 12.9,106.5 17.3,100.3 21.8,99.4 26.2,103.8 27.1,114.5 26.2,123.4 23.5,127.8 26.2,132.2 30.6,135.8 39.5,136.6 52.8,134.9 66.1,134.9 75.0,130.4 83.8,121.6 92.7,112.7 101.6,103.0 108.6,96.8 110.4,98.5 107.8,105.6 106.9,114.5 108.6,123.4 114.8,132.2 123.7,136.6 129.6,139.3 145.0,143.1 153.5,148.2 160.3,156.7 167.2,161.8 168.0,167.0 163.8,175.5 158.6,180.6 153.5,189.1 145.0,196.0 138.2,196.0 134.8,204.5 133.0,216.4 129.6,221.5 116.0,226.7 98.9,238.6 95.9,243.2 90.6,248.5 85.3,255.6 79.9,257.4 71.1,256.5 62.2,260.0 49.8,264.4 40.9,269.8 38.3,278.6 28.5,284.0 14.3,288.4 0.0,293.7M0.0,349.6 12.6,342.5 21.4,345.1 19.6,354.9 19.6,367.3 23.2,369.1 17.0,370.8 14.3,383.2 10.8,392.1 0.0,408.1M510.5,380.8 516.2,382.8 525.8,393.3 535.3,402.8 542.9,416.2 544.8,427.6 539.1,439.1 529.6,443.9 520.0,444.8 512.4,439.1 508.6,423.8 507.6,408.5 508.6,393.3 510.5,380.8M771.8,452.5 772.8,449.6 777.6,455.4 787.1,456.3 800.5,456.3 811.9,458.2 821.5,467.7 829.1,477.3 836.9,483.0M808.1,495.3 800.5,486.8 789.0,477.3 775.6,467.7 771.8,452.5M56.9,331.8 62.2,329.2 77.3,332.7 71.1,336.3 62.2,337.1 56.9,333.6 56.9,331.8M734.6,315.0 736.5,320.7 733.6,328.3 733.6,337.9 729.8,345.5 727.9,353.2 726.9,347.4 728.9,336.0 729.8,326.4 734.6,315.0M725.0,360.8 727.9,364.6 726.0,367.5 723.7,364.6 725.0,360.8" fill="none" stroke="#000" stroke-width="1.3" stroke-linejoin="round"/><circle cx="9.9" cy="101.9" r="2.2" fill="#d3d3d3" stroke="#000" stroke-width="1.2"/><circle cx="20.6" cy="130.9" r="1.3" fill="#d3d3d3" stroke="#000" stroke-width="1.2"/><circle cx="34.6" cy="134.4" r="1.3" fill="#d3d3d3" stroke="#000" stroke-width="1.2"/><circle cx="42.6" cy="133.9" r="1.5" fill="#d3d3d3" stroke="#000" stroke-width="1.2"/><circle cx="730.2" cy="389.4" r="1.5" fill="#d3d3d3" stroke="#000" stroke-width="1.2"/><circle cx="736.5" cy="405.7" r="1.3" fill="#d3d3d3" stroke="#000" stroke-width="1.2"/><circle cx="742.2" cy="407.6" r="1.5" fill="#d3d3d3" stroke="#000" stroke-width="1.2"/><circle cx="747.9" cy="425.7" r="2.2" fill="#d3d3d3" stroke="#000" stroke-width="1.2"/><circle cx="776.6" cy="445.4" r="1.2" fill="#d3d3d3" stroke="#000" stroke-width="1.2"/><circle cx="388.6" cy="350.4" r="1" fill="#d3d3d3" stroke="#000" stroke-width="1.2"/><circle cx="393.6" cy="404.4" r="1.2" fill="#d3d3d3" stroke="#000" stroke-width="1.2"/><circle cx="399.6" cy="475.4" r="1.2" fill="#d3d3d3" stroke="#000" stroke-width="1.2"/><circle cx="399.6" cy="490.4" r="1" fill="#d3d3d3" stroke="#000" stroke-width="1.2"/><path d="M170.8,0V495.3M341.6,0V495.3M512.4,0V495.3M683.2,0V495.3M0,461.2H836.9M0,375.8H836.9M0,290.4H836.9M0,205.0H836.9M0,119.6H836.9M0,34.2H836.9" fill="none" stroke="#8c8c8c" stroke-opacity="0.6" stroke-width="1" stroke-dasharray="3.7,2"/></g><rect x="0" y="0" width="836.9" height="495.3" fill="none" stroke="#000" stroke-width="2.8"/><text x="-17.1" y="474.1" text-anchor="end" class="tk">5°N</text><text x="-17.1" y="388.7" text-anchor="end" class="tk">10°N</text><text x="-17.1" y="303.3" text-anchor="end" class="tk">15°N</text><text x="-17.1" y="217.9" text-anchor="end" class="tk">20°N</text><text x="-17.1" y="132.5" text-anchor="end" class="tk">25°N</text><text x="-17.1" y="47.1" text-anchor="end" class="tk">30°N</text><text x="170.8" y="547.4" text-anchor="middle" class="tk">60°E</text><text x="341.6" y="547.4" text-anchor="middle" class="tk">70°E</text><text x="512.4" y="547.4" text-anchor="middle" class="tk">80°E</text><text x="683.2" y="547.4" text-anchor="middle" class="tk">90°E</text></g><g transform="translate(1406.5,908.6)"><clipPath id="clipD"><rect x="0" y="0" width="836.9" height="495.3"/></clipPath><g clip-path="url(#clipD)"><rect x="0" y="0" width="836.9" height="495.3" fill="#fff"/><path d="M3.1,44.1 17.4,62.0 44.2,85.2 71.0,99.5 97.8,110.2 88.9,117.4 62.1,113.8 35.2,99.5 13.8,79.8 3.1,70.9Z" fill="#c2ddec" filter="url(#bl2)"/><path d="M51.3,87.0 67.4,94.1 85.3,95.9 99.6,92.3 108.5,92.3 110.3,96.8 99.6,103.1 88.9,104.8 74.6,103.1 62.1,99.5 53.1,92.3Z" fill="#e48066" filter="url(#bl2)"/><path d="M83.5,96.8 99.6,93.2 108.5,94.1 104.9,100.4 92.4,103.1 85.3,101.3Z" fill="#8a0b25" filter="url(#bl2)"/><path d="M172.9,117.4 178.2,115.6 185.4,122.7 188.9,131.7 183.6,133.4 176.4,124.5Z" fill="#0c3d73"/><path d="M130.0,112.0 135.3,110.2 138.9,113.8 133.5,115.6Z" fill="#0c3d73"/><path d="M172.0,154.9 175.5,153.1 176.4,156.7 172.9,157.6Z" fill="#0c3d73"/><path d="M253.3,229.1 260.4,226.4 263.1,229.9 254.2,230.8Z" fill="#0c3d73"/><path d="M177.3,162.0 181.8,158.5 188.9,155.8 194.3,156.7 190.7,163.8 180.0,165.6Z" fill="#67001f"/><path d="M196.1,188.8 201.5,181.7 210.4,176.3 217.5,176.3 222.9,175.4 233.6,176.3 233.6,179.9 217.5,179.9 215.8,188.8 214.0,197.8 205.0,199.6 197.9,194.2Z" fill="#67001f"/><path d="M317.6,149.5 331.9,160.2 339.1,174.5 353.4,187.1 371.2,194.2 378.4,204.9 367.7,204.9 353.4,196.0 339.1,187.1 326.6,174.5Z" fill="#6bacd1" filter="url(#bl4)"/><path d="M303.3,147.7 314.1,145.9 321.2,154.9 328.4,163.8 326.6,171.0 335.5,179.9 348.0,190.6 356.9,194.2 371.2,199.6 374.8,210.3 385.5,217.4 383.8,221.0 371.2,217.4 362.3,208.5 356.9,199.6 349.8,196.0 339.1,185.3 328.4,176.3 317.6,163.8 306.9,154.9Z" fill="#0c3d73"/><path d="M299.8,247.8 306.9,238.9 312.3,233.5 319.4,238.9 323.0,249.6 317.6,258.5 310.5,261.4 303.3,256.8Z" fill="#d6604d"/><path d="M348.0,246.0 356.9,235.3 365.9,229.9 374.8,237.1 373.0,249.6 367.7,261.4 353.4,261.4Z" fill="#fbccb4"/><path d="M374.8,238.9 380.2,240.7 387.3,253.2 383.8,255.0 376.6,246.0Z" fill="#b1d5e7"/><path d="M294.4,218.3 301.5,215.6 305.1,219.2 296.2,221.0Z" fill="#f3a481"/><path d="M280.1,163.8 283.7,158.5 287.2,165.6 281.9,167.4Z" fill="#f6b394"/><path d="M151.4,261.4 155.0,257.6 162.1,258.5 163.9,261.4Z" fill="#790622"/><path d="M387.3,231.7 390.9,233.5 392.7,246.0 389.1,245.1Z" fill="#124984"/><path d="M34.2,386.9 44.5,386.9 54.9,390.4 65.3,397.3 74.0,399.1 75.7,392.1 75.7,378.3 80.9,376.5 84.4,383.5 89.6,390.4 94.8,397.3 93.1,400.8 86.1,404.3 80.9,406.0 77.5,409.5 72.3,412.9 68.8,419.9 63.6,418.1 56.7,418.1 51.5,418.1 49.7,411.2 48.0,406.0 51.5,404.3 48.0,397.3 41.1,392.1 34.2,390.4Z" fill="#67001f"/><path d="M96.5,442.4 103.5,432.0 106.9,423.3 112.1,411.2 117.3,414.7 120.8,421.6 124.3,428.5 122.5,437.2 119.1,449.3 110.4,451.0 103.5,445.8Z" fill="#67001f"/><path d="M38.5,444.1 44.5,440.6 51.5,438.9 56.7,444.1 55.8,451.0 49.7,452.8 41.1,449.3Z" fill="#9f1228"/><path d="M138.1,418.1 143.3,415.5 145.0,421.6 141.6,426.8 138.1,425.1Z" fill="#790622"/><path d="M20.3,390.4 23.8,383.5 28.1,383.5 27.2,390.4 22.0,393.9Z" fill="#9f1228"/><path d="M144.2,263.9 148.5,262.2 153.7,258.7 158.9,257.0 165.0,263.1 162.4,269.1 153.7,268.3 146.8,268.3Z" fill="#9f1228"/><path d="M179.7,286.4 190.1,288.2 204.0,284.7 209.2,291.6 198.8,293.4 198.8,302.0 195.3,310.7 188.4,312.4 183.2,305.5 183.2,293.4Z" fill="#d6604d"/><path d="M209.2,298.6 217.8,293.4 226.5,286.4 235.1,288.2 238.6,298.6 236.9,310.7 236.9,318.5 228.2,317.6 221.3,310.7 210.9,307.2Z" fill="#67001f"/><path d="M174.5,362.7 179.7,354.0 181.4,348.8 179.7,341.9 184.9,331.5 195.3,324.6 198.8,322.8 200.5,335.0 202.2,348.8 198.8,354.0 202.2,367.9 195.3,373.1 186.6,371.3Z" fill="#d6604d"/><path d="M183.2,343.6 188.4,331.5 197.0,326.3 199.6,338.4 198.8,352.3 188.4,354.0Z" fill="#67001f" filter="url(#bl3)"/><path d="M183.2,400.8 190.1,392.1 204.0,390.4 210.9,380.0 221.3,378.3 231.7,373.1 231.7,362.7 238.6,352.3 249.0,350.6 264.6,354.0 271.5,362.7 269.8,376.5 262.9,383.5 276.7,388.7 278.5,395.6 269.8,393.9 255.9,397.3 245.5,400.8 229.9,407.7 214.4,404.3 205.7,407.7 204.0,414.7 200.5,418.1 193.6,414.7 184.9,407.7Z" fill="#dd7059"/><path d="M141.6,437.2 150.2,438.9 162.4,435.5 171.0,428.5 176.2,423.3 183.2,430.3 190.1,426.8 195.3,421.6 204.0,425.1 216.1,421.6 221.3,428.5 219.5,440.6 216.1,449.3 219.5,458.0 216.1,471.8 212.6,478.8 204.0,475.3 186.6,471.8 179.7,480.5 167.6,478.8 164.1,470.1 155.4,464.9 152.0,452.8 146.8,447.6Z" fill="#dd7059"/><path d="M164.1,444.1 176.2,440.6 190.1,447.6 188.4,458.0 172.8,459.7 164.1,454.5Z" fill="#b1182b" filter="url(#bl5)"/><path d="M245.5,437.2 257.7,423.3 269.8,419.9 280.2,416.4 285.4,423.3 294.1,435.5 307.9,442.4 321.8,447.6 332.2,449.3 332.2,459.7 320.0,459.7 311.4,456.2 294.1,459.7 285.4,463.2 280.2,456.2 269.8,447.6 259.4,444.1 250.7,442.4Z" fill="#d6604d"/><path d="M257.7,428.5 269.8,423.3 281.9,425.1 283.7,438.9 269.8,440.6 259.4,437.2Z" fill="#b1182b" filter="url(#bl5)"/><path d="M273.3,477.0 285.4,471.8 297.5,470.1 311.4,468.4 325.2,464.9 332.2,468.4 325.2,475.3 314.8,484.0 311.4,495.4 290.6,495.4 294.1,487.4 283.7,480.5Z" fill="#f3a481"/><path d="M297.5,407.7 304.5,406.0 311.4,402.5 318.3,397.3 327.0,402.5 325.2,412.9 333.9,416.4 335.6,425.1 328.7,428.5 316.6,425.1 307.9,419.9 301.0,414.7Z" fill="#d6604d"/><path d="M327.0,333.2 332.2,317.6 339.1,309.0 346.0,310.7 356.4,317.6 363.4,328.0 370.3,338.4 377.2,340.2 366.8,347.1 354.7,348.8 344.3,354.0 333.9,359.2 327.0,354.0 325.2,343.6Z" fill="#dd7059"/><path d="M297.5,333.2 304.5,329.8 307.9,338.4 311.4,350.6 306.2,355.8 301.0,352.3 299.3,341.9Z" fill="#e48066"/><path d="M325.2,373.1 330.4,362.7 335.6,359.2 340.8,369.6 346.0,376.5 356.4,378.3 356.4,385.2 344.3,386.9 335.6,385.2 325.2,386.9Z" fill="#dd7059"/><path d="M389.4,376.5 394.5,366.1 404.9,359.2 413.6,360.9 415.3,373.1 406.7,380.0 403.2,386.9 394.5,385.2Z" fill="#fddbc7"/><path d="M354.7,438.9 359.9,428.5 366.8,433.7 373.8,444.1 375.5,452.8 366.8,452.8 359.9,447.6Z" fill="#dd7059"/><path d="M233.4,329.8 238.6,328.0 242.1,335.0 238.6,343.6 235.1,340.2Z" fill="#d6604d"/><path d="M255.9,343.6 259.4,341.0 261.1,347.1 257.7,348.8Z" fill="#ec9374"/><path d="M210.9,359.2 217.8,358.4 224.7,360.9 216.1,366.1 211.8,364.4Z" fill="#ec9374"/><path d="M297.5,248.3 304.5,241.4 321.8,241.4 323.5,248.3 318.3,255.3 311.4,260.5 306.2,257.0Z" fill="#c43b3c"/><path d="M377.2,283.0 385.9,281.2 392.8,288.2 394.5,293.4 385.9,296.8 380.7,305.5 379.0,293.4Z" fill="#f8bfa4"/><path d="M347.8,246.6 356.4,244.9 366.8,250.1 365.1,253.5 353.0,251.8Z" fill="#fbccb4"/><path d="M342.6,272.6 346.0,269.1 351.2,274.3 354.7,279.5 347.8,281.2Z" fill="#4393c3"/><path d="M375.5,241.4 380.7,241.4 387.6,251.8 385.9,257.0 379.0,250.1Z" fill="#c2ddec"/><path d="M93.1,260.5 96.5,258.7 98.3,263.9 93.9,269.1Z" fill="#0c3d73"/><path d="M29.0,462.3 35.9,461.4 35.0,466.6 29.8,466.6Z" fill="#b1d5e7"/><path d="M127.7,283.0 131.2,281.2 136.4,288.2 132.9,289.9Z" fill="#c43b3c"/><path d="M571.7,259.7 576.5,252.5 591.0,252.5 593.4,245.2 603.1,244.0 610.3,250.1 618.8,254.9 615.1,269.4 607.9,273.0 593.4,269.4 578.9,264.6Z" fill="#790622"/><path d="M528.2,295.9 533.0,288.7 542.7,287.5 549.9,293.5 554.8,298.4 564.4,300.8 576.5,305.6 586.1,317.7 576.5,324.9 578.9,334.6 588.6,344.2 583.7,349.1 569.2,346.7 559.6,339.4 545.1,337.0 530.6,341.8 518.5,339.4 520.9,329.7 528.2,322.5Z" fill="#d6604d"/><path d="M530.6,293.5 540.3,288.7 549.9,295.9 554.8,310.4 545.1,320.1 533.0,320.1Z" fill="#8a0b25" filter="url(#bl5)"/><path d="M629.6,184.9 634.5,177.6 648.9,177.6 665.8,180.0 685.2,177.6 702.1,180.0 711.7,184.9 704.5,189.7 685.2,192.1 665.8,192.1 656.2,196.9 644.1,199.4 641.7,213.8 624.8,223.5 612.7,221.1 610.3,216.3 622.4,211.4 632.0,201.8 632.0,194.5Z" fill="#d6604d"/><path d="M632.0,182.5 636.9,178.8 651.4,180.0 661.0,183.7 651.4,190.9 636.9,193.3Z" fill="#790622" filter="url(#bl3)"/><path d="M692.4,225.9 694.8,209.0 704.5,199.4 714.2,193.3 726.2,201.8 738.3,213.8 735.9,225.9 728.6,233.2 743.1,238.0 748.0,250.1 740.7,262.1 733.5,259.7 723.8,238.0 709.3,235.6 694.8,233.2Z" fill="#ec9374"/><path d="M714.2,195.7 726.2,203.0 735.9,216.3 728.6,221.1 716.6,209.0Z" fill="#c43b3c" filter="url(#bl4)"/><path d="M648.9,291.1 658.6,281.5 675.5,281.5 685.2,276.6 685.2,286.3 673.1,298.4 661.0,305.6 651.4,303.2Z" fill="#ec9374"/><path d="M687.6,295.9 699.7,288.7 709.3,286.3 711.7,298.4 706.9,312.8 697.2,315.3 690.0,308.0Z" fill="#f6b394"/><path d="M663.4,339.4 670.7,329.7 680.3,324.9 677.9,334.6 668.3,346.7Z" fill="#dd7059"/><path d="M694.8,366.0 699.7,361.1 709.3,366.0 715.4,370.8 711.7,380.5 702.1,375.6Z" fill="#dd7059"/><path d="M714.2,344.2 721.4,341.8 726.2,347.9 716.6,349.1Z" fill="#d6604d"/><path d="M767.3,322.5 776.9,315.3 796.3,315.3 801.1,324.9 805.9,320.1 818.0,322.5 825.3,334.6 830.1,358.7 830.1,382.9 825.3,407.0 834.9,426.3 825.3,433.6 810.8,428.8 801.1,419.1 796.3,431.2 781.8,431.2 774.5,419.1 796.3,402.2 805.9,382.9 810.8,358.7 801.1,334.6 781.8,334.6 769.7,332.2Z" fill="#fbccb4"/><path d="M760.0,407.0 772.1,399.8 779.4,392.5 781.8,385.3 791.4,385.3 792.6,397.4 786.6,407.0 784.2,419.1 774.5,419.1 762.5,411.9Z" fill="#9f1228"/><path d="M779.4,288.7 786.6,286.3 789.0,295.9 781.8,295.9Z" fill="#c43b3c"/><path d="M796.3,305.6 802.3,303.2 803.5,310.4 797.5,311.6Z" fill="#d6604d"/><path d="M434.0,387.7 438.8,385.3 443.7,394.9 450.9,407.0 446.1,407.0 438.8,399.8Z" fill="#e48066"/><path d="M441.2,397.4 444.9,397.4 450.9,407.0 446.1,407.0Z" fill="#790622"/><path d="M528.2,373.2 535.4,370.8 541.5,382.9 540.3,390.1 533.0,385.3Z" fill="#f8bfa4"/><path d="M687.6,479.5 697.2,472.2 702.1,474.6 699.7,489.1 692.4,495.4 687.6,495.4Z" fill="#f6b394"/><path d="M419.5,455.3 425.5,452.9 426.7,465.0 419.5,466.2Z" fill="#fbccb4"/><path d="M752.8,455.3 757.6,448.1 762.5,455.3 760.0,457.7Z" fill="#f8bfa4"/><path d="M542.7,271.8 547.5,268.2 551.1,269.4 545.1,274.2Z" fill="#0c3d73"/><path d="M576.5,390.1 586.1,387.7 588.6,394.9 583.7,397.4 578.9,394.9Z" fill="#6bacd1"/><path d="M499.2,373.2 508.9,372.0 507.7,382.9 501.6,385.3Z" fill="#4393c3"/><path d="M458.1,404.6 463.0,405.8 470.2,416.7 466.6,416.7Z" fill="#327cb7"/><path d="M735.9,398.6 743.1,397.4 741.9,402.2 737.1,402.2Z" fill="#90c4dd"/><path d="M836.9,412.4 835.8,412.4 832.9,410.4 827.2,412.4 825.3,408.5 824.3,393.3 827.2,379.9 829.1,366.5 832.9,347.4 831.0,328.3 823.7,311.4 821.6,305.5 819.6,296.7 817.5,289.8 815.5,283.0 814.1,274.8 812.1,269.4 812.1,266.0 814.8,263.9 809.4,264.6 807.3,260.5 805.9,255.1 803.2,251.6 799.8,250.3 801.2,252.3 799.8,259.1 795.7,263.2 791.6,263.9 788.9,259.8 790.9,263.2 787.5,267.3 780.7,272.8 777.3,276.9 773.9,276.9 774.6,272.1 772.5,274.2 768.4,274.8 767.1,271.4 765.0,276.2 763.7,270.7 760.2,274.2 763.7,268.0 762.3,266.0 758.9,272.8 756.1,272.8 755.5,269.4 756.8,262.6 759.6,255.7 761.6,246.9 760.2,240.0 756.8,231.9 754.1,225.0 751.4,218.2 749.4,213.0 746.3,208.1 740.2,205.1 734.6,203.2 731.0,200.2 727.3,196.5 722.4,191.6 718.7,185.4 717.5,180.5 715.6,174.4 714.4,165.8 711.3,159.6 708.2,156.0 703.3,160.3 699.0,160.9 695.4,156.0 694.1,149.8 693.5,143.7 693.5,146.7 688.0,146.1 692.9,149.8 692.9,154.7 691.1,159.0 691.7,167.0 690.4,170.7 688.0,173.8 685.5,171.9 681.8,168.2 683.1,163.3 680.0,165.8 677.6,170.7 675.7,174.4 673.3,169.5 670.8,174.4 668.3,174.4 666.5,169.5 664.7,170.7 663.4,175.6 661.0,176.2 659.7,169.5 657.3,171.3 655.5,174.4 653.0,176.2 651.2,174.4 650.5,169.5 649.9,166.4 648.1,164.9 649.3,167.6 649.9,170.7 646.9,174.4 638.9,178.1 631.5,181.7 629.1,185.4 630.9,190.3 630.3,196.5 626.6,200.8 619.7,204.5 606.1,207.9 600.9,213.0 590.7,225.0 578.8,236.9 566.8,246.4 554.4,255.8 552.5,259.6 544.8,264.4 535.3,268.2 527.7,277.7 523.8,276.8 516.2,280.6 513.3,286.3 514.3,301.6 516.2,313.1 514.3,328.3 508.6,345.5 508.6,355.1 508.6,368.4 502.8,372.2 499.0,378.0 495.2,385.6 487.6,392.3 481.8,397.1 478.0,404.7 468.5,408.5 458.9,399.0 451.3,385.6 449.4,374.2 443.6,358.9 436.0,345.5 428.4,334.1 422.6,315.0 418.8,301.6 413.1,292.1 407.4,282.5 405.4,276.8 399.7,265.3 395.9,250.0 392.1,232.9 390.2,221.4 389.7,221.9 391.3,217.8 388.1,213.7 387.3,205.5 389.7,193.2 388.1,185.0 387.3,179.3 394.6,175.2 386.4,176.9 384.8,175.2 388.1,172.0 385.6,172.0 384.8,168.7 388.9,166.2 379.1,167.0 379.9,170.3 376.6,173.6 379.9,176.9 379.1,181.8 375.0,185.9 364.3,191.6 357.8,193.2 352.1,191.6 343.9,185.0 335.7,178.5 327.5,172.0 324.2,167.0 325.1,163.8 329.2,165.4 335.7,163.8 345.5,160.5 350.4,152.6 343.9,155.6 335.7,158.0 327.5,155.6 321.0,152.3 316.1,146.6 312.8,142.5 321.0,138.8 311.1,138.4 309.5,140.9 303.0,139.2 298.1,135.9 294.8,131.9 294.0,123.7 284.8,114.1 278.0,111.0 255.9,114.1 235.4,114.1 218.3,115.8 197.9,117.5 179.1,114.1 158.6,112.4 138.2,109.0 129.6,107.4 127.3,106.5 123.7,101.2 120.2,88.8 114.8,83.5 106.0,82.6 97.1,85.2 88.3,90.5 79.4,94.1 70.5,90.5 61.7,88.8 48.4,81.7 42.2,75.5 33.3,71.9 26.2,70.2 20.0,63.1 13.8,50.7 11.1,43.6 1.4,31.2 0.0,30.5M0.0,87.0 3.1,89.4 4.1,95.4 2.4,101.4 2.3,106.5 6.7,111.8 12.0,118.9 13.8,122.5 12.9,114.5 12.9,106.5 17.3,100.3 21.8,99.4 26.2,103.8 27.1,114.5 26.2,123.4 23.5,127.8 26.2,132.2 30.6,135.8 39.5,136.6 52.8,134.9 66.1,134.9 75.0,130.4 83.8,121.6 92.7,112.7 101.6,103.0 108.6,96.8 110.4,98.5 107.8,105.6 106.9,114.5 108.6,123.4 114.8,132.2 123.7,136.6 129.6,139.3 145.0,143.1 153.5,148.2 160.3,156.7 167.2,161.8 168.0,167.0 163.8,175.5 158.6,180.6 153.5,189.1 145.0,196.0 138.2,196.0 134.8,204.5 133.0,216.4 129.6,221.5 116.0,226.7 98.9,238.6 95.9,243.2 90.6,248.5 85.3,255.6 79.9,257.4 71.1,256.5 62.2,260.0 49.8,264.4 40.9,269.8 38.3,278.6 28.5,284.0 14.3,288.4 0.0,293.7M0.0,349.6 12.6,342.5 21.4,345.1 19.6,354.9 19.6,367.3 23.2,369.1 17.0,370.8 14.3,383.2 10.8,392.1 0.0,408.1M510.5,380.8 516.2,382.8 525.8,393.3 535.3,402.8 542.9,416.2 544.8,427.6 539.1,439.1 529.6,443.9 520.0,444.8 512.4,439.1 508.6,423.8 507.6,408.5 508.6,393.3 510.5,380.8M771.8,452.5 772.8,449.6 777.6,455.4 787.1,456.3 800.5,456.3 811.9,458.2 821.5,467.7 829.1,477.3 836.9,483.0M808.1,495.3 800.5,486.8 789.0,477.3 775.6,467.7 771.8,452.5M56.9,331.8 62.2,329.2 77.3,332.7 71.1,336.3 62.2,337.1 56.9,333.6 56.9,331.8M734.6,315.0 736.5,320.7 733.6,328.3 733.6,337.9 729.8,345.5 727.9,353.2 726.9,347.4 728.9,336.0 729.8,326.4 734.6,315.0M725.0,360.8 727.9,364.6 726.0,367.5 723.7,364.6 725.0,360.8" fill="none" stroke="#fff" stroke-width="4.5" stroke-linejoin="round"/><path d="M0.0,0.0 836.9,0.0 836.9,412.4 835.8,412.4 832.9,410.4 827.2,412.4 825.3,408.5 824.3,393.3 827.2,379.9 829.1,366.5 832.9,347.4 831.0,328.3 823.7,311.4 821.6,305.5 819.6,296.7 817.5,289.8 815.5,283.0 814.1,274.8 812.1,269.4 812.1,266.0 814.8,263.9 809.4,264.6 807.3,260.5 805.9,255.1 803.2,251.6 799.8,250.3 801.2,252.3 799.8,259.1 795.7,263.2 791.6,263.9 788.9,259.8 790.9,263.2 787.5,267.3 780.7,272.8 777.3,276.9 773.9,276.9 774.6,272.1 772.5,274.2 768.4,274.8 767.1,271.4 765.0,276.2 763.7,270.7 760.2,274.2 763.7,268.0 762.3,266.0 758.9,272.8 756.1,272.8 755.5,269.4 756.8,262.6 759.6,255.7 761.6,246.9 760.2,240.0 756.8,231.9 754.1,225.0 751.4,218.2 749.4,213.0 746.3,208.1 740.2,205.1 734.6,203.2 731.0,200.2 727.3,196.5 722.4,191.6 718.7,185.4 717.5,180.5 715.6,174.4 714.4,165.8 711.3,159.6 708.2,156.0 703.3,160.3 699.0,160.9 695.4,156.0 694.1,149.8 693.5,143.7 693.5,146.7 688.0,146.1 692.9,149.8 692.9,154.7 691.1,159.0 691.7,167.0 690.4,170.7 688.0,173.8 685.5,171.9 681.8,168.2 683.1,163.3 680.0,165.8 677.6,170.7 675.7,174.4 673.3,169.5 670.8,174.4 668.3,174.4 666.5,169.5 664.7,170.7 663.4,175.6 661.0,176.2 659.7,169.5 657.3,171.3 655.5,174.4 653.0,176.2 651.2,174.4 650.5,169.5 649.9,166.4 648.1,164.9 649.3,167.6 649.9,170.7 646.9,174.4 638.9,178.1 631.5,181.7 629.1,185.4 630.9,190.3 630.3,196.5 626.6,200.8 619.7,204.5 606.1,207.9 600.9,213.0 590.7,225.0 578.8,236.9 566.8,246.4 554.4,255.8 552.5,259.6 544.8,264.4 535.3,268.2 527.7,277.7 523.8,276.8 516.2,280.6 513.3,286.3 514.3,301.6 516.2,313.1 514.3,328.3 508.6,345.5 508.6,355.1 508.6,368.4 502.8,372.2 499.0,378.0 495.2,385.6 487.6,392.3 481.8,397.1 478.0,404.7 468.5,408.5 458.9,399.0 451.3,385.6 449.4,374.2 443.6,358.9 436.0,345.5 428.4,334.1 422.6,315.0 418.8,301.6 413.1,292.1 407.4,282.5 405.4,276.8 399.7,265.3 395.9,250.0 392.1,232.9 390.2,221.4 389.7,221.9 391.3,217.8 388.1,213.7 387.3,205.5 389.7,193.2 388.1,185.0 387.3,179.3 394.6,175.2 386.4,176.9 384.8,175.2 388.1,172.0 385.6,172.0 384.8,168.7 388.9,166.2 379.1,167.0 379.9,170.3 376.6,173.6 379.9,176.9 379.1,181.8 375.0,185.9 364.3,191.6 357.8,193.2 352.1,191.6 343.9,185.0 335.7,178.5 327.5,172.0 324.2,167.0 325.1,163.8 329.2,165.4 335.7,163.8 345.5,160.5 350.4,152.6 343.9,155.6 335.7,158.0 327.5,155.6 321.0,152.3 316.1,146.6 312.8,142.5 321.0,138.8 311.1,138.4 309.5,140.9 303.0,139.2 298.1,135.9 294.8,131.9 294.0,123.7 284.8,114.1 278.0,111.0 255.9,114.1 235.4,114.1 218.3,115.8 197.9,117.5 179.1,114.1 158.6,112.4 138.2,109.0 129.6,107.4 127.3,106.5 123.7,101.2 120.2,88.8 114.8,83.5 106.0,82.6 97.1,85.2 88.3,90.5 79.4,94.1 70.5,90.5 61.7,88.8 48.4,81.7 42.2,75.5 33.3,71.9 26.2,70.2 20.0,63.1 13.8,50.7 11.1,43.6 1.4,31.2 0.0,30.5ZM0.0,87.0 3.1,89.4 4.1,95.4 2.4,101.4 2.3,106.5 6.7,111.8 12.0,118.9 13.8,122.5 12.9,114.5 12.9,106.5 17.3,100.3 21.8,99.4 26.2,103.8 27.1,114.5 26.2,123.4 23.5,127.8 26.2,132.2 30.6,135.8 39.5,136.6 52.8,134.9 66.1,134.9 75.0,130.4 83.8,121.6 92.7,112.7 101.6,103.0 108.6,96.8 110.4,98.5 107.8,105.6 106.9,114.5 108.6,123.4 114.8,132.2 123.7,136.6 129.6,139.3 145.0,143.1 153.5,148.2 160.3,156.7 167.2,161.8 168.0,167.0 163.8,175.5 158.6,180.6 153.5,189.1 145.0,196.0 138.2,196.0 134.8,204.5 133.0,216.4 129.6,221.5 116.0,226.7 98.9,238.6 95.9,243.2 90.6,248.5 85.3,255.6 79.9,257.4 71.1,256.5 62.2,260.0 49.8,264.4 40.9,269.8 38.3,278.6 28.5,284.0 14.3,288.4 0.0,293.7ZM0.0,349.6 12.6,342.5 21.4,345.1 19.6,354.9 19.6,367.3 23.2,369.1 17.0,370.8 14.3,383.2 10.8,392.1 0.0,408.1ZM510.5,380.8 516.2,382.8 525.8,393.3 535.3,402.8 542.9,416.2 544.8,427.6 539.1,439.1 529.6,443.9 520.0,444.8 512.4,439.1 508.6,423.8 507.6,408.5 508.6,393.3ZM771.8,452.5 772.8,449.6 777.6,455.4 787.1,456.3 800.5,456.3 811.9,458.2 821.5,467.7 829.1,477.3 836.9,483.0 836.9,495.3 808.1,495.3 800.5,486.8 789.0,477.3 775.6,467.7ZM56.9,331.8 62.2,329.2 77.3,332.7 71.1,336.3 62.2,337.1 56.9,333.6ZM734.6,315.0 736.5,320.7 733.6,328.3 733.6,337.9 729.8,345.5 727.9,353.2 726.9,347.4 728.9,336.0 729.8,326.4ZM725.0,360.8 727.9,364.6 726.0,367.5 723.7,364.6Z" fill="#d3d3d3" stroke="none"/><path d="M184.2,0.0 185.9,8.3 199.6,11.8 202.1,18.6 185.9,36.5 194.4,45.9 201.3,56.1 216.6,64.6 218.3,78.3 225.1,82.5 226.0,88.5 218.3,93.6 203.0,98.7 199.6,107.3 197.9,115.8M185.9,36.5 213.2,45.0 240.5,44.2 261.0,40.7 278.0,35.6 278.0,20.3 286.6,12.6 302.6,9.4 313.6,4.4 327.6,0.0M25.6,132.8 44.4,155.0 88.7,160.1 97.2,170.4 85.3,204.5 34.1,223.2 0.0,226.7M34.1,223.2 44.4,246.4 53.3,260.9M88.7,160.1 93.8,139.7 100.6,132.8 100.6,122.6 107.5,119.2M419.6,0.0 419.6,15.2 409.4,27.1 399.2,35.6 392.3,49.3 380.4,56.1 373.6,68.0 354.8,73.2 349.7,68.0 342.9,73.2 332.7,86.8 336.1,91.9 342.9,95.3 342.9,105.6 351.4,109.0 359.9,126.0 356.5,132.8 342.9,132.8 320.7,132.8 320.7,138.0M491.3,0.0 493.0,11.8 501.5,16.9 515.1,22.0 528.8,32.2 540.7,28.0 549.3,32.2 562.9,40.7 574.9,47.5 582.2,47.6 590.7,56.1 599.2,61.2 607.8,64.6 616.3,68.0 633.4,71.4 650.4,70.6 658.9,68.0 662.3,78.3 662.3,81.7M528.8,32.2 520.3,39.0 513.4,52.7 523.7,57.8 545.9,69.7 569.7,80.0 573.7,78.3 590.7,83.4 602.7,89.4 612.9,91.9 628.2,95.3 641.9,96.2 650.4,93.6 651.3,71.4 650.4,70.6M662.3,81.7 672.6,68.0 682.8,63.8 693.0,67.2 710.1,69.7 716.9,78.3 717.8,87.7 701.6,89.4 682.8,90.2 667.5,86.8 662.3,81.7M710.1,73.2 727.2,68.0 740.8,57.8 757.9,47.6 774.9,51.0 785.1,45.9 792.0,51.0 792.0,61.2 807.3,64.6 812.4,60.4 822.7,69.7 831.2,76.6 832.9,98.7 829.5,105.6 815.9,115.8 812.4,136.3 832.9,134.6 834.6,149.9M807.3,66.3 802.2,78.3 786.9,80.0 771.5,91.9 769.8,105.6 763.0,115.8 757.9,129.4 752.7,138.0 740.8,136.3 739.1,149.9 735.7,167.0 727.2,172.1 723.8,143.1 716.9,143.1 711.8,149.9M665.8,167.0 662.3,149.9 658.9,132.8 650.4,126.0 652.1,117.5 662.3,114.1 652.1,105.6 652.1,98.7 655.5,93.6 665.8,97.0 676.0,98.7 681.1,114.1 693.0,115.8 723.8,119.2 720.3,126.0 706.7,136.3 703.3,144.8 706.7,153.3 711.8,149.9M836.9,234.4 828.6,237.4 824.6,246.4 827.6,261.4 825.6,281.4 828.6,291.4M836.9,376.4 829.6,381.4" fill="none" stroke="#7a7a7a" stroke-width="1" stroke-linejoin="round"/><path d="M836.9,412.4 835.8,412.4 832.9,410.4 827.2,412.4 825.3,408.5 824.3,393.3 827.2,379.9 829.1,366.5 832.9,347.4 831.0,328.3 823.7,311.4 821.6,305.5 819.6,296.7 817.5,289.8 815.5,283.0 814.1,274.8 812.1,269.4 812.1,266.0 814.8,263.9 809.4,264.6 807.3,260.5 805.9,255.1 803.2,251.6 799.8,250.3 801.2,252.3 799.8,259.1 795.7,263.2 791.6,263.9 788.9,259.8 790.9,263.2 787.5,267.3 780.7,272.8 777.3,276.9 773.9,276.9 774.6,272.1 772.5,274.2 768.4,274.8 767.1,271.4 765.0,276.2 763.7,270.7 760.2,274.2 763.7,268.0 762.3,266.0 758.9,272.8 756.1,272.8 755.5,269.4 756.8,262.6 759.6,255.7 761.6,246.9 760.2,240.0 756.8,231.9 754.1,225.0 751.4,218.2 749.4,213.0 746.3,208.1 740.2,205.1 734.6,203.2 731.0,200.2 727.3,196.5 722.4,191.6 718.7,185.4 717.5,180.5 715.6,174.4 714.4,165.8 711.3,159.6 708.2,156.0 703.3,160.3 699.0,160.9 695.4,156.0 694.1,149.8 693.5,143.7 693.5,146.7 688.0,146.1 692.9,149.8 692.9,154.7 691.1,159.0 691.7,167.0 690.4,170.7 688.0,173.8 685.5,171.9 681.8,168.2 683.1,163.3 680.0,165.8 677.6,170.7 675.7,174.4 673.3,169.5 670.8,174.4 668.3,174.4 666.5,169.5 664.7,170.7 663.4,175.6 661.0,176.2 659.7,169.5 657.3,171.3 655.5,174.4 653.0,176.2 651.2,174.4 650.5,169.5 649.9,166.4 648.1,164.9 649.3,167.6 649.9,170.7 646.9,174.4 638.9,178.1 631.5,181.7 629.1,185.4 630.9,190.3 630.3,196.5 626.6,200.8 619.7,204.5 606.1,207.9 600.9,213.0 590.7,225.0 578.8,236.9 566.8,246.4 554.4,255.8 552.5,259.6 544.8,264.4 535.3,268.2 527.7,277.7 523.8,276.8 516.2,280.6 513.3,286.3 514.3,301.6 516.2,313.1 514.3,328.3 508.6,345.5 508.6,355.1 508.6,368.4 502.8,372.2 499.0,378.0 495.2,385.6 487.6,392.3 481.8,397.1 478.0,404.7 468.5,408.5 458.9,399.0 451.3,385.6 449.4,374.2 443.6,358.9 436.0,345.5 428.4,334.1 422.6,315.0 418.8,301.6 413.1,292.1 407.4,282.5 405.4,276.8 399.7,265.3 395.9,250.0 392.1,232.9 390.2,221.4 389.7,221.9 391.3,217.8 388.1,213.7 387.3,205.5 389.7,193.2 388.1,185.0 387.3,179.3 394.6,175.2 386.4,176.9 384.8,175.2 388.1,172.0 385.6,172.0 384.8,168.7 388.9,166.2 379.1,167.0 379.9,170.3 376.6,173.6 379.9,176.9 379.1,181.8 375.0,185.9 364.3,191.6 357.8,193.2 352.1,191.6 343.9,185.0 335.7,178.5 327.5,172.0 324.2,167.0 325.1,163.8 329.2,165.4 335.7,163.8 345.5,160.5 350.4,152.6 343.9,155.6 335.7,158.0 327.5,155.6 321.0,152.3 316.1,146.6 312.8,142.5 321.0,138.8 311.1,138.4 309.5,140.9 303.0,139.2 298.1,135.9 294.8,131.9 294.0,123.7 284.8,114.1 278.0,111.0 255.9,114.1 235.4,114.1 218.3,115.8 197.9,117.5 179.1,114.1 158.6,112.4 138.2,109.0 129.6,107.4 127.3,106.5 123.7,101.2 120.2,88.8 114.8,83.5 106.0,82.6 97.1,85.2 88.3,90.5 79.4,94.1 70.5,90.5 61.7,88.8 48.4,81.7 42.2,75.5 33.3,71.9 26.2,70.2 20.0,63.1 13.8,50.7 11.1,43.6 1.4,31.2 0.0,30.5M0.0,87.0 3.1,89.4 4.1,95.4 2.4,101.4 2.3,106.5 6.7,111.8 12.0,118.9 13.8,122.5 12.9,114.5 12.9,106.5 17.3,100.3 21.8,99.4 26.2,103.8 27.1,114.5 26.2,123.4 23.5,127.8 26.2,132.2 30.6,135.8 39.5,136.6 52.8,134.9 66.1,134.9 75.0,130.4 83.8,121.6 92.7,112.7 101.6,103.0 108.6,96.8 110.4,98.5 107.8,105.6 106.9,114.5 108.6,123.4 114.8,132.2 123.7,136.6 129.6,139.3 145.0,143.1 153.5,148.2 160.3,156.7 167.2,161.8 168.0,167.0 163.8,175.5 158.6,180.6 153.5,189.1 145.0,196.0 138.2,196.0 134.8,204.5 133.0,216.4 129.6,221.5 116.0,226.7 98.9,238.6 95.9,243.2 90.6,248.5 85.3,255.6 79.9,257.4 71.1,256.5 62.2,260.0 49.8,264.4 40.9,269.8 38.3,278.6 28.5,284.0 14.3,288.4 0.0,293.7M0.0,349.6 12.6,342.5 21.4,345.1 19.6,354.9 19.6,367.3 23.2,369.1 17.0,370.8 14.3,383.2 10.8,392.1 0.0,408.1M510.5,380.8 516.2,382.8 525.8,393.3 535.3,402.8 542.9,416.2 544.8,427.6 539.1,439.1 529.6,443.9 520.0,444.8 512.4,439.1 508.6,423.8 507.6,408.5 508.6,393.3 510.5,380.8M771.8,452.5 772.8,449.6 777.6,455.4 787.1,456.3 800.5,456.3 811.9,458.2 821.5,467.7 829.1,477.3 836.9,483.0M808.1,495.3 800.5,486.8 789.0,477.3 775.6,467.7 771.8,452.5M56.9,331.8 62.2,329.2 77.3,332.7 71.1,336.3 62.2,337.1 56.9,333.6 56.9,331.8M734.6,315.0 736.5,320.7 733.6,328.3 733.6,337.9 729.8,345.5 727.9,353.2 726.9,347.4 728.9,336.0 729.8,326.4 734.6,315.0M725.0,360.8 727.9,364.6 726.0,367.5 723.7,364.6 725.0,360.8" fill="none" stroke="#000" stroke-width="1.3" stroke-linejoin="round"/><circle cx="9.9" cy="101.9" r="2.2" fill="#d3d3d3" stroke="#000" stroke-width="1.2"/><circle cx="20.6" cy="130.9" r="1.3" fill="#d3d3d3" stroke="#000" stroke-width="1.2"/><circle cx="34.6" cy="134.4" r="1.3" fill="#d3d3d3" stroke="#000" stroke-width="1.2"/><circle cx="42.6" cy="133.9" r="1.5" fill="#d3d3d3" stroke="#000" stroke-width="1.2"/><circle cx="730.2" cy="389.4" r="1.5" fill="#d3d3d3" stroke="#000" stroke-width="1.2"/><circle cx="736.5" cy="405.7" r="1.3" fill="#d3d3d3" stroke="#000" stroke-width="1.2"/><circle cx="742.2" cy="407.6" r="1.5" fill="#d3d3d3" stroke="#000" stroke-width="1.2"/><circle cx="747.9" cy="425.7" r="2.2" fill="#d3d3d3" stroke="#000" stroke-width="1.2"/><circle cx="776.6" cy="445.4" r="1.2" fill="#d3d3d3" stroke="#000" stroke-width="1.2"/><circle cx="388.6" cy="350.4" r="1" fill="#d3d3d3" stroke="#000" stroke-width="1.2"/><circle cx="393.6" cy="404.4" r="1.2" fill="#d3d3d3" stroke="#000" stroke-width="1.2"/><circle cx="399.6" cy="475.4" r="1.2" fill="#d3d3d3" stroke="#000" stroke-width="1.2"/><circle cx="399.6" cy="490.4" r="1" fill="#d3d3d3" stroke="#000" stroke-width="1.2"/><path d="M170.8,0V495.3M341.6,0V495.3M512.4,0V495.3M683.2,0V495.3M0,461.2H836.9M0,375.8H836.9M0,290.4H836.9M0,205.0H836.9M0,119.6H836.9M0,34.2H836.9" fill="none" stroke="#8c8c8c" stroke-opacity="0.6" stroke-width="1" stroke-dasharray="3.7,2"/></g><rect x="0" y="0" width="836.9" height="495.3" fill="none" stroke="#000" stroke-width="2.8"/><text x="-17.1" y="474.1" text-anchor="end" class="tk">5°N</text><text x="-17.1" y="388.7" text-anchor="end" class="tk">10°N</text><text x="-17.1" y="303.3" text-anchor="end" class="tk">15°N</text><text x="-17.1" y="217.9" text-anchor="end" class="tk">20°N</text><text x="-17.1" y="132.5" text-anchor="end" class="tk">25°N</text><text x="-17.1" y="47.1" text-anchor="end" class="tk">30°N</text><text x="170.8" y="547.4" text-anchor="middle" class="tk">60°E</text><text x="341.6" y="547.4" text-anchor="middle" class="tk">70°E</text><text x="512.4" y="547.4" text-anchor="middle" class="tk">80°E</text><text x="683.2" y="547.4" text-anchor="middle" class="tk">90°E</text></g><text x="19.4" y="43" class="pl">(A)</text><text x="1291.8" y="43" class="pl">(B)</text><text x="21.5" y="793" class="pl">(C)</text><text x="1289.9" y="793" class="pl">(D)</text><text x="551.9" y="112.6" text-anchor="middle" class="ti">(1980-1985) Average Primary Production</text><text x="1825.0" y="112.6" text-anchor="middle" class="ti">Primary Production trend</text><text x="544.6" y="862.6" text-anchor="middle" class="ti it">Climate change response trend</text><text x="1817.8" y="862.6" text-anchor="middle" class="ti it">N Deposition change response trend</text><linearGradient id="gA" x1="0" y1="0" x2="0" y2="1"><stop offset="0.0000" stop-color="#9e0142"/><stop offset="0.0417" stop-color="#b41947"/><stop offset="0.0833" stop-color="#cb334d"/><stop offset="0.1250" stop-color="#dc484c"/><stop offset="0.1667" stop-color="#e95c47"/><stop offset="0.2083" stop-color="#f57245"/><stop offset="0.2500" stop-color="#f88c51"/><stop offset="0.2917" stop-color="#fca85e"/><stop offset="0.3333" stop-color="#fdbf6f"/><stop offset="0.3750" stop-color="#fed27f"/><stop offset="0.4167" stop-color="#fee593"/><stop offset="0.4583" stop-color="#fff2aa"/><stop offset="0.5000" stop-color="#fffebe"/><stop offset="0.5417" stop-color="#f5fbaf"/><stop offset="0.5833" stop-color="#eaf79e"/><stop offset="0.6250" stop-color="#d8ef9b"/><stop offset="0.6667" stop-color="#bfe5a0"/><stop offset="0.7083" stop-color="#a4daa4"/><stop offset="0.7500" stop-color="#89d0a4"/><stop offset="0.7917" stop-color="#6bc4a5"/><stop offset="0.8333" stop-color="#54aead"/><stop offset="0.8750" stop-color="#3f97b7"/><stop offset="0.9167" stop-color="#3a7eb8"/><stop offset="0.9583" stop-color="#4d65ad"/><stop offset="1.0000" stop-color="#5e4fa2"/></linearGradient><rect x="1025.8" y="182.2" width="24.5" height="471.59999999999997" fill="url(#gA)"/><path d="M1025.8,182.2L1038.05,158.6L1050.3,182.2Z" fill="#9e0142"/><path d="M1025.8,653.8L1025.8,182.2L1038.05,158.6L1050.3,182.2L1050.3,653.8Z" fill="none" stroke="#000" stroke-width="2.6" stroke-linejoin="miter"/><path d="M1050.3,653.8h11" stroke="#000" stroke-width="2.6"/><text x="1076.3" y="669.6" class="cb">0</text><path d="M1050.3,496.59999999999997h11" stroke="#000" stroke-width="2.6"/><text x="1076.3" y="512.4" class="cb">500</text><path d="M1050.3,339.4h11" stroke="#000" stroke-width="2.6"/><text x="1076.3" y="355.2" class="cb">1000</text><path d="M1050.3,182.19999999999993h11" stroke="#000" stroke-width="2.6"/><text x="1076.3" y="198.0" class="cb">1500</text><linearGradient id="gB" x1="0" y1="0" x2="0" y2="1"><stop offset="0.0000" stop-color="#67001f"/><stop offset="0.0417" stop-color="#840924"/><stop offset="0.0833" stop-color="#a51429"/><stop offset="0.1250" stop-color="#ba2832"/><stop offset="0.1667" stop-color="#c94741"/><stop offset="0.2083" stop-color="#d86551"/><stop offset="0.2500" stop-color="#e48066"/><stop offset="0.2917" stop-color="#f19e7d"/><stop offset="0.3333" stop-color="#f7b799"/><stop offset="0.3750" stop-color="#fbccb4"/><stop offset="0.4167" stop-color="#fcdfcf"/><stop offset="0.4583" stop-color="#f9ebe3"/><stop offset="0.5000" stop-color="#f7f6f6"/><stop offset="0.5417" stop-color="#e7f0f4"/><stop offset="0.5833" stop-color="#d7e8f1"/><stop offset="0.6250" stop-color="#c2ddec"/><stop offset="0.6667" stop-color="#a7d0e4"/><stop offset="0.7083" stop-color="#8ac0db"/><stop offset="0.7500" stop-color="#6bacd1"/><stop offset="0.7917" stop-color="#4997c5"/><stop offset="0.8333" stop-color="#3783bb"/><stop offset="0.8750" stop-color="#2a71b2"/><stop offset="0.9167" stop-color="#1c5c9f"/><stop offset="0.9583" stop-color="#10457e"/><stop offset="1.0000" stop-color="#053061"/></linearGradient><rect x="2299.0" y="182.2" width="24.5" height="449.7" fill="url(#gB)"/><path d="M2299.0,182.2L2311.25,158.4L2323.5,182.2Z" fill="#67001f"/><path d="M2299.0,631.9L2311.25,654.0L2323.5,631.9Z" fill="#053061"/><path d="M2299.0,631.9L2299.0,182.2L2311.25,158.4L2323.5,182.2L2323.5,631.9L2311.25,654.0Z" fill="none" stroke="#000" stroke-width="2.6" stroke-linejoin="miter"/><path d="M2323.5,631.9h11" stroke="#000" stroke-width="2.6"/><text x="2349.5" y="647.7" class="cb">−40</text><path d="M2323.5,519.475h11" stroke="#000" stroke-width="2.6"/><text x="2349.5" y="535.3" class="cb">−20</text><path d="M2323.5,407.04999999999995h11" stroke="#000" stroke-width="2.6"/><text x="2349.5" y="422.8" class="cb">0</text><path d="M2323.5,294.625h11" stroke="#000" stroke-width="2.6"/><text x="2349.5" y="310.4" class="cb">20</text><path d="M2323.5,182.2h11" stroke="#000" stroke-width="2.6"/><text x="2349.5" y="198.0" class="cb">40</text><linearGradient id="gC" x1="0" y1="0" x2="0" y2="1"><stop offset="0.0000" stop-color="#67001f"/><stop offset="0.0417" stop-color="#840924"/><stop offset="0.0833" stop-color="#a51429"/><stop offset="0.1250" stop-color="#ba2832"/><stop offset="0.1667" stop-color="#c94741"/><stop offset="0.2083" stop-color="#d86551"/><stop offset="0.2500" stop-color="#e48066"/><stop offset="0.2917" stop-color="#f19e7d"/><stop offset="0.3333" stop-color="#f7b799"/><stop offset="0.3750" stop-color="#fbccb4"/><stop offset="0.4167" stop-color="#fcdfcf"/><stop offset="0.4583" stop-color="#f9ebe3"/><stop offset="0.5000" stop-color="#f7f6f6"/><stop offset="0.5417" stop-color="#e7f0f4"/><stop offset="0.5833" stop-color="#d7e8f1"/><stop offset="0.6250" stop-color="#c2ddec"/><stop offset="0.6667" stop-color="#a7d0e4"/><stop offset="0.7083" stop-color="#8ac0db"/><stop offset="0.7500" stop-color="#6bacd1"/><stop offset="0.7917" stop-color="#4997c5"/><stop offset="0.8333" stop-color="#3783bb"/><stop offset="0.8750" stop-color="#2a71b2"/><stop offset="0.9167" stop-color="#1c5c9f"/><stop offset="0.9583" stop-color="#10457e"/><stop offset="1.0000" stop-color="#053061"/></linearGradient><rect x="1025.8" y="932.2" width="24.5" height="449.70000000000005" fill="url(#gC)"/><path d="M1025.8,932.2L1038.05,908.4L1050.3,932.2Z" fill="#67001f"/><path d="M1025.8,1381.9L1038.05,1404.0L1050.3,1381.9Z" fill="#053061"/><path d="M1025.8,1381.9L1025.8,932.2L1038.05,908.4L1050.3,932.2L1050.3,1381.9L1038.05,1404.0Z" fill="none" stroke="#000" stroke-width="2.6" stroke-linejoin="miter"/><path d="M1050.3,1381.9h11" stroke="#000" stroke-width="2.6"/><text x="1076.3" y="1397.7" class="cb">−40</text><path d="M1050.3,1269.4750000000001h11" stroke="#000" stroke-width="2.6"/><text x="1076.3" y="1285.3" class="cb">−20</text><path d="M1050.3,1157.0500000000002h11" stroke="#000" stroke-width="2.6"/><text x="1076.3" y="1172.9" class="cb">0</text><path d="M1050.3,1044.625h11" stroke="#000" stroke-width="2.6"/><text x="1076.3" y="1060.4" class="cb">20</text><path d="M1050.3,932.2h11" stroke="#000" stroke-width="2.6"/><text x="1076.3" y="948.0" class="cb">40</text><linearGradient id="gD" x1="0" y1="0" x2="0" y2="1"><stop offset="0.0000" stop-color="#67001f"/><stop offset="0.0417" stop-color="#840924"/><stop offset="0.0833" stop-color="#a51429"/><stop offset="0.1250" stop-color="#ba2832"/><stop offset="0.1667" stop-color="#c94741"/><stop offset="0.2083" stop-color="#d86551"/><stop offset="0.2500" stop-color="#e48066"/><stop offset="0.2917" stop-color="#f19e7d"/><stop offset="0.3333" stop-color="#f7b799"/><stop offset="0.3750" stop-color="#fbccb4"/><stop offset="0.4167" stop-color="#fcdfcf"/><stop offset="0.4583" stop-color="#f9ebe3"/><stop offset="0.5000" stop-color="#f7f6f6"/><stop offset="0.5417" stop-color="#e7f0f4"/><stop offset="0.5833" stop-color="#d7e8f1"/><stop offset="0.6250" stop-color="#c2ddec"/><stop offset="0.6667" stop-color="#a7d0e4"/><stop offset="0.7083" stop-color="#8ac0db"/><stop offset="0.7500" stop-color="#6bacd1"/><stop offset="0.7917" stop-color="#4997c5"/><stop offset="0.8333" stop-color="#3783bb"/><stop offset="0.8750" stop-color="#2a71b2"/><stop offset="0.9167" stop-color="#1c5c9f"/><stop offset="0.9583" stop-color="#10457e"/><stop offset="1.0000" stop-color="#053061"/></linearGradient><rect x="2299.0" y="932.2" width="24.5" height="449.70000000000005" fill="url(#gD)"/><path d="M2299.0,932.2L2311.25,908.4L2323.5,932.2Z" fill="#67001f"/><path d="M2299.0,1381.9L2311.25,1404.0L2323.5,1381.9Z" fill="#053061"/><path d="M2299.0,1381.9L2299.0,932.2L2311.25,908.4L2323.5,932.2L2323.5,1381.9L2311.25,1404.0Z" fill="none" stroke="#000" stroke-width="2.6" stroke-linejoin="miter"/><path d="M2323.5,1381.9h11" stroke="#000" stroke-width="2.6"/><text x="2349.5" y="1397.7" class="cb">−20</text><path d="M2323.5,1269.4750000000001h11" stroke="#000" stroke-width="2.6"/><text x="2349.5" y="1285.3" class="cb">−10</text><path d="M2323.5,1157.0500000000002h11" stroke="#000" stroke-width="2.6"/><text x="2349.5" y="1172.9" class="cb">0</text><path d="M2323.5,1044.625h11" stroke="#000" stroke-width="2.6"/><text x="2349.5" y="1060.4" class="cb">10</text><path d="M2323.5,932.2h11" stroke="#000" stroke-width="2.6"/><text x="2349.5" y="948.0" class="cb">20</text><text transform="translate(1224.8,417.8) rotate(-90)" text-anchor="middle" class="cl">(mg C m<tspan dy="-15.3" font-size="27.3">−2</tspan><tspan dy="15.3"> d</tspan><tspan dy="-15.3" font-size="27.3">−1</tspan><tspan dy="15.3">)</tspan></text><text transform="translate(2482.5,405.3) rotate(-90)" text-anchor="middle" class="cl">(mg C m<tspan dy="-15.3" font-size="27.3">−2</tspan><tspan dy="15.3"> d</tspan><tspan dy="-15.3" font-size="27.3">−1</tspan><tspan dy="15.3"> yr</tspan><tspan dy="-15.3" font-size="27.3">−1</tspan><tspan dy="15.3">)</tspan></text><text transform="translate(1206.5,1155.3) rotate(-90)" text-anchor="middle" class="cl">(mg C m<tspan dy="-15.3" font-size="27.3">−2</tspan><tspan dy="15.3"> d</tspan><tspan dy="-15.3" font-size="27.3">−1</tspan><tspan dy="15.3"> yr</tspan><tspan dy="-15.3" font-size="27.3">−1</tspan><tspan dy="15.3">)</tspan></text><text transform="translate(2482.5,1155.3) rotate(-90)" text-anchor="middle" class="cl">(mg C m<tspan dy="-15.3" font-size="27.3">−2</tspan><tspan dy="15.3"> d</tspan><tspan dy="-15.3" font-size="27.3">−1</tspan><tspan dy="15.3"> yr</tspan><tspan dy="-15.3" font-size="27.3">−1</tspan><tspan dy="15.3">)</tspan></text></svg></body></html>
